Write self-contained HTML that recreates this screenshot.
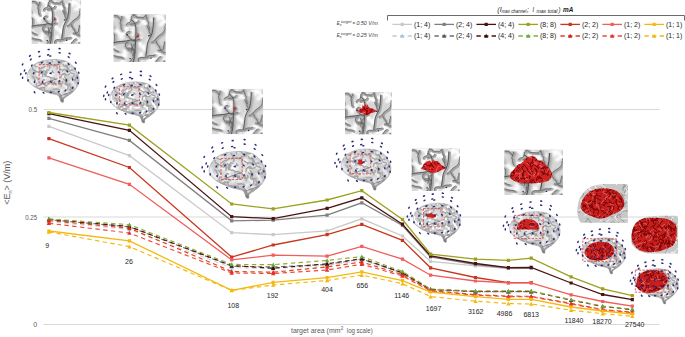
<!DOCTYPE html>
<html><head><meta charset="utf-8"><style>
html,body{margin:0;padding:0;background:#fff;}
svg{display:block;font-family:"Liberation Sans",sans-serif;}
</style></head><body>
<svg width="685" height="337" viewBox="0 0 685 337">
<defs><filter id="b1" x="-10%" y="-10%" width="120%" height="120%"><feGaussianBlur stdDeviation="1.6"/></filter><filter id="b03" x="-10%" y="-10%" width="120%" height="120%"><feGaussianBlur stdDeviation="0.3"/></filter><filter id="b05" x="-10%" y="-10%" width="120%" height="120%"><feGaussianBlur stdDeviation="0.5"/></filter><radialGradient id="bg" cx="0.45" cy="0.35" r="0.65"><stop offset="0" stop-color="#e2e2e2"/><stop offset="0.7" stop-color="#cacaca"/><stop offset="1" stop-color="#9c9c9c"/></radialGradient><clipPath id="bclip"><path d="M0.00,36.00 C-0.45,32.53 0.40,28.78 1.80,25.00 C3.20,21.22 4.65,18.35 7.80,15.00 C10.95,11.65 14.22,8.90 19.30,6.40 C24.38,3.90 29.39,2.25 36.00,1.10 C42.61,-0.05 49.34,-0.31 56.00,0.00 C62.66,0.31 67.60,0.87 73.00,2.80 C78.40,4.73 81.97,6.96 86.00,10.70 C90.03,14.44 92.88,18.83 95.40,23.60 C97.92,28.37 99.60,32.56 100.00,37.20 C100.40,41.84 99.22,45.39 97.60,49.40 C95.98,53.41 93.84,56.26 91.00,59.50 C88.16,62.74 84.77,65.06 81.80,67.40 C78.83,69.74 76.53,70.95 74.50,72.50 C72.47,74.05 71.40,74.22 70.50,76.00 C69.60,77.78 70.49,81.50 69.50,82.40 C68.51,83.30 66.17,82.33 65.00,81.00 C63.83,79.67 64.26,77.25 63.00,75.00 C61.74,72.75 61.60,70.34 58.00,68.50 C54.40,66.66 48.53,66.47 43.00,64.80 C37.47,63.13 32.59,61.45 27.30,59.20 C22.01,56.95 17.74,54.98 13.60,52.30 C9.46,49.62 6.75,47.23 4.30,44.30 C1.85,41.37 0.45,39.47 0.00,36.00Z"/></clipPath><linearGradient id="edge" x1="0" y1="0" x2="0" y2="1"><stop offset="0.3" stop-color="#ffffff" stop-opacity="0"/><stop offset="1" stop-color="#707070" stop-opacity="1"/></linearGradient><g id="brain"><path d="M0.00,36.00 C-0.45,32.53 0.40,28.78 1.80,25.00 C3.20,21.22 4.65,18.35 7.80,15.00 C10.95,11.65 14.22,8.90 19.30,6.40 C24.38,3.90 29.39,2.25 36.00,1.10 C42.61,-0.05 49.34,-0.31 56.00,0.00 C62.66,0.31 67.60,0.87 73.00,2.80 C78.40,4.73 81.97,6.96 86.00,10.70 C90.03,14.44 92.88,18.83 95.40,23.60 C97.92,28.37 99.60,32.56 100.00,37.20 C100.40,41.84 99.22,45.39 97.60,49.40 C95.98,53.41 93.84,56.26 91.00,59.50 C88.16,62.74 84.77,65.06 81.80,67.40 C78.83,69.74 76.53,70.95 74.50,72.50 C72.47,74.05 71.40,74.22 70.50,76.00 C69.60,77.78 70.49,81.50 69.50,82.40 C68.51,83.30 66.17,82.33 65.00,81.00 C63.83,79.67 64.26,77.25 63.00,75.00 C61.74,72.75 61.60,70.34 58.00,68.50 C54.40,66.66 48.53,66.47 43.00,64.80 C37.47,63.13 32.59,61.45 27.30,59.20 C22.01,56.95 17.74,54.98 13.60,52.30 C9.46,49.62 6.75,47.23 4.30,44.30 C1.85,41.37 0.45,39.47 0.00,36.00Z" fill="url(#bg)"/><g clip-path="url(#bclip)"><path d="M90.6,50.7L91.6,52.1L92.7,53.6L94.4,54.2L96.2,54.6L97.5,55.8 M70.7,36.7L69.7,35.2L69.0,33.5L68.9,31.7L68.3,30.0L68.2,28.2 M12.2,50.7L11.2,49.2L11.1,47.4L11.4,45.6L11.1,43.8L10.8,42.0 M90.3,8.1L90.0,6.4L89.8,4.6L88.9,3.0 M58.3,51.7L56.5,51.7L54.7,52.0L52.9,52.0L51.2,51.4L49.7,50.4L49.0,48.8L48.9,47.0 M3.7,37.0L5.1,38.1L5.8,39.8L6.4,41.5L6.5,43.3 M19.3,25.3L20.0,23.7L20.0,21.9L20.2,20.1 M2.4,28.8L2.1,30.6L2.0,32.4L1.5,34.1L1.7,35.9 M81.8,24.2L82.4,22.5L82.5,20.7L83.2,19.1L84.1,17.5 M13.1,84.8L11.6,85.7L10.6,87.3L10.7,89.1L9.8,90.6 M51.8,80.9L50.2,81.7L49.2,83.2L48.2,84.7L46.5,85.4L45.3,86.7L44.9,88.4L44.8,90.2 M33.9,69.3L32.3,68.5L30.5,68.5L28.7,68.6L26.9,68.5 M99.0,82.4L97.3,83.1L96.2,84.5L95.8,86.3L94.6,87.6 M40.9,29.7L42.5,29.0L43.6,27.5L45.2,26.8L46.3,25.3L46.9,23.6L48.1,22.3L48.5,20.5 M34.9,17.2L34.4,19.0L34.6,20.8L35.1,22.5L36.3,23.8L37.5,25.1L39.3,25.7L40.9,26.5 M19.3,39.7L18.7,41.4L18.0,43.1L17.8,44.9L17.9,46.7L17.1,48.3 M58.0,-3.8L56.3,-3.2L54.8,-2.3L53.1,-1.6L51.8,-0.3 M91.8,73.6L90.4,72.4L88.6,72.0L86.8,71.8L85.0,71.9L83.3,72.1L81.8,73.1L80.8,74.6 M-0.4,71.9L-2.2,72.1L-3.8,71.3L-4.7,69.8L-4.8,68.0 M72.5,9.4L73.3,7.8L73.3,6.0L73.5,4.2L74.6,2.8L75.6,1.3L77.1,0.3L78.8,-0.4 M78.0,-3.7L79.5,-4.7L80.4,-6.2L80.3,-8.0L79.4,-9.6L77.9,-10.6 M66.8,72.4L67.0,70.6L68.0,69.1L69.3,67.9 M32.3,2.2L32.2,0.4L32.3,-1.4L32.8,-3.2L33.7,-4.7L34.4,-6.3L35.7,-7.7 M22.7,54.4L24.2,55.4L25.6,56.5L26.3,58.2L26.2,60.0 M99.8,49.6L98.1,49.9L96.3,50.1L94.9,51.3L93.8,52.7L93.4,54.5L93.0,56.2L92.9,58.0 M-2.4,46.5L-1.3,48.0L-0.7,49.6L0.7,50.8L2.4,51.5 M69.3,48.9L71.0,49.4L72.7,49.9L74.5,50.1L76.2,50.5L78.0,51.0L79.4,52.0 M26.2,31.7L26.9,30.0L27.4,28.3L27.1,26.5L26.2,25.0L25.0,23.6 M75.0,28.2L76.8,28.3L78.3,27.5L80.1,27.1L81.8,26.4 M61.8,18.0L63.5,17.6L65.3,17.3L67.0,18.1L68.2,19.4 M50.4,1.0L48.8,0.1L47.8,-1.4L47.4,-3.2 M87.9,65.2L86.1,65.0L84.7,63.9L83.0,63.3L81.2,63.5L79.7,64.5L78.3,65.6 M67.8,21.3L67.2,19.6L66.5,18.0L65.8,16.3L64.5,15.1L62.9,14.2 M-3.4,86.9L-3.9,85.2L-3.9,83.4L-4.3,81.6L-5.1,80.0L-6.3,78.7L-6.9,77.0 M28.6,47.4L28.8,49.1L28.4,50.9L28.8,52.6L30.0,53.9L31.7,54.5L33.2,55.6 M93.8,77.3L92.5,76.1L91.4,74.7L89.7,74.1 M102.7,14.0L104.0,15.3L104.5,17.0L105.8,18.3L106.7,19.8L107.6,21.4 M64.4,63.1L64.5,61.3L65.5,59.8L66.8,58.6L68.3,57.6 M45.7,46.5L44.2,47.6L43.0,48.9L42.0,50.4L41.7,52.2L42.1,54.0 M45.9,32.8L44.1,32.7L42.3,32.7L40.7,33.4 M36.9,79.8L37.4,81.5L38.0,83.2L38.8,84.8L38.8,86.6L39.1,88.4L40.1,89.9L41.5,90.9 M10.0,76.9L10.0,75.1L9.1,73.5L8.9,71.7 M26.1,71.0L27.8,71.6L29.3,72.7L31.1,72.8L32.6,73.8L34.4,73.9L36.1,73.6 M85.1,39.9L85.9,41.5L86.6,43.2L87.3,44.8L88.6,46.1L89.4,47.7L90.4,49.2L91.6,50.5 M70.7,85.1L71.9,86.4L73.6,86.9L75.3,86.4L77.0,86.0L78.8,85.9L80.6,85.6L82.3,86.2 M86.1,6.1L84.3,6.6L82.6,6.9L81.1,8.0L79.7,9.0L78.0,9.7 M92.2,27.5L90.4,27.2L88.7,27.8L86.9,28.0L85.1,28.1 M94.4,1.6L93.2,2.9L91.6,3.7L89.9,4.4 M-2.2,55.9L-2.1,54.1L-2.8,52.5L-4.2,51.3L-5.6,50.1L-7.3,49.5L-8.3,48.1L-10.0,47.5 M88.6,78.2L89.1,76.4L89.5,74.7L90.2,73.0 M22.3,18.3L21.5,16.7L21.7,14.9L21.9,13.1L22.6,11.4L23.0,9.7 M1.4,3.0L2.3,1.4L3.3,-0.1L4.9,-0.8L6.7,-1.2L8.5,-0.9L10.1,-0.2L11.8,0.5 M49.2,75.2L47.4,75.7L45.9,76.7L44.1,77.1L42.9,78.4L41.3,79.3 M61.5,39.2L61.1,37.4L61.3,35.6L62.4,34.2L63.6,32.8 M75.3,64.7L75.1,62.9L75.8,61.3L75.8,59.5L75.4,57.7L76.0,56.0L75.6,54.3L75.0,52.6 M9.2,-3.6L7.8,-2.5L7.1,-0.8L5.7,0.3 M33.0,39.8L33.8,38.1L34.5,36.5L35.3,34.9L36.3,33.4L36.3,31.6L36.3,29.8L35.3,28.3 M3.4,14.1L5.1,13.4L6.7,12.7L8.5,12.7 M93.0,33.3L92.7,35.1L92.7,36.9L93.1,38.6 M62.0,86.0L61.1,84.5L59.6,83.5L58.1,82.4L56.4,81.8L54.6,82.0L52.9,82.3L51.3,83.2 M8.1,54.7L6.3,54.9L4.5,54.7L2.7,54.4L1.1,53.7L-0.7,53.3 M71.6,71.2L69.9,70.6L68.2,70.3L66.6,69.5L65.4,68.2L63.6,67.7 M49.1,27.2L47.9,28.6L47.1,30.2L45.5,31.1L44.2,32.3L43.2,33.8 M16.7,13.2L18.4,12.8L19.9,11.8L21.2,10.5L22.8,9.7 M27.1,0.6L25.5,1.4L23.7,1.4L22.0,0.8L20.2,0.7 M103.1,60.5L102.7,58.8L102.1,57.1L102.1,55.3 M35.8,45.5L34.6,44.1L33.4,42.8L32.1,41.5L30.5,40.7 M20.8,20.6L20.2,22.3L19.8,24.1L20.1,25.9L20.1,27.7L20.5,29.4L21.7,30.7 M35.9,58.9L34.5,57.8L33.2,56.6L31.9,55.3L30.3,54.5L29.1,53.2 M24.5,83.7L22.8,84.3L21.0,84.5L19.2,84.3L17.6,85.1L16.2,86.2L14.9,87.5L13.2,88.0" fill="none" stroke="#ffffff" stroke-width="4" stroke-linecap="round" filter="url(#b1)"/><path d="M87.6,53.4L86.2,54.3L85.0,55.3L83.8,56.3L83.1,57.7L81.7,58.6 M21.9,77.7L21.1,79.1L20.2,80.4L19.3,81.8L18.7,83.3 M65.2,50.5L65.3,48.9L64.5,47.5L63.4,46.4L62.9,44.8L62.8,43.3L62.6,41.7 M93.1,36.0L91.8,36.9L91.2,38.4L90.6,39.8 M61.4,64.8L62.7,65.8L63.9,66.8L64.7,68.2L64.5,69.8L64.9,71.4L66.2,72.4 M89.9,5.2L88.5,6.0L86.9,5.8L85.4,5.2L83.8,5.0 M15.4,1.8L17.0,2.3L18.5,1.9L20.0,1.3 M-2.2,46.1L-2.5,44.5L-3.2,43.1L-3.3,41.5L-3.1,40.0L-2.8,38.4L-2.3,36.9L-2.4,35.3 M73.4,27.1L71.9,26.6L70.3,27.1L68.9,27.9L67.4,28.3 M11.5,7.1L11.9,8.6L12.4,10.1L13.6,11.3L15.0,11.8L16.4,12.7L17.8,13.5L19.4,13.3 M28.3,42.1L29.1,40.7L30.5,40.0L31.8,39.0L33.3,38.8 M101.2,74.6L99.9,73.6L98.5,72.9L97.0,72.3L95.5,71.8 M27.5,52.7L26.5,53.9L25.1,54.7L23.8,55.6L22.3,56.2L20.7,56.1L19.1,56.0L17.5,56.0 M95.5,81.4L94.4,80.3L92.8,80.1L91.4,79.3L90.6,77.9L90.1,76.4 M42.5,16.9L43.0,15.4L43.4,13.9L43.4,12.3L43.2,10.7 M28.6,32.2L29.5,30.8L29.6,29.2L29.1,27.7L27.8,26.8L26.8,25.6L26.3,24.0L25.6,22.6 M80.8,26.9L80.0,28.3L78.5,28.9L76.9,28.9L75.4,29.5L73.8,29.5L72.4,28.8L70.8,28.9 M52.4,12.0L53.8,11.2L55.4,10.9L56.8,11.7L57.6,13.1L57.8,14.6L57.2,16.1L57.0,17.7 M102.9,19.2L102.9,17.6L103.7,16.2L103.8,14.6L103.2,13.1L103.3,11.5L104.3,10.3 M85.8,61.7L84.8,60.5L83.5,59.5L82.3,58.5 M24.8,5.3L26.4,5.1L28.0,4.9L29.4,4.2L30.7,3.3 M93.6,79.3L95.1,79.0L96.2,77.8L96.5,76.2 M20.8,66.7L21.6,68.1L22.3,69.6L21.9,71.1L21.9,72.7L22.8,74.1L22.7,75.7L23.0,77.3L23.9,78.6 M35.8,70.4L35.6,68.9L35.9,67.3L36.3,65.7L37.4,64.6L38.9,64.0L40.5,63.7L42.0,64.1L42.9,65.4 M64.3,34.8L64.8,33.2L64.9,31.6L65.3,30.1L66.3,28.9L67.8,28.2L69.1,27.4L70.6,26.8 M89.0,81.0L90.4,80.1L91.1,78.7L91.0,77.1L90.9,75.5L90.0,74.2L88.8,73.2L87.2,72.8 M24.1,75.8L23.6,77.3L22.9,78.7L21.8,79.8L20.2,80.2L18.6,79.9 M44.1,62.7L42.5,62.3L40.9,62.3L39.4,62.8L37.8,63.1L36.3,62.7L34.9,62.0L33.4,61.3 M-1.5,66.5L0.1,66.6L1.7,66.7L3.3,66.5L4.6,65.6 M37.6,49.1L36.2,49.8L34.6,49.6L33.4,48.5L32.4,47.3L30.8,46.8 M28.6,71.2L30.2,70.8L31.7,71.3L33.3,70.9L34.7,70.3L36.3,70.6L37.7,71.3L39.3,71.0 M62.0,76.6L63.3,75.8L64.2,74.5L65.1,73.1L65.0,71.5L64.6,70.0L64.8,68.4 M-1.9,30.4L-3.0,29.2L-4.5,28.6L-6.1,28.8L-7.5,29.5 M83.7,83.2L84.9,84.3L86.2,85.2L87.7,85.6L88.8,86.8L90.3,87.4L91.6,88.3 M102.1,8.6L101.9,7.0L101.4,5.4L100.8,4.0L99.4,3.1L97.8,3.0L96.3,2.6L94.7,2.7 M65.0,6.9L63.5,7.1L61.9,7.0L60.4,7.7L59.0,8.5L57.4,8.6L56.1,9.5L54.8,10.5 M9.8,15.0L10.1,16.6L10.3,18.1L11.0,19.6L12.3,20.5L13.9,20.7L15.2,21.6L16.6,22.3 M54.8,74.3L56.3,74.5L57.8,73.8L58.9,72.7L60.4,72.2L61.5,71.0L62.0,69.5L61.5,67.9L61.1,66.4 M45.0,34.0L43.4,33.6L42.2,32.6L40.6,32.4L39.0,32.7L37.6,32.0L36.1,31.5L35.0,30.3L33.5,29.9 M54.9,37.5L53.4,36.9L52.2,35.9L50.9,35.0L49.3,35.1L47.7,35.2L46.2,35.6L45.0,36.6 M71.0,81.2L70.0,80.0L68.6,79.1L67.1,78.7L65.5,78.2L64.0,78.0 M41.7,69.4L42.7,70.7L43.3,72.2L44.2,73.5L44.7,75.0L44.6,76.6 M69.0,36.6L70.1,37.8L71.2,39.0L72.8,39.5L74.2,40.1 M76.1,58.2L77.2,57.1L77.7,55.5L78.1,54.0L78.4,52.4L78.3,50.8L77.5,49.4L76.3,48.4L74.7,48.4 M17.9,44.7L17.4,46.2L17.2,47.8L17.4,49.4L17.4,51.0L17.7,52.6L18.4,54.1L19.7,54.9L21.3,55.3 M66.8,1.3L65.5,0.5L64.1,-0.4L62.5,-0.6 M102.5,46.0L102.0,47.6L100.8,48.6L99.2,48.8L98.0,49.9L96.4,50.0L94.8,49.9 M74.7,21.3L76.2,20.7L77.0,19.3L77.2,17.7L77.1,16.1L76.7,14.6 M82.7,46.6L81.4,47.5L79.8,47.7L78.2,47.6L76.8,46.7L75.6,45.6L74.5,44.5L73.9,43.0 M33.5,31.5L34.6,30.4L35.5,29.1L35.8,27.5L36.9,26.3L37.2,24.8L38.0,23.4 M99.8,61.2L101.4,61.4L102.9,61.0L104.2,60.1L104.7,58.6 M18.2,88.4L16.6,88.5L15.2,87.8L13.6,87.7L12.2,87.0 M55.1,48.2L54.0,47.1L53.2,45.7L52.7,44.2L52.6,42.6 M14.4,8.4L14.6,6.9L15.7,5.6L17.2,5.1L18.6,4.5L20.2,4.9L21.7,5.5L23.3,5.5 M94.4,63.4L95.5,62.3L96.7,61.2L98.1,60.3L99.4,59.5L100.9,58.9L102.1,57.8L103.1,56.6L104.2,55.5 M13.2,34.4L11.9,33.5L10.6,32.7L9.2,31.8 M13.7,43.6L14.2,42.1L15.1,40.8L15.0,39.2L14.1,37.9L13.3,36.5L12.2,35.3 M73.0,47.5L72.8,45.9L73.3,44.4L73.7,42.8L74.8,41.6L75.0,40.1L74.4,38.6L73.7,37.1 M12.6,71.9L13.9,71.0L15.4,70.6L16.9,69.9L18.1,68.9 M80.2,3.8L79.3,2.4L77.8,1.9L76.5,0.9L75.8,-0.6L75.8,-2.2L75.4,-3.7 M52.5,-0.9L54.0,-0.5L55.6,-0.4L56.9,0.6L57.7,2.0L58.5,3.4 M35.1,-3.0L33.9,-1.9L32.6,-0.9L31.4,0.1L29.8,0.4 M48.3,3.5L47.5,2.1L47.5,0.5L48.6,-0.7L49.7,-1.8L50.3,-3.3 M40.9,20.1L39.4,19.5L37.8,19.6L36.6,20.7L36.0,22.2L35.4,23.6L34.6,25.0 M38.8,12.7L40.1,11.8L40.7,10.3L40.9,8.7L40.8,7.1L40.4,5.6L39.5,4.3L38.0,3.7 M26.0,-3.8L25.9,-2.2L25.9,-0.6L26.5,0.8L26.5,2.4 M22.8,18.1L24.4,17.8L25.4,16.6L26.9,15.9L28.4,15.5L30.0,15.6L31.3,14.7L32.5,13.5L34.0,13.0 M53.3,65.1L51.7,65.0L50.5,64.0L49.3,62.9L48.7,61.4 M-2.3,26.7L-3.4,25.5L-4.1,24.0L-5.1,22.8L-5.6,21.3L-5.2,19.7 M32.3,38.8L30.7,39.0L29.6,40.2L28.9,41.7L28.1,43.1L27.1,44.3 M102.8,24.1L103.3,25.7L104.5,26.7L105.0,28.2L105.5,29.7L105.8,31.3L106.2,32.8 M48.4,40.9L46.8,40.8L45.2,41.2L43.7,41.7L42.6,42.9L42.1,44.4L42.7,45.9 M36.2,80.3L36.3,81.9L36.9,83.4L37.2,85.0L37.0,86.5L37.4,88.1L37.1,89.7L36.1,90.9L36.1,92.5 M99.4,53.6L99.5,52.0L99.9,50.5L100.7,49.1L100.8,47.5L101.8,46.2L103.3,45.6L104.8,45.9L106.4,46.2 M-1.1,82.0L-2.7,81.6L-4.2,81.2L-5.3,80.0L-6.8,79.3 M46.5,80.2L45.3,81.3L43.8,81.6L42.2,82.0L41.2,83.3L40.0,84.3 M6.1,86.1L4.5,85.9L3.1,86.7L1.5,86.9L-0.1,87.1 M67.3,21.6L68.0,20.2L69.5,19.5L71.0,19.0L72.6,19.3L73.7,20.5L75.3,20.7 M-0.9,48.4L-2.5,48.5L-4.1,48.4L-5.6,48.6L-7.0,49.5L-8.2,50.6 M79.9,73.0L80.6,74.5L80.4,76.1L79.3,77.2L78.8,78.7L79.1,80.3L80.1,81.5L81.7,81.9 M93.0,39.5L93.1,37.9L93.2,36.3L93.6,34.8L94.1,33.2L94.8,31.8L95.3,30.3L96.2,29.0 M87.3,19.8L85.7,19.6L84.1,19.9L82.8,20.8L81.3,21.4L79.9,22.1L78.4,22.6L77.3,23.7 M23.3,58.6L24.9,58.4L26.3,57.6L26.9,56.1L27.8,54.8L29.2,54.0L30.8,53.6L32.3,53.8L33.9,54.3 M50.4,24.3L49.0,23.5L48.1,22.2L48.0,20.6 M13.8,50.9L13.8,52.5L13.7,54.1L14.5,55.4L14.4,57.0L13.6,58.4L13.0,59.9 M101.9,71.4L102.0,73.0L101.4,74.4L100.3,75.6L99.6,77.1L99.5,78.7L99.4,80.3L98.5,81.6L97.1,82.4 M75.4,43.6L75.8,42.0L76.6,40.7L76.5,39.1L75.8,37.6L74.5,36.8L73.7,35.3L72.9,34.0L71.7,32.9 M13.4,27.2L14.1,25.8L14.8,24.4L14.8,22.8L14.3,21.3 M94.7,65.3L96.3,65.3L97.7,64.5L99.1,63.8L100.7,63.7L102.2,63.0L103.4,61.9 M40.1,84.4L38.7,83.7L37.8,82.3L37.0,81.0L36.2,79.6L35.0,78.5 M73.5,66.4L75.0,66.7L76.3,67.7L77.2,69.0L78.3,70.2L78.2,71.8L78.9,73.3L79.7,74.7L80.2,76.2 M19.9,55.1L21.4,55.4L23.0,55.8L24.3,56.7L25.8,57.3L27.3,58.0L28.8,58.3 M80.3,18.9L79.1,17.8L78.7,16.3L77.4,15.4L76.8,13.9L76.4,12.3L75.6,10.9L74.1,10.4 M90.8,27.5L89.2,27.4L87.8,26.5L86.2,26.5L84.7,26.0L83.4,25.1L82.6,23.7 M81.6,50.4L82.4,51.7L83.3,53.1L84.8,53.6L85.7,54.9L86.0,56.5 M3.8,20.0L3.6,18.4L2.9,17.0L2.5,15.5L2.1,13.9L2.5,12.4L2.7,10.8 M11.3,0.4L9.8,-0.1L8.2,0.3L6.7,0.8L5.7,2.1L4.7,3.3L4.7,4.9L4.7,6.5L4.7,8.1 M39.8,60.0L38.2,60.2L36.7,59.9L35.1,59.7L33.6,59.0L32.9,57.6L32.3,56.1L32.1,54.5L32.5,52.9 M79.4,10.2L78.7,8.7L78.6,7.1L79.0,5.5L79.1,3.9L79.5,2.4L80.6,1.3 M83.4,64.3L82.4,65.6L82.0,67.2L81.6,68.7L80.6,69.9 M59.4,84.6L58.2,83.5L56.8,82.7L55.6,81.7L54.4,80.6 M43.5,87.2L43.5,85.6L42.5,84.4L41.8,82.9L42.1,81.3L41.3,79.9 M3.2,80.2L3.5,78.6L4.0,77.1L5.3,76.2L6.6,75.2L8.2,75.0 M16.3,22.6L17.8,23.0L19.4,23.2L20.7,24.1L22.0,25.0L23.5,25.7L24.6,26.8 M51.2,62.2L49.8,61.4L48.4,60.6L46.8,60.6L45.2,60.3L43.6,60.4L42.2,61.0L41.0,62.1 M-1.3,56.1L-0.6,57.5L0.0,59.0L1.4,59.9 M16.3,33.0L17.5,34.1L18.5,35.3L19.9,36.1L20.6,37.5L20.5,39.1 M25.0,86.6L23.4,86.3L21.9,87.0L20.4,87.3L18.9,88.0L17.4,88.5L15.9,88.1L14.3,88.0 M5.5,78.7L6.0,77.1L5.5,75.6L5.3,74.0L5.3,72.4L4.8,70.9L3.6,69.9L2.2,69.1L0.6,69.2 M102.4,32.4L103.3,33.8L103.3,35.4L103.9,36.9L104.1,38.5L104.1,40.1L104.4,41.6L104.8,43.2 M46.8,9.9L48.1,10.9L49.7,11.1L51.1,11.8L52.7,11.3 M9.2,60.8L10.5,61.7L12.1,61.6L13.7,61.6L15.3,61.8L16.9,61.5L18.4,61.2 M66.8,19.3L65.4,18.5L63.8,18.0L62.6,16.9L61.3,16.1 M62.0,58.9L60.8,57.8L59.3,57.2L57.7,56.9L56.3,56.3L54.7,56.5L53.1,56.8L51.6,57.2L50.1,56.7 M-3.0,-0.2L-3.8,1.2L-4.0,2.8L-3.8,4.4L-4.0,5.9L-3.5,7.5L-3.2,9.0L-2.4,10.4L-2.1,12.0 M52.8,46.1L51.4,45.4L50.0,44.5L48.5,44.0L46.9,43.6L45.4,43.2L43.9,43.6L42.3,43.7 M22.8,56.5L24.4,56.4L25.8,57.3L27.1,58.2L28.0,59.5L28.2,61.1L28.3,62.7 M57.5,82.6L58.2,81.1L59.5,80.3L60.4,78.9L61.4,77.7 M89.1,-0.4L88.8,1.1L88.7,2.7L89.3,4.2L89.0,5.8L88.1,7.1L87.9,8.7 M73.1,2.5L71.5,2.5L70.1,3.1L68.5,2.8L66.9,2.9L65.6,3.9L64.0,3.8L62.4,3.6 M49.7,23.8L48.1,23.7L46.6,24.3L45.9,25.8L45.9,27.4 M85.3,35.8L86.3,34.6L87.4,33.4L88.7,32.5L89.5,31.1L91.0,30.6 M67.5,42.0L68.0,43.5L67.9,45.1L66.9,46.3L65.3,46.7L63.7,47.0L62.3,46.4L60.8,45.8 M27.1,20.1L26.0,21.3L24.4,21.6L23.3,22.7 M49.6,48.4L50.4,47.1L50.6,45.5L50.3,43.9L49.2,42.8L48.2,41.5 M34.6,22.3L34.6,23.9L34.3,25.5L33.5,26.8L32.3,27.8 M0.5,7.7L1.5,9.0L2.8,9.9L4.4,10.1L5.9,9.6L7.3,8.8L8.8,8.3L10.4,8.1L11.8,7.3 M75.0,79.2L75.8,80.6L77.2,81.3L78.7,82.0L79.7,83.3 M30.2,26.5L29.8,25.0L30.4,23.5L31.5,22.3L32.0,20.8 M69.1,9.0L69.5,10.5L70.8,11.5L72.3,12.0L73.8,12.5L75.4,12.8L76.9,12.2" fill="none" stroke="#b4b4b4" stroke-width="2.6" stroke-linecap="round" filter="url(#b05)" transform="translate(0.6,0.8)"/><path d="M87.6,53.4L86.2,54.3L85.0,55.3L83.8,56.3L83.1,57.7L81.7,58.6 M21.9,77.7L21.1,79.1L20.2,80.4L19.3,81.8L18.7,83.3 M65.2,50.5L65.3,48.9L64.5,47.5L63.4,46.4L62.9,44.8L62.8,43.3L62.6,41.7 M93.1,36.0L91.8,36.9L91.2,38.4L90.6,39.8 M61.4,64.8L62.7,65.8L63.9,66.8L64.7,68.2L64.5,69.8L64.9,71.4L66.2,72.4 M89.9,5.2L88.5,6.0L86.9,5.8L85.4,5.2L83.8,5.0 M15.4,1.8L17.0,2.3L18.5,1.9L20.0,1.3 M-2.2,46.1L-2.5,44.5L-3.2,43.1L-3.3,41.5L-3.1,40.0L-2.8,38.4L-2.3,36.9L-2.4,35.3 M73.4,27.1L71.9,26.6L70.3,27.1L68.9,27.9L67.4,28.3 M11.5,7.1L11.9,8.6L12.4,10.1L13.6,11.3L15.0,11.8L16.4,12.7L17.8,13.5L19.4,13.3 M28.3,42.1L29.1,40.7L30.5,40.0L31.8,39.0L33.3,38.8 M101.2,74.6L99.9,73.6L98.5,72.9L97.0,72.3L95.5,71.8 M27.5,52.7L26.5,53.9L25.1,54.7L23.8,55.6L22.3,56.2L20.7,56.1L19.1,56.0L17.5,56.0 M95.5,81.4L94.4,80.3L92.8,80.1L91.4,79.3L90.6,77.9L90.1,76.4 M42.5,16.9L43.0,15.4L43.4,13.9L43.4,12.3L43.2,10.7 M28.6,32.2L29.5,30.8L29.6,29.2L29.1,27.7L27.8,26.8L26.8,25.6L26.3,24.0L25.6,22.6 M80.8,26.9L80.0,28.3L78.5,28.9L76.9,28.9L75.4,29.5L73.8,29.5L72.4,28.8L70.8,28.9 M52.4,12.0L53.8,11.2L55.4,10.9L56.8,11.7L57.6,13.1L57.8,14.6L57.2,16.1L57.0,17.7 M102.9,19.2L102.9,17.6L103.7,16.2L103.8,14.6L103.2,13.1L103.3,11.5L104.3,10.3 M85.8,61.7L84.8,60.5L83.5,59.5L82.3,58.5 M24.8,5.3L26.4,5.1L28.0,4.9L29.4,4.2L30.7,3.3 M93.6,79.3L95.1,79.0L96.2,77.8L96.5,76.2 M20.8,66.7L21.6,68.1L22.3,69.6L21.9,71.1L21.9,72.7L22.8,74.1L22.7,75.7L23.0,77.3L23.9,78.6 M35.8,70.4L35.6,68.9L35.9,67.3L36.3,65.7L37.4,64.6L38.9,64.0L40.5,63.7L42.0,64.1L42.9,65.4 M64.3,34.8L64.8,33.2L64.9,31.6L65.3,30.1L66.3,28.9L67.8,28.2L69.1,27.4L70.6,26.8 M89.0,81.0L90.4,80.1L91.1,78.7L91.0,77.1L90.9,75.5L90.0,74.2L88.8,73.2L87.2,72.8 M24.1,75.8L23.6,77.3L22.9,78.7L21.8,79.8L20.2,80.2L18.6,79.9 M44.1,62.7L42.5,62.3L40.9,62.3L39.4,62.8L37.8,63.1L36.3,62.7L34.9,62.0L33.4,61.3 M-1.5,66.5L0.1,66.6L1.7,66.7L3.3,66.5L4.6,65.6 M37.6,49.1L36.2,49.8L34.6,49.6L33.4,48.5L32.4,47.3L30.8,46.8 M28.6,71.2L30.2,70.8L31.7,71.3L33.3,70.9L34.7,70.3L36.3,70.6L37.7,71.3L39.3,71.0 M62.0,76.6L63.3,75.8L64.2,74.5L65.1,73.1L65.0,71.5L64.6,70.0L64.8,68.4 M-1.9,30.4L-3.0,29.2L-4.5,28.6L-6.1,28.8L-7.5,29.5 M83.7,83.2L84.9,84.3L86.2,85.2L87.7,85.6L88.8,86.8L90.3,87.4L91.6,88.3 M102.1,8.6L101.9,7.0L101.4,5.4L100.8,4.0L99.4,3.1L97.8,3.0L96.3,2.6L94.7,2.7 M65.0,6.9L63.5,7.1L61.9,7.0L60.4,7.7L59.0,8.5L57.4,8.6L56.1,9.5L54.8,10.5 M9.8,15.0L10.1,16.6L10.3,18.1L11.0,19.6L12.3,20.5L13.9,20.7L15.2,21.6L16.6,22.3 M54.8,74.3L56.3,74.5L57.8,73.8L58.9,72.7L60.4,72.2L61.5,71.0L62.0,69.5L61.5,67.9L61.1,66.4 M45.0,34.0L43.4,33.6L42.2,32.6L40.6,32.4L39.0,32.7L37.6,32.0L36.1,31.5L35.0,30.3L33.5,29.9 M54.9,37.5L53.4,36.9L52.2,35.9L50.9,35.0L49.3,35.1L47.7,35.2L46.2,35.6L45.0,36.6 M71.0,81.2L70.0,80.0L68.6,79.1L67.1,78.7L65.5,78.2L64.0,78.0 M41.7,69.4L42.7,70.7L43.3,72.2L44.2,73.5L44.7,75.0L44.6,76.6 M69.0,36.6L70.1,37.8L71.2,39.0L72.8,39.5L74.2,40.1 M76.1,58.2L77.2,57.1L77.7,55.5L78.1,54.0L78.4,52.4L78.3,50.8L77.5,49.4L76.3,48.4L74.7,48.4 M17.9,44.7L17.4,46.2L17.2,47.8L17.4,49.4L17.4,51.0L17.7,52.6L18.4,54.1L19.7,54.9L21.3,55.3 M66.8,1.3L65.5,0.5L64.1,-0.4L62.5,-0.6 M102.5,46.0L102.0,47.6L100.8,48.6L99.2,48.8L98.0,49.9L96.4,50.0L94.8,49.9 M74.7,21.3L76.2,20.7L77.0,19.3L77.2,17.7L77.1,16.1L76.7,14.6 M82.7,46.6L81.4,47.5L79.8,47.7L78.2,47.6L76.8,46.7L75.6,45.6L74.5,44.5L73.9,43.0 M33.5,31.5L34.6,30.4L35.5,29.1L35.8,27.5L36.9,26.3L37.2,24.8L38.0,23.4 M99.8,61.2L101.4,61.4L102.9,61.0L104.2,60.1L104.7,58.6 M18.2,88.4L16.6,88.5L15.2,87.8L13.6,87.7L12.2,87.0 M55.1,48.2L54.0,47.1L53.2,45.7L52.7,44.2L52.6,42.6 M14.4,8.4L14.6,6.9L15.7,5.6L17.2,5.1L18.6,4.5L20.2,4.9L21.7,5.5L23.3,5.5 M94.4,63.4L95.5,62.3L96.7,61.2L98.1,60.3L99.4,59.5L100.9,58.9L102.1,57.8L103.1,56.6L104.2,55.5 M13.2,34.4L11.9,33.5L10.6,32.7L9.2,31.8 M13.7,43.6L14.2,42.1L15.1,40.8L15.0,39.2L14.1,37.9L13.3,36.5L12.2,35.3 M73.0,47.5L72.8,45.9L73.3,44.4L73.7,42.8L74.8,41.6L75.0,40.1L74.4,38.6L73.7,37.1 M12.6,71.9L13.9,71.0L15.4,70.6L16.9,69.9L18.1,68.9 M80.2,3.8L79.3,2.4L77.8,1.9L76.5,0.9L75.8,-0.6L75.8,-2.2L75.4,-3.7 M52.5,-0.9L54.0,-0.5L55.6,-0.4L56.9,0.6L57.7,2.0L58.5,3.4 M35.1,-3.0L33.9,-1.9L32.6,-0.9L31.4,0.1L29.8,0.4 M48.3,3.5L47.5,2.1L47.5,0.5L48.6,-0.7L49.7,-1.8L50.3,-3.3 M40.9,20.1L39.4,19.5L37.8,19.6L36.6,20.7L36.0,22.2L35.4,23.6L34.6,25.0 M38.8,12.7L40.1,11.8L40.7,10.3L40.9,8.7L40.8,7.1L40.4,5.6L39.5,4.3L38.0,3.7 M26.0,-3.8L25.9,-2.2L25.9,-0.6L26.5,0.8L26.5,2.4 M22.8,18.1L24.4,17.8L25.4,16.6L26.9,15.9L28.4,15.5L30.0,15.6L31.3,14.7L32.5,13.5L34.0,13.0 M53.3,65.1L51.7,65.0L50.5,64.0L49.3,62.9L48.7,61.4 M-2.3,26.7L-3.4,25.5L-4.1,24.0L-5.1,22.8L-5.6,21.3L-5.2,19.7 M32.3,38.8L30.7,39.0L29.6,40.2L28.9,41.7L28.1,43.1L27.1,44.3 M102.8,24.1L103.3,25.7L104.5,26.7L105.0,28.2L105.5,29.7L105.8,31.3L106.2,32.8 M48.4,40.9L46.8,40.8L45.2,41.2L43.7,41.7L42.6,42.9L42.1,44.4L42.7,45.9 M36.2,80.3L36.3,81.9L36.9,83.4L37.2,85.0L37.0,86.5L37.4,88.1L37.1,89.7L36.1,90.9L36.1,92.5 M99.4,53.6L99.5,52.0L99.9,50.5L100.7,49.1L100.8,47.5L101.8,46.2L103.3,45.6L104.8,45.9L106.4,46.2 M-1.1,82.0L-2.7,81.6L-4.2,81.2L-5.3,80.0L-6.8,79.3 M46.5,80.2L45.3,81.3L43.8,81.6L42.2,82.0L41.2,83.3L40.0,84.3 M6.1,86.1L4.5,85.9L3.1,86.7L1.5,86.9L-0.1,87.1 M67.3,21.6L68.0,20.2L69.5,19.5L71.0,19.0L72.6,19.3L73.7,20.5L75.3,20.7 M-0.9,48.4L-2.5,48.5L-4.1,48.4L-5.6,48.6L-7.0,49.5L-8.2,50.6 M79.9,73.0L80.6,74.5L80.4,76.1L79.3,77.2L78.8,78.7L79.1,80.3L80.1,81.5L81.7,81.9 M93.0,39.5L93.1,37.9L93.2,36.3L93.6,34.8L94.1,33.2L94.8,31.8L95.3,30.3L96.2,29.0 M87.3,19.8L85.7,19.6L84.1,19.9L82.8,20.8L81.3,21.4L79.9,22.1L78.4,22.6L77.3,23.7 M23.3,58.6L24.9,58.4L26.3,57.6L26.9,56.1L27.8,54.8L29.2,54.0L30.8,53.6L32.3,53.8L33.9,54.3 M50.4,24.3L49.0,23.5L48.1,22.2L48.0,20.6 M13.8,50.9L13.8,52.5L13.7,54.1L14.5,55.4L14.4,57.0L13.6,58.4L13.0,59.9 M101.9,71.4L102.0,73.0L101.4,74.4L100.3,75.6L99.6,77.1L99.5,78.7L99.4,80.3L98.5,81.6L97.1,82.4 M75.4,43.6L75.8,42.0L76.6,40.7L76.5,39.1L75.8,37.6L74.5,36.8L73.7,35.3L72.9,34.0L71.7,32.9 M13.4,27.2L14.1,25.8L14.8,24.4L14.8,22.8L14.3,21.3 M94.7,65.3L96.3,65.3L97.7,64.5L99.1,63.8L100.7,63.7L102.2,63.0L103.4,61.9 M40.1,84.4L38.7,83.7L37.8,82.3L37.0,81.0L36.2,79.6L35.0,78.5 M73.5,66.4L75.0,66.7L76.3,67.7L77.2,69.0L78.3,70.2L78.2,71.8L78.9,73.3L79.7,74.7L80.2,76.2 M19.9,55.1L21.4,55.4L23.0,55.8L24.3,56.7L25.8,57.3L27.3,58.0L28.8,58.3 M80.3,18.9L79.1,17.8L78.7,16.3L77.4,15.4L76.8,13.9L76.4,12.3L75.6,10.9L74.1,10.4 M90.8,27.5L89.2,27.4L87.8,26.5L86.2,26.5L84.7,26.0L83.4,25.1L82.6,23.7 M81.6,50.4L82.4,51.7L83.3,53.1L84.8,53.6L85.7,54.9L86.0,56.5 M3.8,20.0L3.6,18.4L2.9,17.0L2.5,15.5L2.1,13.9L2.5,12.4L2.7,10.8 M11.3,0.4L9.8,-0.1L8.2,0.3L6.7,0.8L5.7,2.1L4.7,3.3L4.7,4.9L4.7,6.5L4.7,8.1 M39.8,60.0L38.2,60.2L36.7,59.9L35.1,59.7L33.6,59.0L32.9,57.6L32.3,56.1L32.1,54.5L32.5,52.9 M79.4,10.2L78.7,8.7L78.6,7.1L79.0,5.5L79.1,3.9L79.5,2.4L80.6,1.3 M83.4,64.3L82.4,65.6L82.0,67.2L81.6,68.7L80.6,69.9 M59.4,84.6L58.2,83.5L56.8,82.7L55.6,81.7L54.4,80.6 M43.5,87.2L43.5,85.6L42.5,84.4L41.8,82.9L42.1,81.3L41.3,79.9 M3.2,80.2L3.5,78.6L4.0,77.1L5.3,76.2L6.6,75.2L8.2,75.0 M16.3,22.6L17.8,23.0L19.4,23.2L20.7,24.1L22.0,25.0L23.5,25.7L24.6,26.8 M51.2,62.2L49.8,61.4L48.4,60.6L46.8,60.6L45.2,60.3L43.6,60.4L42.2,61.0L41.0,62.1 M-1.3,56.1L-0.6,57.5L0.0,59.0L1.4,59.9 M16.3,33.0L17.5,34.1L18.5,35.3L19.9,36.1L20.6,37.5L20.5,39.1 M25.0,86.6L23.4,86.3L21.9,87.0L20.4,87.3L18.9,88.0L17.4,88.5L15.9,88.1L14.3,88.0 M5.5,78.7L6.0,77.1L5.5,75.6L5.3,74.0L5.3,72.4L4.8,70.9L3.6,69.9L2.2,69.1L0.6,69.2 M102.4,32.4L103.3,33.8L103.3,35.4L103.9,36.9L104.1,38.5L104.1,40.1L104.4,41.6L104.8,43.2 M46.8,9.9L48.1,10.9L49.7,11.1L51.1,11.8L52.7,11.3 M9.2,60.8L10.5,61.7L12.1,61.6L13.7,61.6L15.3,61.8L16.9,61.5L18.4,61.2 M66.8,19.3L65.4,18.5L63.8,18.0L62.6,16.9L61.3,16.1 M62.0,58.9L60.8,57.8L59.3,57.2L57.7,56.9L56.3,56.3L54.7,56.5L53.1,56.8L51.6,57.2L50.1,56.7 M-3.0,-0.2L-3.8,1.2L-4.0,2.8L-3.8,4.4L-4.0,5.9L-3.5,7.5L-3.2,9.0L-2.4,10.4L-2.1,12.0 M52.8,46.1L51.4,45.4L50.0,44.5L48.5,44.0L46.9,43.6L45.4,43.2L43.9,43.6L42.3,43.7 M22.8,56.5L24.4,56.4L25.8,57.3L27.1,58.2L28.0,59.5L28.2,61.1L28.3,62.7 M57.5,82.6L58.2,81.1L59.5,80.3L60.4,78.9L61.4,77.7 M89.1,-0.4L88.8,1.1L88.7,2.7L89.3,4.2L89.0,5.8L88.1,7.1L87.9,8.7 M73.1,2.5L71.5,2.5L70.1,3.1L68.5,2.8L66.9,2.9L65.6,3.9L64.0,3.8L62.4,3.6 M49.7,23.8L48.1,23.7L46.6,24.3L45.9,25.8L45.9,27.4 M85.3,35.8L86.3,34.6L87.4,33.4L88.7,32.5L89.5,31.1L91.0,30.6 M67.5,42.0L68.0,43.5L67.9,45.1L66.9,46.3L65.3,46.7L63.7,47.0L62.3,46.4L60.8,45.8 M27.1,20.1L26.0,21.3L24.4,21.6L23.3,22.7 M49.6,48.4L50.4,47.1L50.6,45.5L50.3,43.9L49.2,42.8L48.2,41.5 M34.6,22.3L34.6,23.9L34.3,25.5L33.5,26.8L32.3,27.8 M0.5,7.7L1.5,9.0L2.8,9.9L4.4,10.1L5.9,9.6L7.3,8.8L8.8,8.3L10.4,8.1L11.8,7.3 M75.0,79.2L75.8,80.6L77.2,81.3L78.7,82.0L79.7,83.3 M30.2,26.5L29.8,25.0L30.4,23.5L31.5,22.3L32.0,20.8 M69.1,9.0L69.5,10.5L70.8,11.5L72.3,12.0L73.8,12.5L75.4,12.8L76.9,12.2" fill="none" stroke="#8a8a8a" stroke-width="0.8" stroke-linecap="round" stroke-linejoin="round"/><path d="M0.00,36.00 C-0.45,32.53 0.40,28.78 1.80,25.00 C3.20,21.22 4.65,18.35 7.80,15.00 C10.95,11.65 14.22,8.90 19.30,6.40 C24.38,3.90 29.39,2.25 36.00,1.10 C42.61,-0.05 49.34,-0.31 56.00,0.00 C62.66,0.31 67.60,0.87 73.00,2.80 C78.40,4.73 81.97,6.96 86.00,10.70 C90.03,14.44 92.88,18.83 95.40,23.60 C97.92,28.37 99.60,32.56 100.00,37.20 C100.40,41.84 99.22,45.39 97.60,49.40 C95.98,53.41 93.84,56.26 91.00,59.50 C88.16,62.74 84.77,65.06 81.80,67.40 C78.83,69.74 76.53,70.95 74.50,72.50 C72.47,74.05 71.40,74.22 70.50,76.00 C69.60,77.78 70.49,81.50 69.50,82.40 C68.51,83.30 66.17,82.33 65.00,81.00 C63.83,79.67 64.26,77.25 63.00,75.00 C61.74,72.75 61.60,70.34 58.00,68.50 C54.40,66.66 48.53,66.47 43.00,64.80 C37.47,63.13 32.59,61.45 27.30,59.20 C22.01,56.95 17.74,54.98 13.60,52.30 C9.46,49.62 6.75,47.23 4.30,44.30 C1.85,41.37 0.45,39.47 0.00,36.00Z" fill="none" stroke="url(#edge)" stroke-width="6" filter="url(#b1)"/><path d="M20,51 C30,47 44,41 58,37 M64,71 C70,67 78,65 88,62" fill="none" stroke="#7a7a7a" stroke-width="1.6"/></g><path d="M0.00,36.00 C-0.45,32.53 0.40,28.78 1.80,25.00 C3.20,21.22 4.65,18.35 7.80,15.00 C10.95,11.65 14.22,8.90 19.30,6.40 C24.38,3.90 29.39,2.25 36.00,1.10 C42.61,-0.05 49.34,-0.31 56.00,0.00 C62.66,0.31 67.60,0.87 73.00,2.80 C78.40,4.73 81.97,6.96 86.00,10.70 C90.03,14.44 92.88,18.83 95.40,23.60 C97.92,28.37 99.60,32.56 100.00,37.20 C100.40,41.84 99.22,45.39 97.60,49.40 C95.98,53.41 93.84,56.26 91.00,59.50 C88.16,62.74 84.77,65.06 81.80,67.40 C78.83,69.74 76.53,70.95 74.50,72.50 C72.47,74.05 71.40,74.22 70.50,76.00 C69.60,77.78 70.49,81.50 69.50,82.40 C68.51,83.30 66.17,82.33 65.00,81.00 C63.83,79.67 64.26,77.25 63.00,75.00 C61.74,72.75 61.60,70.34 58.00,68.50 C54.40,66.66 48.53,66.47 43.00,64.80 C37.47,63.13 32.59,61.45 27.30,59.20 C22.01,56.95 17.74,54.98 13.60,52.30 C9.46,49.62 6.75,47.23 4.30,44.30 C1.85,41.37 0.45,39.47 0.00,36.00Z" fill="none" stroke="#a8a8a8" stroke-width="1.0"/></g><clipPath id="cclip"><rect x="0" y="0" width="100" height="100"/></clipPath><filter id="b25" x="-10%" y="-10%" width="120%" height="120%"><feGaussianBlur stdDeviation="2.5"/></filter><g id="cortex"><rect x="0" y="0" width="100" height="100" fill="#d6d6d6"/><g clip-path="url(#cclip)"><path d="M97.1,93.2L100.0,92.4L103.0,91.9L106.0,91.9L108.6,93.3L111.6,93.5L114.6,94.1L117.4,95.1L120.4,94.8L123.1,93.6 M68.1,55.2L66.7,57.9L66.3,60.9L65.0,63.5L63.6,66.2L62.9,69.1L61.9,72.0 M66.7,21.9L64.3,20.1L61.6,18.8L58.6,18.3L55.7,17.5L53.2,16.0L50.6,14.5L47.7,13.7L44.8,12.8L41.8,12.8L38.9,11.9 M-2.2,63.8L-2.6,66.7L-2.1,69.7L-1.0,72.5L1.1,74.6L3.5,76.4L6.2,77.7L8.4,79.8L10.1,82.3 M35.4,68.2L36.6,65.4L38.6,63.2L41.1,61.5L43.4,59.6L46.2,58.5L48.3,56.4L49.4,53.6L49.9,50.6L50.2,47.6L50.1,44.6L50.1,41.6 M50.5,100.8L51.8,98.0L52.0,95.0L52.9,92.2L52.6,89.2L52.4,86.2L53.2,83.3 M58.9,16.0L61.9,16.0L64.9,15.6L67.7,14.7L70.5,13.6L73.4,13.0L76.3,12.1L79.3,12.3L82.0,11.0L85.0,10.9 M6.4,34.7L8.7,36.6L10.7,38.9L12.5,41.3L13.1,44.2L14.7,46.7L15.4,49.6 M20.0,84.2L19.0,87.0L17.9,89.8L17.8,92.8L18.1,95.8L19.1,98.6 M36.3,41.6L37.1,38.7L38.0,35.9L38.9,33.0L39.3,30.0L40.3,27.2L42.3,25.0L44.2,22.7L45.8,20.1L48.3,18.5L51.1,17.3 M12.0,-0.7L14.9,-0.1L17.9,0.3L20.9,0.2L23.6,1.5L25.7,3.6L27.6,6.0L30.1,7.5L33.1,8.0 M60.5,74.6L59.0,71.9L57.5,69.3L55.3,67.3L52.8,65.6L50.6,63.6L49.0,61.1L47.7,58.4L47.9,55.4L47.8,52.4L48.9,49.6L50.9,47.3 M80.9,-0.4L83.2,1.6L85.9,3.0L88.6,4.3L91.1,5.9L93.5,7.8L94.9,10.4L97.0,12.6L99.5,14.3L102.0,15.9L104.8,17.0 M39.8,25.0L37.0,24.1L34.6,22.2L32.9,19.8L32.3,16.8L32.6,13.9L32.6,10.9L31.3,8.1 M90.1,79.0L87.3,80.0L84.5,81.2L82.6,83.5L81.6,86.3L82.0,89.3L81.5,92.2L80.2,95.0L78.6,97.5L76.9,100.0L76.4,102.9L75.4,105.7 M17.2,102.1L17.0,99.1L18.1,96.3L19.6,93.7L21.1,91.1L21.9,88.2L22.0,85.2L22.4,82.3L22.4,79.3L21.8,76.3 M14.4,45.4L16.7,43.5L18.8,41.4L19.7,38.5L21.4,36.1L22.5,33.3L24.7,31.2 M66.1,99.1L68.5,97.2L71.0,95.5L72.9,93.2L75.0,91.1L77.8,90.1L80.7,89.4L83.7,89.2L86.7,88.5L89.7,88.4L92.6,88.9 M103.6,0.9L101.2,-0.7L98.3,-1.7L95.8,-3.3L94.3,-5.9L94.1,-8.9L94.1,-11.9L94.0,-14.9 M90.3,21.9L92.4,19.8L95.3,19.0L97.8,17.3L100.7,16.5L103.7,16.6L106.3,18.1L108.2,20.5L110.8,22.0L113.7,22.3L116.7,22.7 M33.8,22.9L36.6,21.8L39.1,20.2L41.1,17.9L41.7,15.0L42.6,12.1L44.7,10.0L46.8,7.8L47.6,4.9 M32.0,3.4L31.0,6.2L31.2,9.2L31.5,12.2L30.8,15.1L30.7,18.1L29.3,20.8L27.4,23.1L25.5,25.4L24.4,28.2L23.9,31.2L24.4,34.1" fill="none" stroke="#ffffff" stroke-width="8" stroke-linecap="round" filter="url(#b25)"/><path d="M34,12 C40,15 43,22 43,35 C43,50 42,62 41,78 C41,85 40,92 38,100 M0,60 C10,56 22,58 30,55 C35,53 38,54 42,56 M77,8 C77,20 76,30 74,40 C70,50 66,56 65,63 C64,72 63,80 62,88  M18.3,91.9L16.4,90.8L14.4,90.0L12.2,90.1L10.1,89.4L7.9,89.6L5.9,88.8L3.8,88.1L1.8,87.2L-0.3,86.7 M28.1,71.4L30.3,71.2L32.4,71.7L34.6,71.5L36.5,72.5L37.9,74.3L38.6,76.4L38.6,78.6L38.4,80.7L37.6,82.8L37.8,85.0L38.1,87.2L37.5,89.3L37.7,91.5L36.8,93.5L35.1,94.9L33.6,96.5L32.3,98.3L31.1,100.1 M47.5,13.9L46.7,16.0L45.4,17.7L43.4,18.5L41.3,19.2L39.2,20.0L37.1,20.7L34.9,20.7L32.9,21.4 M9.2,78.0L7.1,77.2L4.9,76.8L3.3,75.4L1.4,74.3L-0.4,73.0L-2.4,72.1L-4.6,72.2L-6.4,73.5L-8.6,73.9L-10.8,73.7 M47.3,98.3L47.5,96.1L47.4,93.9L48.6,92.0L50.6,91.1L52.6,90.3L54.8,90.6L57.0,90.8L59.2,90.7L61.3,89.9L63.5,90.1L65.6,89.5L67.1,87.9L69.0,86.9L71.2,86.6L73.4,86.3L75.5,86.8L77.6,86.2L79.5,85.0 M45.5,39.6L46.9,41.2L47.3,43.4L46.5,45.4L45.2,47.2L43.9,49.0L43.2,51.0L41.4,52.4L39.7,53.7 M98.1,32.5L97.9,34.7L96.7,36.5L95.3,38.2L94.0,40.0L92.6,41.7L90.6,42.7L88.9,44.0L87.1,45.4L85.8,47.1L83.9,48.3L83.1,50.3L81.8,52.1L79.8,53.0L78.5,54.8L77.1,56.5L75.4,57.9L73.3,58.5 M30.2,36.6L28.0,36.9L26.2,38.0L25.0,39.9L24.9,42.1L26.0,44.0L27.2,45.8L29.1,47.0L30.3,48.9L31.1,50.9L32.7,52.4L34.3,53.9L36.1,55.1L38.0,56.3L40.1,56.8L42.3,56.4L44.2,55.3L45.9,53.8L47.9,52.9L49.9,52.1 M-3.0,62.8L-1.0,61.9L0.1,60.0L1.2,58.0L1.1,55.8L1.7,53.7L1.5,51.5L1.8,49.3L1.5,47.2L1.7,45.0L1.4,42.8L-0.0,41.1L-1.6,39.6L-3.5,38.5L-4.7,36.6L-6.3,35.1L-7.9,33.6L-9.4,32.0 M16.5,33.8L15.1,32.0L14.9,29.8L14.2,27.7L14.1,25.6L14.0,23.4L14.0,21.2L12.9,19.2L12.7,17.0L13.6,15.1L14.2,12.9L14.4,10.8L15.7,9.0L16.1,6.8L15.4,4.8 M-2.4,28.7L-2.0,26.5L-2.8,24.5L-3.2,22.3L-3.8,20.2L-4.3,18.0L-5.1,16.0L-6.1,14.1L-7.7,12.6L-9.9,12.1L-12.1,11.8L-14.2,12.2L-16.4,12.1L-18.4,11.1 M98.0,58.2L98.3,60.4L98.1,62.6L96.9,64.4L96.6,66.6L96.4,68.8L96.2,71.0L95.5,73.0L93.9,74.6L91.9,75.5L89.8,76.1L87.6,76.0L85.4,75.4 M101.0,8.6L101.1,6.4L101.0,4.2L101.2,2.0L102.2,0.0L104.1,-1.1L106.2,-1.0L108.1,-2.2L109.7,-3.7L110.9,-5.6L111.8,-7.5 M63.9,24.0L65.1,25.8L65.6,28.0L66.2,30.1L67.8,31.7L68.2,33.8L68.2,36.0L68.9,38.1L70.0,40.0L70.7,42.1L71.0,44.3L71.9,46.3 M81.3,55.8L82.2,57.8L82.6,60.0L83.7,61.9L84.6,63.9L85.9,65.6L87.6,67.1L88.2,69.2L88.9,71.3L89.8,73.3L90.4,75.4L91.5,77.3L93.3,78.6L95.2,79.7L97.4,80.2L99.5,79.9L101.6,80.8L103.7,80.5 M13.5,12.8L12.9,10.7L11.3,9.2L9.8,7.6L8.8,5.6L7.3,4.0L5.1,3.6L3.0,3.0L0.9,3.5 M24.3,22.2L25.3,20.2L26.9,18.7L28.9,17.9L31.0,17.2L32.4,15.5L33.1,13.4L33.6,11.3L34.2,9.2L34.1,7.0L34.7,4.9L36.2,3.2L38.2,2.5 M79.9,-3.7L78.7,-5.5L78.1,-7.6L78.2,-9.8L77.4,-11.9L75.7,-13.3L74.7,-15.3L73.9,-17.3L73.4,-19.5L72.9,-21.6 M99.7,20.1L99.9,22.3L99.9,24.5L98.8,26.4L98.8,28.6L100.0,30.5L101.0,32.4L101.7,34.5L103.1,36.2L104.9,37.5L107.1,37.7L109.0,36.7L111.0,35.7 M97.1,97.8L97.2,100.0L97.3,102.2L97.5,104.3L97.3,106.5L96.5,108.6L95.6,110.6L95.8,112.8L95.2,114.9L95.3,117.1 M40.1,74.3L37.9,74.7L35.7,74.6L33.5,74.5L31.5,75.2L29.3,75.1L27.3,74.1L26.0,72.4L25.0,70.4L23.5,68.8L22.6,66.8L22.7,64.6L22.9,62.4L24.1,60.6L26.1,59.6L28.0,58.5 M81.1,102.9L81.4,100.7L81.9,98.5L82.7,96.5L84.0,94.8L85.7,93.3L86.6,91.3L88.4,90.0L90.2,88.8 M36.6,-0.3L38.7,0.4L40.5,1.7L41.6,3.6L43.0,5.3L45.0,6.2L47.1,6.8L49.3,6.6L51.5,6.5L53.6,7.2L55.8,7.5L57.9,6.9L59.3,5.3L60.6,3.5L62.1,1.8 M39.8,62.0L39.2,64.1L38.5,66.2L37.0,67.8L35.5,69.3L34.7,71.4L34.7,73.6L34.8,75.8L34.6,78.0L33.7,80.0 M33.8,61.7L34.1,63.9L34.4,66.1L35.3,68.1L36.1,70.1L37.0,72.1L38.9,73.4L40.1,75.2L41.1,77.1L41.4,79.3L41.1,81.5L40.2,83.5L38.3,84.6L36.6,86.0 M69.3,32.1L68.4,30.1L68.7,27.9L68.2,25.8L67.1,23.9L66.5,21.7L66.8,19.6L67.0,17.4L66.0,15.4L64.8,13.6L64.4,11.4L63.9,9.2L63.4,7.1L62.6,5.1L62.1,2.9" fill="none" stroke="#a6a6a6" stroke-width="6" stroke-linecap="round" filter="url(#b1)" transform="translate(1.5,1.8)"/><path d="M34,12 C40,15 43,22 43,35 C43,50 42,62 41,78 C41,85 40,92 38,100 M0,60 C10,56 22,58 30,55 C35,53 38,54 42,56 M77,8 C77,20 76,30 74,40 C70,50 66,56 65,63 C64,72 63,80 62,88 " fill="none" stroke="#4a4a4a" stroke-width="1.8" stroke-linecap="round" stroke-linejoin="round" filter="url(#b03)"/><path d="M18.3,91.9L16.4,90.8L14.4,90.0L12.2,90.1L10.1,89.4L7.9,89.6L5.9,88.8L3.8,88.1L1.8,87.2L-0.3,86.7 M28.1,71.4L30.3,71.2L32.4,71.7L34.6,71.5L36.5,72.5L37.9,74.3L38.6,76.4L38.6,78.6L38.4,80.7L37.6,82.8L37.8,85.0L38.1,87.2L37.5,89.3L37.7,91.5L36.8,93.5L35.1,94.9L33.6,96.5L32.3,98.3L31.1,100.1 M47.5,13.9L46.7,16.0L45.4,17.7L43.4,18.5L41.3,19.2L39.2,20.0L37.1,20.7L34.9,20.7L32.9,21.4 M9.2,78.0L7.1,77.2L4.9,76.8L3.3,75.4L1.4,74.3L-0.4,73.0L-2.4,72.1L-4.6,72.2L-6.4,73.5L-8.6,73.9L-10.8,73.7 M47.3,98.3L47.5,96.1L47.4,93.9L48.6,92.0L50.6,91.1L52.6,90.3L54.8,90.6L57.0,90.8L59.2,90.7L61.3,89.9L63.5,90.1L65.6,89.5L67.1,87.9L69.0,86.9L71.2,86.6L73.4,86.3L75.5,86.8L77.6,86.2L79.5,85.0 M45.5,39.6L46.9,41.2L47.3,43.4L46.5,45.4L45.2,47.2L43.9,49.0L43.2,51.0L41.4,52.4L39.7,53.7 M98.1,32.5L97.9,34.7L96.7,36.5L95.3,38.2L94.0,40.0L92.6,41.7L90.6,42.7L88.9,44.0L87.1,45.4L85.8,47.1L83.9,48.3L83.1,50.3L81.8,52.1L79.8,53.0L78.5,54.8L77.1,56.5L75.4,57.9L73.3,58.5 M30.2,36.6L28.0,36.9L26.2,38.0L25.0,39.9L24.9,42.1L26.0,44.0L27.2,45.8L29.1,47.0L30.3,48.9L31.1,50.9L32.7,52.4L34.3,53.9L36.1,55.1L38.0,56.3L40.1,56.8L42.3,56.4L44.2,55.3L45.9,53.8L47.9,52.9L49.9,52.1 M-3.0,62.8L-1.0,61.9L0.1,60.0L1.2,58.0L1.1,55.8L1.7,53.7L1.5,51.5L1.8,49.3L1.5,47.2L1.7,45.0L1.4,42.8L-0.0,41.1L-1.6,39.6L-3.5,38.5L-4.7,36.6L-6.3,35.1L-7.9,33.6L-9.4,32.0 M16.5,33.8L15.1,32.0L14.9,29.8L14.2,27.7L14.1,25.6L14.0,23.4L14.0,21.2L12.9,19.2L12.7,17.0L13.6,15.1L14.2,12.9L14.4,10.8L15.7,9.0L16.1,6.8L15.4,4.8 M-2.4,28.7L-2.0,26.5L-2.8,24.5L-3.2,22.3L-3.8,20.2L-4.3,18.0L-5.1,16.0L-6.1,14.1L-7.7,12.6L-9.9,12.1L-12.1,11.8L-14.2,12.2L-16.4,12.1L-18.4,11.1 M98.0,58.2L98.3,60.4L98.1,62.6L96.9,64.4L96.6,66.6L96.4,68.8L96.2,71.0L95.5,73.0L93.9,74.6L91.9,75.5L89.8,76.1L87.6,76.0L85.4,75.4 M101.0,8.6L101.1,6.4L101.0,4.2L101.2,2.0L102.2,0.0L104.1,-1.1L106.2,-1.0L108.1,-2.2L109.7,-3.7L110.9,-5.6L111.8,-7.5 M63.9,24.0L65.1,25.8L65.6,28.0L66.2,30.1L67.8,31.7L68.2,33.8L68.2,36.0L68.9,38.1L70.0,40.0L70.7,42.1L71.0,44.3L71.9,46.3 M81.3,55.8L82.2,57.8L82.6,60.0L83.7,61.9L84.6,63.9L85.9,65.6L87.6,67.1L88.2,69.2L88.9,71.3L89.8,73.3L90.4,75.4L91.5,77.3L93.3,78.6L95.2,79.7L97.4,80.2L99.5,79.9L101.6,80.8L103.7,80.5 M13.5,12.8L12.9,10.7L11.3,9.2L9.8,7.6L8.8,5.6L7.3,4.0L5.1,3.6L3.0,3.0L0.9,3.5 M24.3,22.2L25.3,20.2L26.9,18.7L28.9,17.9L31.0,17.2L32.4,15.5L33.1,13.4L33.6,11.3L34.2,9.2L34.1,7.0L34.7,4.9L36.2,3.2L38.2,2.5 M79.9,-3.7L78.7,-5.5L78.1,-7.6L78.2,-9.8L77.4,-11.9L75.7,-13.3L74.7,-15.3L73.9,-17.3L73.4,-19.5L72.9,-21.6 M99.7,20.1L99.9,22.3L99.9,24.5L98.8,26.4L98.8,28.6L100.0,30.5L101.0,32.4L101.7,34.5L103.1,36.2L104.9,37.5L107.1,37.7L109.0,36.7L111.0,35.7 M97.1,97.8L97.2,100.0L97.3,102.2L97.5,104.3L97.3,106.5L96.5,108.6L95.6,110.6L95.8,112.8L95.2,114.9L95.3,117.1 M40.1,74.3L37.9,74.7L35.7,74.6L33.5,74.5L31.5,75.2L29.3,75.1L27.3,74.1L26.0,72.4L25.0,70.4L23.5,68.8L22.6,66.8L22.7,64.6L22.9,62.4L24.1,60.6L26.1,59.6L28.0,58.5 M81.1,102.9L81.4,100.7L81.9,98.5L82.7,96.5L84.0,94.8L85.7,93.3L86.6,91.3L88.4,90.0L90.2,88.8 M36.6,-0.3L38.7,0.4L40.5,1.7L41.6,3.6L43.0,5.3L45.0,6.2L47.1,6.8L49.3,6.6L51.5,6.5L53.6,7.2L55.8,7.5L57.9,6.9L59.3,5.3L60.6,3.5L62.1,1.8 M39.8,62.0L39.2,64.1L38.5,66.2L37.0,67.8L35.5,69.3L34.7,71.4L34.7,73.6L34.8,75.8L34.6,78.0L33.7,80.0 M33.8,61.7L34.1,63.9L34.4,66.1L35.3,68.1L36.1,70.1L37.0,72.1L38.9,73.4L40.1,75.2L41.1,77.1L41.4,79.3L41.1,81.5L40.2,83.5L38.3,84.6L36.6,86.0 M69.3,32.1L68.4,30.1L68.7,27.9L68.2,25.8L67.1,23.9L66.5,21.7L66.8,19.6L67.0,17.4L66.0,15.4L64.8,13.6L64.4,11.4L63.9,9.2L63.4,7.1L62.6,5.1L62.1,2.9" fill="none" stroke="#555" stroke-width="1.4" stroke-linecap="round" stroke-linejoin="round" filter="url(#b03)"/></g></g></defs>
<rect width="685" height="337" fill="#fff"/>
<line x1="43.5" y1="109.5" x2="659.5" y2="109.5" stroke="#d9d9d9" stroke-width="1"/><line x1="43.5" y1="217.0" x2="659.5" y2="217.0" stroke="#d9d9d9" stroke-width="1"/><line x1="43.5" y1="324.5" x2="659.5" y2="324.5" stroke="#d9d9d9" stroke-width="1"/>
<g transform="translate(31.7,0.0) scale(0.4860,0.4380)"><use href="#cortex"/></g><circle cx="54.7" cy="19.3" r="1.1" fill="#d02020"/><ellipse cx="44.3" cy="18.8" rx="0.9" ry="0.7" fill="#2a2a74"/><ellipse cx="64.7" cy="19.9" rx="0.9" ry="0.7" fill="#2a2a74"/><ellipse cx="47.3" cy="40.7" rx="0.9" ry="0.7" fill="#2a2a74"/><ellipse cx="66.7" cy="40.3" rx="0.9" ry="0.7" fill="#2a2a74"/><g transform="translate(113.6,14.1) scale(0.5200,0.4780)"><use href="#cortex"/></g><circle cx="137.7" cy="36.3" r="1.2" fill="#d02020"/><ellipse cx="127.1" cy="34.7" rx="0.9" ry="0.7" fill="#2a2a74"/><ellipse cx="149.0" cy="35.8" rx="0.9" ry="0.7" fill="#2a2a74"/><ellipse cx="130.2" cy="58.6" rx="0.9" ry="0.7" fill="#2a2a74"/><ellipse cx="151.0" cy="58.1" rx="0.9" ry="0.7" fill="#2a2a74"/><g transform="translate(212.0,88.9) scale(0.5100,0.4520)"><use href="#cortex"/></g><circle cx="234.5" cy="108.5" r="1.2" fill="#d02020"/><ellipse cx="225.3" cy="108.3" rx="0.9" ry="0.7" fill="#2a2a74"/><ellipse cx="246.7" cy="109.5" rx="0.9" ry="0.7" fill="#2a2a74"/><ellipse cx="228.3" cy="130.9" rx="0.9" ry="0.7" fill="#2a2a74"/><ellipse cx="248.7" cy="130.5" rx="0.9" ry="0.7" fill="#2a2a74"/><g transform="translate(345.0,92.0) scale(0.4640,0.4230)"><use href="#cortex"/></g><clipPath id="c1"><path d="M357.90,111.10 C357.85,110.92 359.25,109.69 359.50,109.50 C359.75,109.31 361.80,108.19 362.00,107.90 C362.20,107.61 362.67,104.65 362.80,104.60 C362.93,104.55 363.96,107.15 364.10,107.10 C364.24,107.05 365.06,103.85 365.20,103.80 C365.34,103.75 366.25,106.17 366.40,106.20 C366.55,106.23 367.57,104.25 367.70,104.30 C367.83,104.35 368.36,106.88 368.50,107.10 C368.64,107.32 369.81,107.80 370.10,107.90 C370.39,108.00 373.00,108.51 373.40,108.70 C373.80,108.89 376.70,110.87 376.70,111.10 C376.70,111.33 373.80,112.35 373.40,112.50 C373.00,112.65 370.44,113.44 370.10,113.60 C369.76,113.76 367.99,115.15 367.70,115.20 C367.41,115.25 365.49,114.50 365.20,114.40 C364.91,114.30 363.09,113.71 362.80,113.60 C362.51,113.49 360.59,112.65 360.30,112.50 C360.01,112.35 357.95,111.28 357.90,111.10Z"/></clipPath><path d="M357.90,111.10 C357.85,110.92 359.25,109.69 359.50,109.50 C359.75,109.31 361.80,108.19 362.00,107.90 C362.20,107.61 362.67,104.65 362.80,104.60 C362.93,104.55 363.96,107.15 364.10,107.10 C364.24,107.05 365.06,103.85 365.20,103.80 C365.34,103.75 366.25,106.17 366.40,106.20 C366.55,106.23 367.57,104.25 367.70,104.30 C367.83,104.35 368.36,106.88 368.50,107.10 C368.64,107.32 369.81,107.80 370.10,107.90 C370.39,108.00 373.00,108.51 373.40,108.70 C373.80,108.89 376.70,110.87 376.70,111.10 C376.70,111.33 373.80,112.35 373.40,112.50 C373.00,112.65 370.44,113.44 370.10,113.60 C369.76,113.76 367.99,115.15 367.70,115.20 C367.41,115.25 365.49,114.50 365.20,114.40 C364.91,114.30 363.09,113.71 362.80,113.60 C362.51,113.49 360.59,112.65 360.30,112.50 C360.01,112.35 357.95,111.28 357.90,111.10Z" fill="#d82424"/><g clip-path="url(#c1)"><g transform="translate(357.0,103.0)"><path d="M18.2,17.1L18.9,16.0L19.9,15.4L20.8,14.7L22.0,14.6L23.2,14.5 M3.9,17.9L4.9,17.3L6.1,16.9L6.8,15.9L8.0,15.8L9.1,15.7 M12.6,11.1L11.5,10.8L10.4,11.2L9.2,10.9 M-1.7,5.6L-1.7,6.8L-2.3,7.9L-3.1,8.7L-4.3,8.7 M7.7,12.7L8.9,12.9L10.0,13.3L11.2,13.7L11.9,14.7L11.8,15.9 M3.6,-0.3L4.6,-1.0L5.7,-1.4L6.8,-1.8 M-1.7,13.0L-1.7,14.2L-1.1,15.2L-1.5,16.3L-0.9,17.4L-0.3,18.5 M10.6,16.2L11.6,16.9L12.8,17.1L14.0,17.3L15.1,16.8 M-1.3,15.5L-1.2,14.3L-0.2,13.6 M20.9,3.3L20.5,2.2L20.1,1.1L20.6,-0.0L20.7,-1.2L21.3,-2.3 M15.3,-0.8L14.2,-1.2L13.0,-1.2 M-0.8,4.7L0.1,3.9L0.8,2.9L1.1,1.8 M-1.6,-1.1L-2.3,-2.1L-2.4,-3.3L-3.0,-4.4L-3.3,-5.6 M12.6,1.0L13.3,-0.0L13.0,-1.2L13.3,-2.4 M1.5,0.6L0.8,1.6L1.2,2.8L0.5,3.8L0.8,5.0L1.1,6.1 M18.9,12.6L20.0,13.2L20.7,14.2L20.6,15.3L20.3,16.5L21.0,17.5 M19.5,-2.1L18.6,-2.9L17.8,-3.8L17.3,-4.9L17.7,-6.0L18.3,-7.1 M6.8,3.8L7.3,4.9L7.5,6.1L8.4,6.9L9.2,7.8L10.2,8.5 M9.3,13.3L9.1,12.2L9.9,11.2L9.9,10.0L9.9,8.8 M23.2,13.0L22.6,12.0L22.9,10.8L23.8,10.0L24.5,9.0 M11.7,4.6L10.9,5.5L9.7,5.5 M13.4,17.1L14.4,17.8L14.9,18.9L16.0,19.4 M14.5,8.4L13.6,9.1L12.4,9.3 M5.5,14.0L4.4,14.2L3.6,15.1L3.4,16.3L3.3,17.5L2.6,18.5 M17.1,8.1L16.3,7.2L15.1,7.1L14.0,7.0L12.8,7.0 M7.1,5.1L7.7,6.1L8.9,6.4 M2.4,11.1L1.2,11.5L0.1,11.9L-0.5,12.9 M10.8,8.2L9.8,7.5L9.0,6.6L7.8,6.6L6.6,6.8L5.4,7.0 M21.6,-1.8L21.5,-3.0L22.0,-4.1L22.0,-5.3L22.3,-6.5L22.6,-7.6 M3.3,5.3L3.4,6.5L4.0,7.6L4.1,8.8L3.6,9.8L2.8,10.8 M18.6,0.7L17.9,1.6L17.8,2.8L18.7,3.7L19.7,4.2L20.0,5.4 M21.8,17.7L22.8,17.2L24.0,17.0L24.9,16.2L25.7,15.3L26.4,14.3 M7.0,-2.4L6.3,-3.4L5.3,-4.0" fill="none" stroke="#6e0606" stroke-width="1.0" stroke-linecap="round" filter="url(#b03)"/><path d="M-0.8,-3.3L-1.8,-2.6L-2.3,-1.5 M4.2,3.4L3.0,3.3L2.0,3.9 M6.0,1.5L4.8,1.1L4.0,0.2 M10.5,-1.2L9.3,-0.9L8.2,-0.7L7.3,0.1L6.1,0.5 M1.6,12.4L0.8,13.3L-0.3,13.6 M-0.4,15.6L-0.7,16.7L-1.5,17.7L-1.6,18.9 M23.9,9.9L24.5,8.8L25.4,8.1 M8.0,9.4L6.8,9.6L5.6,9.8 M16.9,15.8L16.9,14.6L16.9,13.4 M23.0,14.4L22.1,15.1L21.0,15.6 M16.7,7.5L16.8,6.3L16.9,5.1L16.1,4.2 M18.7,1.3L19.4,0.3L19.6,-0.9L20.0,-2.0L20.4,-3.1 M3.2,16.1L2.3,15.3L2.4,14.1 M0.5,1.9L1.4,2.7L2.0,3.8L3.0,4.4 M21.3,-2.8L20.4,-2.0L19.3,-1.6L18.1,-1.8L16.9,-2.0 M22.9,2.9L21.7,3.0L20.6,3.5L19.9,4.5L19.9,5.7" fill="none" stroke="#f07a7a" stroke-width="0.7" stroke-linecap="round" filter="url(#b03)"/></g></g><ellipse cx="357.1" cy="110.2" rx="0.9" ry="0.7" fill="#2a2a74"/><ellipse cx="376.6" cy="111.2" rx="0.9" ry="0.7" fill="#2a2a74"/><ellipse cx="359.8" cy="131.3" rx="0.9" ry="0.7" fill="#2a2a74"/><ellipse cx="378.4" cy="130.9" rx="0.9" ry="0.7" fill="#2a2a74"/><g transform="translate(411.7,148.5) scale(0.4820,0.4240)"><use href="#cortex"/></g><clipPath id="c2"><path d="M420.50,168.30 C420.45,168.10 422.33,167.24 422.60,166.90 C422.87,166.56 423.63,164.49 423.90,164.10 C424.17,163.71 425.66,162.24 426.00,162.00 C426.34,161.76 427.76,161.21 428.10,161.10 C428.44,160.99 429.92,160.47 430.20,160.60 C430.48,160.73 431.38,162.70 431.60,162.70 C431.82,162.70 432.66,160.73 433.00,160.60 C433.34,160.47 435.41,161.02 435.80,161.10 C436.19,161.18 437.56,161.42 437.90,161.60 C438.24,161.78 439.66,163.09 440.00,163.40 C440.34,163.71 441.71,165.22 442.10,165.50 C442.49,165.78 444.51,166.68 444.90,166.90 C445.29,167.12 447.06,168.13 447.00,168.30 C446.94,168.47 444.65,168.86 444.20,169.00 C443.75,169.14 441.90,169.78 441.40,170.00 C440.90,170.22 438.46,171.60 437.90,171.80 C437.34,172.00 434.85,172.39 434.40,172.50 C433.95,172.61 432.69,173.26 432.30,173.20 C431.91,173.14 429.95,172.02 429.50,171.80 C429.05,171.58 427.20,170.59 426.70,170.40 C426.20,170.21 423.70,169.57 423.20,169.40 C422.70,169.23 420.55,168.50 420.50,168.30Z"/></clipPath><path d="M420.50,168.30 C420.45,168.10 422.33,167.24 422.60,166.90 C422.87,166.56 423.63,164.49 423.90,164.10 C424.17,163.71 425.66,162.24 426.00,162.00 C426.34,161.76 427.76,161.21 428.10,161.10 C428.44,160.99 429.92,160.47 430.20,160.60 C430.48,160.73 431.38,162.70 431.60,162.70 C431.82,162.70 432.66,160.73 433.00,160.60 C433.34,160.47 435.41,161.02 435.80,161.10 C436.19,161.18 437.56,161.42 437.90,161.60 C438.24,161.78 439.66,163.09 440.00,163.40 C440.34,163.71 441.71,165.22 442.10,165.50 C442.49,165.78 444.51,166.68 444.90,166.90 C445.29,167.12 447.06,168.13 447.00,168.30 C446.94,168.47 444.65,168.86 444.20,169.00 C443.75,169.14 441.90,169.78 441.40,170.00 C440.90,170.22 438.46,171.60 437.90,171.80 C437.34,172.00 434.85,172.39 434.40,172.50 C433.95,172.61 432.69,173.26 432.30,173.20 C431.91,173.14 429.95,172.02 429.50,171.80 C429.05,171.58 427.20,170.59 426.70,170.40 C426.20,170.21 423.70,169.57 423.20,169.40 C422.70,169.23 420.55,168.50 420.50,168.30Z" fill="#d82424"/><g clip-path="url(#c2)"><g transform="translate(420.0,159.0)"><path d="M8.8,15.9L9.2,14.8L10.0,13.9L10.9,13.1 M16.2,6.1L15.3,5.3L14.8,4.3L14.9,3.1L14.1,2.1 M14.0,15.4L15.1,16.0L16.3,15.8L17.4,16.2L18.6,15.9 M17.4,18.2L17.3,19.4L18.0,20.4L17.8,21.6L17.5,22.8 M14.8,-0.9L15.9,-0.6L17.1,-0.9L18.3,-0.9 M26.4,0.8L25.3,0.4L24.1,0.2 M-3.5,18.6L-2.4,19.2L-1.8,20.2L-0.7,20.4L0.5,20.2L1.4,21.0 M20.1,10.5L20.3,11.7L21.0,12.6 M21.9,16.1L21.7,17.3L20.8,18.0 M27.4,5.6L26.4,4.9L25.3,4.5L24.1,4.3L22.9,4.5L22.3,5.5 M29.8,1.8L29.0,2.7L28.0,3.3L26.8,3.4L25.7,3.9L24.7,4.7 M1.6,3.7L0.6,2.9L-0.1,2.0 M1.8,18.9L2.3,20.0L3.0,21.0 M24.0,0.1L24.6,-1.0L25.8,-1.4L26.7,-2.1 M11.0,4.5L11.5,5.5L12.5,6.2 M29.6,11.9L30.5,12.8L31.7,12.8L32.6,12.1 M5.7,10.7L5.3,9.5L4.5,8.7L3.6,7.9L2.4,8.0 M9.4,12.4L9.4,13.6L9.6,14.8L9.0,15.7L7.9,16.3L7.3,17.3 M12.2,3.7L11.3,4.5L10.6,5.5L10.5,6.6L9.6,7.5 M25.3,7.4L24.1,7.4L23.1,6.8L22.8,5.6L23.5,4.6 M18.1,-2.2L18.5,-1.1L19.6,-0.5L20.6,0.1 M10.4,-0.1L11.5,0.4L12.6,0.7L13.5,1.6L14.4,2.4L15.6,2.4 M29.2,0.1L28.2,-0.6L27.2,-1.2L26.7,-2.3L27.2,-3.4L28.2,-3.9 M0.6,-3.1L1.4,-3.9L2.3,-4.7L2.9,-5.8L2.6,-6.9 M26.3,11.3L25.4,12.0L25.0,13.2L24.9,14.4L24.4,15.5 M2.6,5.7L3.6,5.1L4.0,3.9L3.8,2.8 M20.1,0.8L21.1,0.0L22.2,-0.4L23.0,-1.3 M4.2,17.8L4.2,16.6L3.5,15.6L2.6,14.8L1.7,14.0 M6.7,6.0L7.7,6.6L8.9,6.8L10.1,6.6L11.3,6.8 M29.4,18.8L29.0,17.6L28.3,16.7L27.6,15.7L27.8,14.5L28.4,13.5 M-0.9,0.9L-1.7,1.9L-2.0,3.0L-2.0,4.2L-2.2,5.4 M-2.5,-1.1L-3.7,-1.1L-4.7,-0.4L-5.9,-0.1 M16.9,12.2L18.1,12.2L19.2,12.7L20.4,13.0 M12.0,6.0L12.8,6.9L13.1,8.1L14.0,8.9 M6.2,5.1L5.1,5.7L3.9,5.6L3.0,6.4L2.2,7.3L1.0,7.5 M26.7,18.0L27.4,19.0L27.7,20.2 M5.0,-0.0L4.3,1.0L3.2,1.4L2.1,1.9L1.8,3.1L2.1,4.3 M2.6,12.9L1.5,13.4L0.5,14.0L-0.5,14.6L-1.7,14.2 M-2.7,6.7L-3.7,7.5L-3.8,8.7L-3.3,9.7L-2.7,10.8 M16.9,1.8L17.0,3.0L17.3,4.1L18.1,5.0L19.3,4.9 M12.7,10.8L11.6,10.3L10.4,10.3L9.2,10.6 M22.1,0.5L22.4,1.6L22.1,2.8L21.5,3.8L20.6,4.6 M22.6,8.5L22.9,7.3L23.3,6.2L23.2,5.0L22.6,3.9L21.9,3.0 M-2.1,14.0L-2.5,15.1L-3.3,16.1L-4.3,16.8L-5.1,17.6L-5.9,18.5" fill="none" stroke="#6e0606" stroke-width="1.0" stroke-linecap="round" filter="url(#b03)"/><path d="M22.9,16.7L22.5,15.5L21.6,14.7L20.7,13.9 M30.3,1.9L31.5,1.9L32.6,2.3L33.2,3.3L34.0,4.2 M7.7,-1.7L7.0,-2.7L7.3,-3.8 M9.6,11.2L10.3,10.2L10.7,9.1 M16.9,10.9L17.0,9.7L17.5,8.6L18.0,7.5L19.1,7.1 M18.3,3.1L18.8,2.0L20.0,1.5L21.0,0.9 M-2.3,7.4L-2.5,6.3L-1.8,5.3L-0.8,4.6 M16.2,14.5L16.7,13.4L16.4,12.2L16.7,11.0 M9.0,15.8L9.2,17.0L10.2,17.6L11.1,18.4L12.2,19.0 M21.6,13.1L21.3,12.0L20.2,11.4 M13.1,1.9L14.3,2.2L15.5,2.1L16.4,2.9 M6.6,13.4L5.5,13.6L4.9,14.7 M30.9,10.1L30.8,8.9L30.4,7.7 M5.1,6.2L4.8,7.4L4.3,8.5 M21.0,2.6L20.0,1.8L19.2,0.9L18.1,0.6 M23.3,0.5L24.3,1.0L25.5,1.2 M1.6,15.2L2.7,15.6L3.9,15.8L4.5,16.8 M0.8,1.1L0.4,2.2L0.2,3.4L0.7,4.5L0.2,5.6 M-3.0,8.7L-4.1,8.2L-4.9,7.3L-5.0,6.1L-4.2,5.2 M4.7,12.6L5.6,11.9L6.8,11.8 M28.0,14.3L26.8,14.4L25.9,13.7L25.4,12.6L26.0,11.5" fill="none" stroke="#f07a7a" stroke-width="0.7" stroke-linecap="round" filter="url(#b03)"/></g></g><ellipse cx="424.2" cy="166.7" rx="0.9" ry="0.7" fill="#2a2a74"/><ellipse cx="444.5" cy="167.8" rx="0.9" ry="0.7" fill="#2a2a74"/><ellipse cx="427.1" cy="187.9" rx="0.9" ry="0.7" fill="#2a2a74"/><ellipse cx="446.4" cy="187.5" rx="0.9" ry="0.7" fill="#2a2a74"/><g transform="translate(504.4,149.7) scale(0.5850,0.4530)"><use href="#cortex"/></g><clipPath id="c3"><path d="M510.20,176.40 C510.16,175.64 510.62,173.24 511.00,172.50 C511.38,171.76 512.84,170.86 513.40,170.20 C513.96,169.54 515.14,167.66 515.70,167.00 C516.26,166.34 517.44,165.11 518.10,164.70 C518.76,164.29 520.54,164.08 521.20,163.60 C521.86,163.12 523.04,161.32 523.60,160.70 C524.16,160.08 525.24,158.87 525.90,158.40 C526.56,157.93 528.34,157.05 529.10,156.80 C529.86,156.55 531.44,156.20 532.20,156.30 C532.96,156.40 534.74,157.17 535.40,157.60 C536.06,158.03 537.04,159.53 537.70,159.90 C538.36,160.27 540.14,160.32 540.90,160.70 C541.66,161.08 543.24,162.44 544.00,163.10 C544.76,163.76 546.54,165.54 547.20,166.20 C547.86,166.86 548.94,167.75 549.50,168.60 C550.06,169.45 551.71,172.27 551.90,173.30 C552.09,174.33 551.48,176.35 551.10,177.20 C550.72,178.05 549.55,179.84 548.70,180.40 C547.85,180.96 545.32,181.58 544.00,181.90 C542.68,182.22 539.21,182.91 537.70,183.10 C536.19,183.29 532.90,183.50 531.40,183.50 C529.90,183.50 526.70,183.23 525.20,183.10 C523.70,182.97 520.22,182.68 518.90,182.40 C517.58,182.12 515.11,181.23 514.20,180.80 C513.29,180.37 511.78,179.33 511.30,178.80 C510.82,178.27 510.24,177.16 510.20,176.40Z"/></clipPath><path d="M510.20,176.40 C510.16,175.64 510.62,173.24 511.00,172.50 C511.38,171.76 512.84,170.86 513.40,170.20 C513.96,169.54 515.14,167.66 515.70,167.00 C516.26,166.34 517.44,165.11 518.10,164.70 C518.76,164.29 520.54,164.08 521.20,163.60 C521.86,163.12 523.04,161.32 523.60,160.70 C524.16,160.08 525.24,158.87 525.90,158.40 C526.56,157.93 528.34,157.05 529.10,156.80 C529.86,156.55 531.44,156.20 532.20,156.30 C532.96,156.40 534.74,157.17 535.40,157.60 C536.06,158.03 537.04,159.53 537.70,159.90 C538.36,160.27 540.14,160.32 540.90,160.70 C541.66,161.08 543.24,162.44 544.00,163.10 C544.76,163.76 546.54,165.54 547.20,166.20 C547.86,166.86 548.94,167.75 549.50,168.60 C550.06,169.45 551.71,172.27 551.90,173.30 C552.09,174.33 551.48,176.35 551.10,177.20 C550.72,178.05 549.55,179.84 548.70,180.40 C547.85,180.96 545.32,181.58 544.00,181.90 C542.68,182.22 539.21,182.91 537.70,183.10 C536.19,183.29 532.90,183.50 531.40,183.50 C529.90,183.50 526.70,183.23 525.20,183.10 C523.70,182.97 520.22,182.68 518.90,182.40 C517.58,182.12 515.11,181.23 514.20,180.80 C513.29,180.37 511.78,179.33 511.30,178.80 C510.82,178.27 510.24,177.16 510.20,176.40Z" fill="#d02222"/><g clip-path="url(#c3)"><g transform="translate(509.0,155.0)"><path d="M-3.3,1.9L-3.1,0.7L-3.1,-0.5 M6.3,26.5L5.6,25.5L4.5,25.1L3.5,24.4L2.5,23.8L1.9,22.7 M9.4,20.2L8.9,21.3L8.3,22.4L7.2,22.6 M33.2,8.4L34.1,7.6L35.2,7.1L35.6,6.0L34.9,4.9 M8.6,14.1L9.4,13.3L10.5,12.8 M44.8,20.8L43.6,20.8L42.6,20.1L41.8,19.2 M44.5,17.1L43.4,17.6L43.0,18.8L43.2,19.9L43.9,20.9 M47.1,1.2L47.4,2.4L47.4,3.6 M32.4,32.1L32.7,31.0L32.7,29.8L32.4,28.6 M34.5,29.0L35.2,29.9L36.3,30.4L37.3,31.2L38.5,31.3L39.5,30.6 M20.2,29.9L20.8,30.9L22.0,31.2L23.1,30.7 M22.3,12.3L22.8,11.2L23.8,10.5 M17.5,29.2L18.7,29.0L19.9,28.6L20.9,28.1L21.4,26.9L21.2,25.8 M3.9,-1.5L4.8,-2.2L5.2,-3.4L6.1,-4.1L7.3,-4.1L8.3,-3.4 M32.9,-0.4L33.2,-1.5L33.0,-2.7 M-2.1,6.0L-2.6,4.9L-2.8,3.7 M23.5,28.1L24.6,28.5L25.5,29.2L26.6,29.8L26.7,31.0 M-0.3,-0.2L-0.5,-1.4L-1.2,-2.4 M-0.4,10.1L-0.9,9.0L-1.8,8.2L-2.2,7.1L-1.9,5.9L-2.4,4.8 M3.0,9.1L3.9,8.3L4.3,7.2 M41.4,23.2L42.6,23.0L43.7,22.5L44.4,21.5L44.5,20.3L44.8,19.2 M39.9,-0.3L41.0,0.2L41.9,1.0L43.1,1.1 M45.5,-2.8L46.6,-3.2L47.0,-4.3 M8.5,32.5L7.3,32.7L6.2,32.3L5.0,32.2 M14.5,16.0L14.5,17.2L14.6,18.4L14.1,19.5L13.6,20.6 M28.0,31.5L28.5,30.4L29.1,29.4L30.2,28.9L31.3,29.5L32.5,29.4 M38.0,15.6L39.0,16.2L39.4,17.3L39.1,18.4L39.3,19.6L38.7,20.7 M44.2,19.3L45.2,20.0L45.2,21.2L44.5,22.1L43.3,22.2L42.1,21.7 M4.7,20.3L3.8,21.0L2.6,21.0L1.6,20.2L0.8,19.4L-0.4,19.1 M-2.7,18.1L-1.8,17.3L-1.1,16.3L-0.5,15.3L-0.8,14.1 M23.2,6.0L23.9,5.0L23.6,3.8L24.0,2.7L24.2,1.5L24.7,0.4 M25.6,2.6L24.4,2.5L23.5,3.3 M43.7,16.2L43.0,17.1L42.9,18.3L43.5,19.4L43.7,20.5 M21.7,10.9L21.2,9.8L21.6,8.7L22.4,7.7L23.4,7.1L24.6,7.2 M47.4,33.5L48.5,32.9L48.9,31.8 M10.6,24.9L10.0,23.9L8.8,23.5L7.7,24.0L6.5,23.9 M23.0,19.5L22.5,18.4L21.5,17.7L21.1,16.6 M0.7,15.7L1.7,16.2L2.5,17.2L3.7,17.2 M17.9,13.1L18.4,14.1L18.7,15.3 M31.4,9.8L30.2,10.1L29.1,10.5L28.7,11.6 M18.5,7.2L19.4,8.1L19.6,9.2L20.3,10.3L21.4,10.5 M20.5,23.5L20.6,22.3L20.4,21.1L21.2,20.2L22.1,19.4L22.6,18.3 M24.9,24.5L23.9,25.2L23.2,26.2L22.6,27.2L23.0,28.4 M-0.6,28.7L0.6,28.6L1.8,28.5L2.8,28.0L4.0,27.8L5.2,28.0 M20.5,30.5L19.8,29.5L20.2,28.4L21.1,27.6 M12.1,29.0L11.1,29.6L10.6,30.7L11.0,31.8L12.1,32.4 M33.3,20.1L34.2,19.2L35.1,18.5L35.2,17.3L35.4,16.1 M40.4,8.1L40.6,9.2L41.3,10.2L41.4,11.4L41.8,12.5L41.4,13.6 M25.9,2.0L27.1,2.1L27.9,1.2L28.7,0.3L29.3,-0.7 M4.1,24.0L4.7,25.1L4.2,26.2L3.7,27.3L3.2,28.4 M27.2,17.4L27.8,16.4L27.6,15.2L27.0,14.2L25.8,13.8 M13.9,23.5L12.8,24.0L11.7,23.4L10.6,22.9L9.9,22.0L9.5,20.8 M22.0,31.0L22.9,31.9L22.9,33.1L23.7,33.9 M47.3,13.5L48.1,14.4L48.9,15.3L49.9,16.0L51.1,16.2 M9.4,27.2L9.2,26.0L9.2,24.8 M27.8,-2.9L27.2,-1.9L27.3,-0.7L26.4,0.2 M29.9,13.0L31.0,13.4L32.1,13.8L33.3,13.5L34.5,13.7 M36.8,0.0L36.6,1.2L35.8,2.0L35.6,3.2 M7.0,7.3L6.7,6.1L6.5,4.9L6.4,3.7 M16.5,32.7L16.3,31.5L15.6,30.6L15.7,29.4L16.1,28.2L15.7,27.1 M24.5,10.0L24.3,8.9L23.5,7.9L22.4,7.6L21.4,8.3 M47.2,23.0L46.1,22.5L45.0,22.1L44.0,21.4 M0.1,11.3L-0.9,12.1L-1.9,12.7L-3.1,12.9L-4.2,12.5 M18.6,-3.4L19.7,-3.9L20.3,-4.9L20.1,-6.1 M4.7,14.8L4.8,16.0L4.3,17.1L4.6,18.2L5.5,19.0 M41.6,0.5L42.7,-0.2L43.6,-0.9L44.8,-1.0L45.9,-0.4L46.5,0.6 M36.7,14.0L35.9,13.0L35.1,12.2L33.9,12.3L33.0,13.0 M36.9,29.9L37.4,31.0L37.8,32.1L38.5,33.1 M5.3,10.3L6.4,9.7L7.5,9.4L8.7,9.4L9.9,9.1L11.1,9.1 M26.5,10.6L27.2,11.6L28.4,11.9L29.1,12.8L29.9,13.7 M15.0,11.1L14.1,11.9L12.9,11.9L12.0,12.6L11.7,13.7L10.8,14.5 M29.6,20.4L29.8,21.5L30.9,22.1L31.9,22.8L33.0,23.4 M33.7,16.8L33.9,18.0L34.9,18.6L36.0,19.0L37.2,19.0L38.4,19.1 M9.2,-3.4L8.7,-4.4L7.6,-4.9L7.0,-6.0L6.7,-7.1L6.3,-8.3 M8.8,4.4L8.7,3.2L9.5,2.3L9.7,1.1L8.9,0.2L9.0,-1.0 M12.1,1.4L10.9,1.7L9.7,2.0L8.5,1.7L7.5,1.2L6.4,0.6 M33.0,28.2L34.1,28.5L35.3,28.2L36.4,27.9 M15.1,-3.3L16.3,-3.0L17.5,-3.1 M41.0,30.5L41.7,29.5L41.5,28.3 M31.1,0.8L30.2,-0.0L29.0,-0.1L28.2,0.8L27.0,1.1 M2.7,3.7L2.9,2.5L3.6,1.6L4.8,1.5L5.8,0.7 M-1.1,12.0L-1.0,10.8L-1.2,9.6L-1.8,8.6 M2.9,-3.8L1.9,-4.5L1.6,-5.6L1.9,-6.8L1.6,-7.9L0.5,-8.5 M0.4,28.2L-0.1,27.1L-0.4,25.9L-0.4,24.7 M28.7,24.3L29.8,23.7L30.4,22.7L31.6,22.3 M23.8,16.8L22.7,16.3L21.8,15.5L21.8,14.3L22.6,13.4 M40.1,12.7L38.9,12.6L37.7,12.7L36.8,12.0L35.6,11.6 M39.3,25.6L38.3,26.2L37.1,26.1 M20.8,0.0L21.1,-1.1L20.4,-2.2 M38.7,3.5L38.8,2.3L38.3,1.2L37.6,0.3L36.4,0.1 M15.3,23.7L16.4,23.3L17.5,22.8L18.7,23.0L19.8,23.5 M42.4,4.7L41.2,4.6L40.1,5.1L39.0,4.6L37.9,4.1L36.9,4.7 M34.4,7.2L34.6,6.0L33.9,5.0L34.0,3.8L34.1,2.6 M33.8,24.7L32.8,25.4L32.0,26.3 M10.6,3.1L9.4,3.1L8.2,3.2L7.0,2.9L5.8,2.6 M40.1,30.5L39.2,29.8L39.0,28.6L38.5,27.5 M14.3,33.4L13.4,32.6L12.8,31.5 M17.7,4.5L17.9,3.3L17.2,2.3L17.5,1.1 M23.3,-4.0L23.5,-5.2L24.1,-6.2L24.9,-7.1 M29.2,21.3L28.6,22.3L27.7,23.2L27.5,24.3L27.5,25.5 M34.1,-1.1L33.0,-0.7L31.8,-1.0L31.2,-2.0 M2.8,0.2L3.8,0.9L4.6,1.8L5.3,2.7 M2.6,33.7L2.4,32.5L2.9,31.4L2.8,30.2L1.8,29.5L0.7,29.2 M9.7,15.9L8.5,15.9L7.3,15.7 M13.5,3.7L13.1,2.6L12.4,1.6L11.5,0.8L11.1,-0.3L10.6,-1.4 M42.8,14.4L43.9,14.8L45.0,15.2L46.1,15.7L46.6,16.8 M14.8,2.1L13.8,1.4L13.2,0.4L13.4,-0.8L12.6,-1.8 M26.5,14.0L27.0,15.1L27.3,16.3L27.0,17.5L27.2,18.7L26.7,19.8 M19.5,16.6L20.3,17.5L21.1,18.4L22.2,18.7L23.4,18.4 M11.3,-3.0L10.2,-2.6L9.0,-2.6 M34.8,33.4L34.2,32.4L33.6,31.4 M26.9,5.4L27.4,4.3L27.6,3.1L28.6,2.4L29.7,1.9 M31.5,23.6L30.7,22.7L29.6,22.2L28.4,22.0 M21.2,11.8L20.7,10.7L20.8,9.5 M13.3,13.4L13.7,14.5L14.1,15.6L15.1,16.3L16.3,16.7 M2.2,25.0L1.9,23.9L0.9,23.2L-0.3,22.9L-1.4,23.4L-1.8,24.5 M1.3,21.8L2.0,20.8L2.1,19.6L1.7,18.4L1.8,17.2 M40.7,-1.0L39.6,-0.6L38.4,-0.7 M5.0,15.5L4.6,16.6L5.1,17.7L4.8,18.9 M16.0,20.6L14.9,20.3L13.8,19.9L13.0,19.0L13.2,17.8L13.6,16.7 M3.6,30.5L4.8,30.7L5.7,31.5L6.4,32.5L7.3,33.3 M14.0,21.7L14.2,22.9L15.0,23.8L16.1,24.5L16.9,25.3 M-2.5,21.5L-3.7,21.5L-4.9,21.4L-5.8,22.3L-6.9,22.5L-8.1,22.8 M4.3,2.1L3.8,1.0L3.6,-0.2L3.7,-1.4 M44.4,6.0L45.0,7.0L46.1,7.5L46.7,8.5L47.1,9.7 M32.0,16.6L33.1,17.2L33.5,18.3L34.5,19.0 M37.4,6.3L38.3,5.5L39.4,5.1L40.6,5.4L41.5,4.6 M21.5,21.8L20.6,22.6L19.9,23.6 M8.5,9.4L8.6,10.6L8.5,11.8L9.3,12.7 M26.9,27.7L25.8,27.3L25.3,26.2L24.2,25.6L23.2,25.1L22.0,24.9 M14.2,9.4L15.2,10.0L16.2,10.7L16.6,11.8L17.6,12.6 M-1.9,32.8L-3.0,32.3L-3.9,31.5L-4.0,30.3 M-2.9,24.8L-2.8,26.0L-2.4,27.1L-1.7,28.0L-1.1,29.1L-1.1,30.3 M46.7,27.9L45.5,27.8L44.4,27.3L43.3,26.7 M30.0,6.4L31.2,6.7L32.2,6.0L33.2,5.4L34.4,5.1L35.6,5.4 M45.3,8.5L46.4,9.0L47.6,9.3L48.7,9.7L49.9,9.7" fill="none" stroke="#6e0606" stroke-width="1.0" stroke-linecap="round" filter="url(#b03)"/><path d="M20.3,30.0L19.2,30.6L18.4,31.4L17.4,32.1L16.2,32.3 M1.8,1.7L0.6,1.7L-0.6,1.8L-1.6,1.2 M-2.7,-2.1L-1.9,-1.2L-0.8,-0.8L0.3,-0.4 M14.8,7.2L14.3,6.1L13.3,5.6 M29.1,27.2L30.0,28.0L30.3,29.1 M16.1,-2.8L15.8,-4.0L14.9,-4.7 M33.5,15.2L34.6,15.6L35.8,15.6 M30.8,29.2L29.9,28.4L28.7,28.4L27.5,28.1 M13.6,32.9L14.8,33.2L15.9,33.6L17.1,33.8 M20.4,10.6L19.7,9.6L18.9,8.7L17.8,8.3 M15.9,20.2L16.3,21.3L16.5,22.5L17.3,23.4L18.0,24.4 M20.1,2.3L21.3,2.6L22.5,2.9L23.3,3.8 M3.7,-1.5L3.4,-0.4L4.1,0.6L4.4,1.8 M30.4,5.2L31.3,4.4L32.2,3.6 M9.9,24.7L10.4,23.7L10.4,22.5L10.0,21.4L8.9,20.9 M17.8,-1.3L18.8,-1.9L20.0,-1.8L21.1,-1.3L21.7,-0.2 M25.1,21.6L24.7,20.4L25.1,19.3 M32.2,12.5L31.4,13.3L30.4,14.0 M10.0,14.8L10.7,13.8L11.5,12.9 M6.4,19.1L7.3,18.4L8.5,18.6 M45.6,23.9L45.9,25.0L46.8,25.9L47.9,26.2L48.8,27.1 M46.9,6.1L46.5,7.2L46.6,8.4L46.2,9.5L45.9,10.7 M41.2,7.2L42.0,8.1L42.1,9.3 M29.6,18.1L29.1,19.2L29.2,20.4 M5.3,24.5L4.3,25.1L3.1,25.0L2.4,24.0 M-1.6,33.1L-0.4,33.3L0.7,33.8L1.2,34.9L1.7,36.0 M-3.7,24.8L-4.5,25.6L-5.5,26.3L-6.4,27.1 M0.0,3.9L1.2,3.6L1.7,2.5L1.4,1.3 M41.2,1.7L40.3,0.9L40.2,-0.3 M13.6,15.9L13.3,17.0L12.4,17.8L11.4,18.4L10.2,18.5 M33.6,4.2L34.5,3.4L34.7,2.2 M24.6,8.7L25.7,8.2L26.8,8.8L27.8,9.4 M46.6,15.5L47.6,14.8L48.1,13.7L48.0,12.6 M25.8,-0.2L26.0,-1.4L26.5,-2.5L27.1,-3.5 M-2.1,11.1L-1.4,10.2L-0.4,9.5L0.8,9.5 M1.3,13.5L2.4,13.9L3.6,13.7L4.5,13.0 M20.9,15.1L21.7,15.9L21.7,17.1L22.5,18.0L22.9,19.1 M43.8,11.6L44.3,10.5L44.2,9.3L43.8,8.2L43.1,7.2 M31.7,8.5L32.0,9.7L31.8,10.9 M-2.3,16.4L-2.7,15.3L-3.8,14.8L-5.0,14.4L-5.7,13.5 M11.0,22.1L11.0,20.9L10.9,19.7L10.4,18.6 M12.2,3.6L13.4,3.8L14.5,3.3L15.3,2.4 M45.3,-2.9L44.3,-3.6L43.1,-3.6L42.1,-4.3 M8.7,9.4L7.6,9.6L6.5,10.1L5.6,11.0L5.6,12.2 M25.4,30.8L24.2,31.0L23.5,31.9L22.6,32.7L21.4,32.5 M44.2,20.6L44.5,21.8L45.6,22.3 M24.9,6.7L25.9,7.5L26.9,8.1L28.1,7.9 M37.3,30.8L37.0,32.0L36.4,33.0L35.3,33.4 M46.5,33.0L47.7,32.8L48.8,33.1 M16.3,24.6L17.4,24.1L18.6,24.3L19.6,23.7 M9.8,-2.0L11.0,-2.0L12.2,-1.8L13.1,-1.0 M40.2,18.1L41.4,18.5L42.3,17.8L42.6,16.6 M37.8,26.1L36.6,26.2L35.5,25.8L34.6,25.0 M32.9,-3.2L34.1,-3.4L35.0,-4.2L36.1,-4.7L36.8,-5.7 M5.9,29.4L4.8,29.2L3.6,29.2 M26.2,17.1L26.5,18.3L25.9,19.3L25.0,20.1 M32.2,1.0L32.8,-0.1L33.8,-0.7L34.9,-1.1L36.1,-1.5 M8.2,29.5L9.2,28.9L10.2,28.2L11.4,27.8 M37.7,17.3L38.4,16.3L38.9,15.1L39.3,14.0L40.2,13.3 M18.9,17.9L19.8,18.7L20.6,19.7L21.6,20.2L22.6,20.9 M33.5,11.8L32.3,11.6L31.4,10.8L30.2,10.6 M10.5,5.6L10.3,4.4L11.1,3.5L12.2,3.0L12.7,1.9 M38.2,-2.1L37.0,-2.1L36.3,-1.1L35.3,-0.4" fill="none" stroke="#f07a7a" stroke-width="0.7" stroke-linecap="round" filter="url(#b03)"/></g></g><ellipse cx="519.6" cy="169.2" rx="0.9" ry="0.7" fill="#2a2a74"/><ellipse cx="544.2" cy="170.3" rx="0.9" ry="0.7" fill="#2a2a74"/><ellipse cx="523.1" cy="191.8" rx="0.9" ry="0.7" fill="#2a2a74"/><ellipse cx="546.5" cy="191.4" rx="0.9" ry="0.7" fill="#2a2a74"/><path d="M577.5,212 C577,200 582,191 591.5,186.4 C596,184.8 600,184.2 605,184 L626.5,184 Q627.8,184 627.8,185.5 L627.8,222.7 L581,222.7 C578.5,220 577.5,216 577.5,212 Z" fill="#c8c8c8"/><clipPath id="c4"><path d="M577.5,212 C577,200 582,191 591.5,186.4 C596,184.8 600,184.2 605,184 L626.5,184 Q627.8,184 627.8,185.5 L627.8,222.7 L581,222.7 C578.5,220 577.5,216 577.5,212 Z"/></clipPath><g clip-path="url(#c4)"><g filter="url(#b03)" transform="translate(577.0,184.0)"><path d="M37.8,39.0L36.9,38.0L35.7,37.9L34.5,38.5L33.4,39.2L32.1,39.5 M6.5,41.3L5.4,40.7L4.1,40.4L2.9,40.9L2.3,42.0L2.5,43.3L2.1,44.5 M9.8,34.6L11.1,34.7L12.1,35.6L12.8,36.7L13.1,37.9L13.2,39.2 M43.3,21.8L44.6,21.4L45.9,21.4L47.1,21.9L48.4,22.1 M6.7,9.2L6.1,10.4L6.0,11.7L5.1,12.6 M50.0,2.2L48.8,2.7L47.5,2.6L46.3,3.2L45.6,4.3L45.8,5.5L46.6,6.6 M30.4,30.0L31.2,31.1L32.2,31.9L33.5,32.2L34.6,32.8L35.9,32.7 M40.2,33.6L39.9,32.3L40.6,31.2L41.8,30.7L43.1,30.8L44.1,30.0 M22.5,29.2L21.9,28.0L20.8,27.3L20.1,26.2L19.9,24.9L18.9,24.1 M51.4,26.9L50.1,27.2L48.9,26.7L47.6,26.6L46.5,27.2L45.2,27.0L43.9,26.7 M31.6,8.5L31.8,9.8L31.3,11.1L30.6,12.1L30.3,13.4L29.9,14.6 M37.3,11.0L38.4,11.6L39.6,12.1L40.1,13.3L40.0,14.6L40.7,15.7 M24.2,7.5L24.4,6.2L24.0,5.0L24.2,3.7 M42.6,32.0L43.7,32.8L44.1,34.0L44.5,35.3L45.5,36.1L46.3,37.2L47.0,38.2 M10.9,35.1L10.3,36.2L9.2,37.0L8.4,38.0 M-2.6,33.1L-3.8,32.5L-4.8,31.7L-5.5,30.6L-6.7,30.0L-8.0,30.0L-9.3,30.1 M53.2,35.0L54.3,34.2L54.7,33.0L55.0,31.8L54.3,30.6 M46.4,43.0L45.6,42.0L45.3,40.7L44.2,39.9L43.1,39.4L41.8,39.1L40.9,38.1 M26.8,37.4L28.0,37.7L28.8,38.7L29.9,39.5L30.4,40.7L31.4,41.5L31.8,42.7 M47.4,8.6L47.8,7.4L48.9,6.7L49.8,5.7L51.0,5.3L52.3,5.4L53.6,5.3 M41.5,28.9L40.3,28.3L39.1,27.8L37.8,27.8L36.6,27.4L35.4,26.9 M-2.0,27.5L-0.7,27.4L0.5,27.8L1.8,28.2L3.1,28.0 M45.2,-2.1L45.6,-0.9L46.7,-0.2L47.3,1.0L46.9,2.2L46.9,3.5L47.0,4.8 M7.4,27.9L8.6,27.5L9.8,27.9L11.1,28.2L11.9,29.2L12.8,30.1 M30.3,9.7L31.0,10.8L32.1,11.5L33.3,12.0L34.5,11.7 M29.7,29.3L31.0,29.2L32.2,29.5L33.4,30.0L34.6,30.5L35.9,30.2 M2.6,42.3L3.6,41.4L4.9,41.5L5.8,42.3L6.3,43.6L7.5,44.1L8.0,45.3 M22.3,12.5L21.8,13.7L21.1,14.8L20.2,15.7L20.1,17.0 M24.9,35.6L25.6,34.5L26.2,33.4L26.6,32.1L27.7,31.4L29.0,31.6 M39.5,19.6L38.2,20.0L37.3,20.9L36.0,20.9L34.8,21.3L33.8,22.2L32.9,23.1 M26.2,19.7L27.4,20.1L28.3,21.0L29.4,21.6L30.2,22.6L30.5,23.9L29.8,25.0 M19.4,42.9L20.7,43.1L22.0,43.3L23.1,42.6L24.3,42.0 M2.9,14.7L3.1,13.4L3.0,12.1L3.7,11.0 M4.5,-2.0L5.3,-3.0L6.1,-4.0L7.0,-4.9L7.5,-6.2L7.3,-7.4L6.4,-8.4 M-0.2,18.9L-0.7,20.1L-1.0,21.4L-1.7,22.5L-1.8,23.8L-1.1,24.9 M14.0,11.4L12.9,10.7L12.3,9.5L12.5,8.3L12.2,7.0L11.6,5.9L10.4,5.3 M49.8,17.9L49.0,18.9L48.2,20.0L46.9,20.3L45.7,20.6 M16.3,40.8L15.3,39.9L14.3,39.0L13.1,38.7L11.9,39.1L10.7,39.6L9.6,40.4L9.2,41.6 M39.9,23.0L38.8,23.6L37.5,23.6L36.5,22.7L35.5,21.9 M8.6,15.4L8.4,16.7L7.6,17.7L7.1,18.9L6.0,19.6 M26.9,0.6L25.8,-0.1L25.1,-1.3L24.4,-2.3 M-3.6,5.9L-4.9,5.7L-5.7,4.7L-6.3,3.6L-7.0,2.5L-7.8,1.4 M16.4,4.3L15.5,5.2L15.2,6.5L15.8,7.6L16.1,8.9L15.7,10.2L15.0,11.3 M0.6,-3.8L0.0,-2.6L-0.1,-1.3L0.1,-0.0L0.8,1.0L2.1,1.4 M51.8,2.9L50.5,2.8L49.3,2.3L48.1,1.8L47.0,2.4 M52.9,14.3L52.0,13.3L51.0,12.5L50.1,11.6L48.8,11.5L47.5,11.1L46.3,11.4L45.0,11.4 M15.3,20.7L14.9,22.0L13.7,22.6L12.4,22.7L11.4,23.5L10.1,23.7L9.1,24.5 M40.1,-3.8L41.2,-4.5L42.5,-4.3L43.3,-3.3L44.5,-2.7 M17.2,25.2L18.3,24.7L19.5,24.0L20.2,22.9 M43.5,9.4L44.7,9.9L45.2,11.1L45.7,12.4L46.4,13.4L47.5,14.1" fill="none" stroke="#8a8a8a" stroke-width="0.8" stroke-linecap="round" stroke-linejoin="round"/><path d="M39.4,0.7L40.3,-0.3L41.0,-1.4L41.5,-2.6L41.7,-3.9L42.5,-4.9 M28.3,24.1L29.5,24.4L30.8,24.4L32.0,24.9L32.8,26.0L33.8,26.8L35.1,27.0 M0.5,40.4L0.0,39.1L-1.0,38.3L-2.1,37.6L-2.8,36.6L-3.9,35.7L-4.8,34.8 M1.7,26.5L2.8,25.7L4.0,25.9L5.3,26.2L6.4,26.9 M23.0,37.0L24.1,36.4L24.8,35.3L25.9,34.6 M25.9,10.5L25.9,11.8L25.0,12.7L23.7,13.2L22.4,13.3L21.2,13.6 M32.9,28.2L32.7,29.5L32.9,30.7L32.8,32.0 M11.5,0.0L11.4,1.3L11.4,2.6L11.7,3.8L12.8,4.5 M21.3,0.8L22.6,0.9L23.9,0.7L25.2,1.0L26.3,1.5L27.2,2.5L28.1,3.5L28.1,4.8 M27.3,29.9L27.3,28.6L26.4,27.7L26.0,26.5L25.1,25.6L24.6,24.4 M9.5,13.3L8.3,13.9L8.0,15.2L7.5,16.4L6.8,17.5 M16.2,8.6L16.0,7.3L16.1,6.0L16.0,4.7 M31.0,19.9L30.9,18.7L30.6,17.4L29.7,16.5L29.5,15.2L28.8,14.1L27.7,13.4 M53.0,-1.4L52.1,-0.5L50.9,0.0L50.3,1.2L49.6,2.3L48.7,3.3L47.7,4.1 M9.7,7.1L10.8,6.4L11.8,5.6L13.1,5.5L14.4,5.5 M30.5,-2.1L31.7,-1.8L33.0,-1.6L34.3,-1.7L35.6,-1.7L36.8,-1.3L38.1,-1.6 M7.2,41.9L8.4,41.6L9.6,41.1L10.6,40.2L11.4,39.2L12.7,39.0L13.8,39.6 M14.7,21.9L14.9,23.1L14.1,24.2L13.1,25.0L11.8,24.9 M18.6,3.8L18.4,2.5L19.1,1.4L19.0,0.1L18.5,-1.1L18.1,-2.3 M40.1,36.4L39.6,35.2L38.5,34.4L38.1,33.2L38.7,32.0 M32.8,35.2L31.8,36.0L30.7,36.7L29.6,37.4L28.8,38.4 M17.8,30.2L18.3,29.0L18.6,27.7L18.3,26.5 M41.7,28.2L42.6,27.2L43.8,26.7L45.1,26.6L46.3,26.0L47.3,25.2L48.6,25.4 M19.5,42.2L20.8,42.4L22.1,42.3L23.0,41.4L24.1,40.8L25.4,40.7L26.6,40.1 M42.5,11.2L41.2,11.4L39.9,11.6L38.6,11.9L37.4,12.3L36.2,11.7L34.9,11.6 M-3.7,-1.9L-2.5,-1.5L-1.9,-0.3L-1.9,1.0L-2.6,2.1L-2.7,3.4L-2.4,4.6L-2.3,5.9 M41.3,13.2L40.6,12.0L40.0,10.9L40.2,9.6L40.7,8.4 M35.2,14.8L34.9,16.1L34.6,17.4L33.4,18.0L32.1,18.0L30.9,18.5 M27.6,16.6L26.6,17.4L25.9,18.5L24.9,19.4L24.0,20.3 M9.6,28.7L9.4,30.0L8.5,31.0L7.7,31.9 M50.5,35.0L49.2,34.9L48.0,34.4L46.8,34.6L45.5,34.7L44.2,34.3 M50.7,42.9L49.4,43.0L48.4,43.9L47.7,45.0L47.1,46.1 M1.0,6.6L1.1,5.3L1.2,4.0L0.5,2.9 M54.1,21.3L53.6,20.1L53.0,18.9L53.1,17.6L52.5,16.5 M8.8,25.4L9.0,24.1L9.4,22.9L9.2,21.6L10.0,20.5L11.2,20.2L12.5,20.4 M39.5,27.0L38.5,26.2L37.4,25.5L36.1,25.5L34.8,25.7L33.7,26.4 M18.7,18.8L18.9,20.0L19.6,21.1L19.3,22.4L18.5,23.4L17.3,24.0L16.0,24.1 M53.2,19.4L52.0,18.9L51.3,17.8L50.6,16.7L49.7,15.9L48.9,14.8L48.0,13.9 M49.4,5.4L50.1,6.5L50.0,7.8L49.4,9.0L48.8,10.1L49.2,11.4L48.9,12.6 M4.2,15.3L3.8,16.6L4.0,17.9L5.1,18.6L6.2,19.2L7.5,19.7" fill="none" stroke="#f4f4f4" stroke-width="1.0" stroke-linecap="round" stroke-linejoin="round"/></g></g><clipPath id="c5"><path d="M580.80,205.60 C581.05,203.04 582.47,199.78 584.40,197.10 C586.33,194.42 588.42,192.25 591.50,190.70 C594.58,189.15 597.40,188.63 601.50,188.50 C605.60,188.37 610.72,188.70 614.30,190.00 C617.88,191.30 619.60,193.40 621.40,195.70 C623.20,198.00 624.30,200.24 624.30,202.80 C624.30,205.36 623.45,207.85 621.40,209.90 C619.35,211.95 616.48,212.65 612.90,214.20 C609.32,215.75 605.60,218.25 601.50,218.50 C597.40,218.75 593.43,216.90 590.10,215.60 C586.77,214.30 584.67,213.10 583.00,211.30 C581.33,209.50 580.55,208.16 580.80,205.60Z"/></clipPath><path d="M580.80,205.60 C581.05,203.04 582.47,199.78 584.40,197.10 C586.33,194.42 588.42,192.25 591.50,190.70 C594.58,189.15 597.40,188.63 601.50,188.50 C605.60,188.37 610.72,188.70 614.30,190.00 C617.88,191.30 619.60,193.40 621.40,195.70 C623.20,198.00 624.30,200.24 624.30,202.80 C624.30,205.36 623.45,207.85 621.40,209.90 C619.35,211.95 616.48,212.65 612.90,214.20 C609.32,215.75 605.60,218.25 601.50,218.50 C597.40,218.75 593.43,216.90 590.10,215.60 C586.77,214.30 584.67,213.10 583.00,211.30 C581.33,209.50 580.55,208.16 580.80,205.60Z" fill="#c81e1e"/><g clip-path="url(#c5)"><g transform="translate(577.0,184.0)"><path d="M21.2,5.7L20.5,6.7L19.3,6.8L18.4,5.9L18.3,4.8L17.6,3.8 M17.9,15.0L17.9,16.2L18.3,17.4L17.7,18.4L18.0,19.6 M6.4,2.2L7.4,1.5L8.0,0.5L8.6,-0.6L9.7,-1.1 M17.6,17.9L16.5,17.5L15.4,17.8L14.2,18.0L13.1,17.4L11.9,17.5 M46.8,32.7L47.7,31.9L48.9,31.7 M19.6,10.7L18.8,11.6L18.3,12.7L18.8,13.8L18.8,15.0L19.6,15.9 M24.5,26.8L25.6,26.9L26.6,26.1 M16.7,26.2L16.2,25.1L15.7,24.0L15.6,22.8 M27.3,13.3L28.5,13.2L29.5,12.8 M9.3,11.1L8.2,11.5L7.1,11.0L6.2,10.3L5.2,9.6L4.1,9.1 M34.2,5.7L33.0,6.0L32.0,6.6 M13.0,16.7L14.2,16.6L15.2,17.3 M36.7,34.1L36.1,35.1L35.3,36.1L35.0,37.2L34.9,38.4 M22.6,35.2L21.4,35.1L20.2,34.9L19.1,34.6 M32.8,12.7L33.2,11.6L33.2,10.4L33.7,9.3 M-3.0,7.9L-2.3,8.9L-2.2,10.1L-2.3,11.3L-1.7,12.3L-1.5,13.5 M13.9,12.1L15.0,11.7L16.2,12.0L17.2,12.7L17.4,13.9 M48.4,6.6L48.8,5.5L49.3,4.4L49.0,3.3 M23.5,6.7L22.8,5.8L22.8,4.6L22.2,3.5L22.6,2.4 M-2.3,11.2L-3.0,10.2L-3.4,9.1 M53.3,20.3L53.7,19.1L54.6,18.3 M32.3,1.5L33.5,1.9L34.3,2.7L35.2,3.5 M32.7,42.3L32.9,41.1L33.9,40.5L35.1,40.4L36.2,40.8 M12.3,25.2L13.2,24.4L14.1,23.5L15.0,22.8L15.2,21.6L14.5,20.6 M31.9,18.7L33.0,18.3L34.1,18.7L34.5,19.8L35.5,20.5 M1.9,38.6L3.0,38.0L4.1,37.6L4.6,36.6 M49.1,39.5L49.7,38.4L49.3,37.3L48.6,36.4 M22.3,41.5L21.8,42.6L22.1,43.8L21.9,45.0 M36.6,22.7L36.8,23.9L36.5,25.1 M-2.6,35.7L-1.5,36.2L-0.4,35.8L0.5,35.0L1.4,34.2L1.8,33.1 M-3.7,27.5L-4.9,27.5L-5.7,28.3L-5.8,29.5L-5.5,30.7L-5.7,31.9 M12.0,38.9L13.1,38.5L14.0,37.7L15.2,37.9L15.9,38.9 M10.7,34.6L9.8,35.4L8.8,36.0 M43.4,35.7L43.1,36.8L43.4,38.0L43.9,39.1L44.7,40.0 M39.0,41.8L39.1,43.0L39.6,44.1L39.3,45.3L39.7,46.4L40.8,46.9 M51.4,23.5L51.9,22.4L51.9,21.2L52.5,20.2 M52.1,41.9L51.1,42.6L50.0,42.9L48.8,42.8L47.6,42.4 M23.2,3.0L23.4,1.8L23.7,0.7L24.3,-0.4 M15.7,7.7L14.7,8.3L13.7,9.0L13.4,10.2 M49.9,0.7L50.6,1.6L50.4,2.8L49.9,3.9L49.2,4.9 M21.4,24.4L20.8,25.4L19.7,25.8L18.6,25.3L17.5,24.9L16.4,24.4 M5.6,19.7L6.3,20.6L7.4,21.0L8.3,21.8L8.5,23.0 M8.7,21.6L7.5,21.6L6.4,22.1L5.7,23.1L5.8,24.3 M-1.9,-3.2L-2.8,-2.4L-3.0,-1.3L-3.2,-0.1L-3.1,1.1 M46.3,1.9L45.7,0.9L44.6,0.5L43.8,-0.5L43.0,-1.3L41.8,-1.5 M42.6,1.1L42.7,-0.1L41.8,-0.9L41.0,-1.8L40.9,-3.0L41.7,-4.0 M16.8,32.3L15.7,32.0L14.7,31.3 M45.6,8.9L44.4,8.9L43.2,8.7 M5.9,3.6L6.7,4.5L7.4,5.4 M36.0,15.1L35.9,13.9L36.7,13.0L37.7,12.3L38.4,11.3L39.4,10.7 M52.6,11.6L53.5,10.8L54.6,10.4L55.8,10.0L56.4,9.0 M31.8,15.6L32.6,16.4L32.9,17.6L33.5,18.6 M48.8,39.1L49.8,39.9L50.7,40.6 M0.0,2.6L-1.2,2.6L-2.1,1.9L-3.3,1.9L-4.5,1.9 M-2.8,17.3L-2.1,16.3L-0.9,16.0L-0.3,15.0L0.9,14.6L2.1,14.6 M46.7,21.3L47.2,22.4L47.2,23.6L47.3,24.8L47.9,25.9 M1.2,17.5L0.3,18.2L-0.9,18.6 M0.5,9.2L-0.6,8.7L-1.7,9.1L-2.5,10.0L-3.3,10.9L-4.2,11.6 M-1.5,24.7L-2.6,24.2L-3.1,23.1L-4.2,22.7L-5.4,22.6L-6.2,21.7 M6.3,32.0L5.1,32.4L4.0,32.2L2.8,31.8 M6.6,13.6L7.4,12.7L8.4,12.1L9.6,12.2L10.7,11.7L11.5,10.8 M17.5,1.5L16.5,0.8L15.3,1.1L14.2,0.8L13.0,1.1 M54.4,-0.3L55.2,0.5L56.0,1.4 M45.4,4.9L46.2,4.1L46.9,3.1L46.6,1.9L47.1,0.8 M52.8,6.1L51.8,6.7L51.4,7.9L51.3,9.1L50.4,9.8L50.0,11.0 M35.1,20.7L35.7,19.7L36.7,19.0 M30.7,22.4L31.9,22.5L33.1,22.8 M-2.1,29.1L-3.3,28.9L-4.2,29.7L-4.2,30.9L-4.6,32.0L-4.4,33.2 M26.7,2.7L26.6,3.9L26.3,5.1L25.4,5.9 M54.1,27.4L53.1,26.8L52.0,26.4L50.8,26.0L50.0,25.1L49.0,24.5 M50.6,11.9L51.5,11.2L52.6,10.6 M5.0,23.7L5.7,22.7L6.9,22.5L8.1,22.4L9.0,23.3L8.9,24.5 M36.0,-0.6L34.9,-0.1L33.7,0.0L32.6,-0.6L32.0,-1.5 M43.2,42.1L42.1,41.5L40.9,41.6L40.0,42.3L39.4,43.4 M43.6,13.9L44.4,14.8L44.6,15.9L44.7,17.1L45.1,18.2 M51.3,28.9L50.3,28.2L49.1,28.5 M12.7,31.6L12.1,30.5L11.2,29.7 M9.2,8.7L8.0,8.9L6.8,8.8 M11.9,22.5L13.0,22.1L13.6,21.0L14.6,20.4L15.7,19.8 M9.0,2.7L8.5,1.6L9.0,0.5L9.3,-0.7L9.6,-1.8 M19.6,20.1L20.6,19.4L21.8,19.6L22.9,19.0 M11.5,19.0L12.0,20.2L12.2,21.3L12.2,22.5 M-0.9,42.8L-1.6,43.7L-2.0,44.9L-2.9,45.6L-4.1,45.5L-5.3,45.7 M25.4,-3.9L24.3,-3.5L23.1,-3.7 M42.7,9.4L42.2,8.3L41.4,7.4L40.3,6.9L39.9,5.8 M53.9,30.1L54.2,28.9L55.0,28.1L56.1,27.5 M31.8,9.8L32.9,10.1L34.0,10.8 M21.7,1.5L21.2,2.6L21.4,3.8L22.1,4.7 M47.0,42.1L46.4,43.1L45.7,44.1L44.6,44.7L43.5,45.1L42.7,45.9 M1.9,17.9L0.7,17.5L-0.4,17.2L-1.0,16.2L-2.1,15.7 M-3.0,19.3L-2.2,18.5L-2.1,17.3L-1.6,16.2L-1.7,15.0 M50.8,9.7L51.1,8.6L52.1,7.9L52.9,7.0 M5.8,25.3L4.9,24.5L4.3,23.4L3.2,23.0 M39.4,15.2L39.1,16.4L38.7,17.5L38.1,18.5 M47.0,39.2L47.7,38.2L48.8,38.0L49.8,37.3L50.9,36.8 M3.8,32.8L2.6,32.5L1.6,31.9L0.9,30.9L-0.3,30.8L-1.1,29.9 M36.9,6.1L36.1,7.1L35.7,8.2L36.2,9.3L37.3,9.9 M43.7,-0.6L42.5,-0.6L41.4,-0.2 M34.4,37.2L33.5,36.4L32.3,36.4L31.2,36.7 M17.1,31.1L17.7,32.2L17.6,33.4L18.1,34.4L18.8,35.4 M41.0,29.8L39.9,29.3L38.7,29.3L37.5,29.4 M54.7,-0.4L53.6,-0.1L53.0,1.0L52.0,1.6L50.8,1.9L49.6,1.7 M54.9,37.8L54.1,36.9L53.0,36.3L52.2,35.5L51.1,34.8 M5.3,16.0L6.5,16.1L7.7,16.0 M4.1,8.3L5.1,7.7L6.3,7.7L7.5,7.4 M25.3,19.3L26.2,18.5L27.3,18.3L28.5,18.3L29.7,18.7 M27.6,8.7L28.8,8.6L29.9,8.1L31.0,7.7L31.6,6.6 M30.7,33.1L31.9,33.1L32.6,34.0L33.8,34.1L35.0,34.0L36.2,33.9 M50.9,34.4L50.3,35.5L50.2,36.7L49.5,37.7L49.7,38.8L50.2,39.9 M11.2,-3.8L10.4,-3.0L9.2,-2.8L8.1,-3.3L7.0,-3.5 M-0.1,-2.3L-1.0,-3.0L-1.7,-4.0L-2.1,-5.2L-3.1,-5.8 M51.4,7.0L50.3,7.5L49.5,8.4L49.4,9.6L48.8,10.6L49.1,11.8 M40.5,5.2L41.0,6.3L41.2,7.5L42.1,8.2L43.2,8.7 M3.4,-2.9L2.2,-2.7L1.0,-2.5L-0.1,-2.2 M4.4,39.9L5.6,40.3L6.6,39.8L7.8,39.9L8.9,40.5L9.8,41.2 M11.7,40.0L11.1,39.0L9.9,38.8L9.1,38.0L9.2,36.8L9.2,35.6 M19.3,7.4L20.4,7.1L21.6,7.0 M30.5,30.7L30.1,29.6L29.2,28.9L28.0,28.5 M-2.0,2.3L-0.8,2.3L0.3,1.7L1.3,1.1 M10.8,2.3L10.2,1.3L9.7,0.2L9.5,-1.0 M17.9,36.7L16.7,36.4L15.5,36.1L14.4,35.8 M45.6,27.9L44.4,27.9L43.2,28.2L42.2,28.9L42.1,30.1 M26.9,41.0L26.5,42.1L26.3,43.3L26.2,44.5 M30.0,38.2L31.2,38.4L32.2,37.9L33.4,37.9L34.2,38.8 M2.5,22.5L2.7,23.7L2.2,24.8L1.1,25.3L-0.0,25.1L-1.1,24.6 M15.3,11.3L14.2,10.8L13.0,11.0L11.9,10.4L11.1,9.6 M38.3,13.9L37.1,13.6L36.1,13.0L35.0,12.5L34.6,11.3L35.1,10.3 M19.9,15.6L20.1,16.8L19.3,17.7L18.1,17.8L17.0,17.2L15.9,17.5 M-3.5,4.9L-2.9,6.0L-2.4,7.1L-2.2,8.2 M42.8,21.8L41.9,22.6L41.4,23.7L41.8,24.8L42.6,25.7 M25.8,-2.8L25.2,-3.8L24.1,-4.2L22.9,-4.2L21.8,-3.8 M2.5,40.4L1.3,40.8L0.7,41.8 M4.0,35.8L4.8,36.7L4.7,37.9L5.4,38.8L6.2,39.7L6.4,40.9 M43.0,19.4L44.2,19.7L45.4,19.9L46.6,20.1L47.6,19.6L48.8,19.3 M50.1,20.8L50.0,22.0L49.3,23.0L49.4,24.2L50.4,24.9L51.5,25.2 M21.8,-3.1L23.0,-3.2L23.9,-3.9L25.0,-4.5L25.7,-5.5 M33.0,-0.4L32.6,0.8L32.4,2.0L31.8,2.9L31.1,3.9L29.9,4.3 M46.5,-2.7L46.0,-1.6L45.0,-0.9L44.7,0.3L44.4,1.4L44.9,2.5 M39.6,31.5L39.5,32.7L39.1,33.8L38.0,34.4L37.7,35.5L38.2,36.6 M42.0,17.5L42.7,18.5L43.7,19.2L44.9,19.1 M40.2,20.8L39.5,19.8L39.6,18.6L39.3,17.4L39.8,16.4L40.6,15.5 M38.9,8.9L39.0,10.1L38.6,11.2L38.5,12.4L38.1,13.5 M21.0,32.6L19.9,33.1L19.4,34.2L18.5,35.0 M10.0,41.7L9.0,41.0L7.8,41.0L6.6,41.0L5.5,41.4 M26.1,36.5L26.5,35.4L27.6,34.9L28.8,34.7L29.9,34.4 M20.7,29.7L21.3,28.7L21.4,27.5L21.4,26.3 M26.5,31.7L27.2,32.7L27.7,33.8L28.3,34.8L28.8,35.9 M37.5,2.7L38.0,1.6L39.2,1.4L40.2,0.7 M7.9,-1.1L7.6,0.1L8.0,1.2L8.2,2.4L9.1,3.1L9.4,4.3 M19.4,41.7L19.1,42.9L18.7,44.0L18.2,45.1L17.6,46.2 M34.7,11.0L35.7,10.4L36.9,10.3L37.9,11.0 M15.3,21.3L14.5,22.2L14.0,23.3L13.3,24.3L13.2,25.5L13.6,26.6 M26.0,4.0L25.0,3.4L23.8,3.2 M27.9,22.1L27.1,21.2L25.9,21.3L24.9,20.5L23.8,20.7L22.6,20.8 M35.4,28.0L35.0,29.1L34.1,29.9L33.2,30.7L33.2,31.9L32.8,33.0 M1.8,12.9L1.2,11.9L0.5,10.9L-0.4,10.1 M8.8,36.7L9.8,37.3L10.8,38.0L11.7,38.8L11.7,40.0L11.8,41.2 M35.3,21.9L34.2,22.3L33.6,23.4L33.1,24.4L32.8,25.6L33.3,26.7 M10.7,25.1L10.8,26.3L11.3,27.4L12.3,28.1L12.5,29.3 M27.6,17.1L28.6,16.5L29.0,15.3L29.6,14.3L29.3,13.1 M22.0,31.9L23.0,32.6L24.1,33.0L25.0,33.8 M0.6,6.2L0.0,5.1L-0.6,4.1L-1.0,3.0L-1.1,1.8 M33.4,8.9L32.3,8.4L31.2,7.9L30.3,7.1L30.1,5.9 M-2.3,36.9L-3.3,36.1L-4.4,35.7L-5.5,35.3 M18.0,3.5L19.1,3.8L20.1,3.2L21.0,2.3L21.8,1.5 M11.5,4.5L10.7,3.6L9.6,3.0L8.6,2.5L7.4,2.1L6.2,1.8 M38.8,-0.7L39.1,-1.9L39.6,-3.0L40.3,-4.0L40.4,-5.2L40.7,-6.3 M23.8,12.2L22.7,11.8L21.5,12.1L20.4,11.8L19.7,10.8L20.0,9.6 M50.8,-1.8L51.9,-1.5L53.1,-1.2L54.1,-2.0L54.5,-3.1 M10.0,21.0L11.2,21.2L12.1,22.0L13.3,21.9 M20.0,25.0L18.8,25.2L18.2,26.2L17.5,27.1L16.6,27.9L16.6,29.1 M54.4,33.1L53.3,33.5L52.1,33.4L51.2,34.2L50.7,35.3 M27.2,20.3L28.3,19.9L29.2,19.1L30.4,19.1 M35.7,34.0L35.1,32.9L35.5,31.8 M42.1,36.3L43.3,36.3L44.4,36.8 M23.7,16.1L22.5,15.8L21.5,15.1L20.3,15.0L19.5,14.2 M18.8,39.3L17.6,39.5L16.4,39.5L15.2,39.2L14.1,38.9L13.0,39.4 M32.9,39.4L33.2,40.6L34.3,41.2L34.9,42.2 M50.2,17.6L51.4,17.9L52.1,18.9 M15.6,42.9L16.8,42.6L17.7,41.9L18.9,41.8 M40.8,25.2L41.1,24.1L41.5,22.9L40.8,21.9 M34.1,29.0L33.1,28.3L32.4,27.4L31.3,26.8L30.7,25.7 M46.9,30.9L45.9,31.6L45.0,32.4L44.4,33.4L43.3,34.0 M26.1,32.7L26.4,33.8L27.4,34.6L28.6,34.7 M44.5,16.7L43.6,15.9L43.1,14.8L42.9,13.6L42.1,12.7 M2.7,29.3L3.8,28.7L4.5,27.7L5.6,27.2L6.4,26.4L7.5,25.8 M0.6,33.2L1.8,33.0L2.5,32.0L3.5,31.3L3.6,30.1L2.8,29.2 M23.9,22.9L23.6,24.0L24.2,25.1L24.4,26.3 M49.3,21.5L48.2,22.0L47.3,22.7L46.1,22.7L44.9,22.5 M13.9,7.7L13.2,6.7L12.6,5.7L11.5,5.2 M32.2,27.5L31.6,26.4L31.3,25.3L31.9,24.2 M24.9,9.9L25.6,8.9L26.8,8.5 M39.3,36.8L40.1,35.9L40.9,35.0L41.4,33.9L41.3,32.7 M8.5,29.9L8.8,31.1L9.8,31.6L11.0,31.5L12.1,32.0L13.3,32.0 M11.0,34.2L12.2,34.2L13.3,33.8L14.3,33.1 M15.4,-1.8L16.1,-0.8L17.2,-0.3L18.1,0.5L18.1,1.7L18.3,2.9 M53.4,17.3L52.5,18.1L51.3,18.3L50.3,18.9L49.2,19.3L48.5,20.3 M29.3,4.4L28.9,3.3L28.6,2.2L28.4,1.0 M26.4,27.9L27.1,28.9L26.9,30.1L26.8,31.3L26.0,32.2 M48.9,27.9L49.2,26.8L50.2,26.1L50.9,25.1L51.5,24.1L52.6,23.6 M32.1,-3.1L31.7,-2.0L31.7,-0.8L31.6,0.4L31.6,1.6 M22.6,35.8L22.1,34.8L22.2,33.6L23.1,32.7L24.3,32.7" fill="none" stroke="#6e0606" stroke-width="1.0" stroke-linecap="round" filter="url(#b03)"/><path d="M54.8,3.1L53.6,2.9L52.5,3.5L51.6,4.2L50.4,4.6 M29.7,38.8L29.5,37.6L28.8,36.6L28.4,35.5 M47.6,34.4L48.0,35.5L49.1,36.0 M-1.0,41.2L0.0,40.6L0.9,39.7L2.1,39.7L3.0,40.4 M38.9,10.8L37.7,10.8L36.5,10.8L35.4,10.5L34.3,11.1 M18.0,10.5L16.9,10.1L15.7,10.4 M27.6,14.1L28.4,13.3L29.6,13.4L30.6,12.7 M29.9,29.2L30.2,28.1L31.1,27.2 M-0.5,7.3L0.3,6.4L0.9,5.4L2.0,5.0 M51.5,27.8L50.4,28.2L49.4,28.8 M33.4,3.3L32.4,2.6L31.5,1.9 M2.1,18.9L2.3,20.1L2.5,21.2L3.1,22.3L4.3,22.5 M3.7,33.1L4.8,32.6L5.3,31.6L6.2,30.7 M24.4,36.8L23.3,37.2L22.2,36.7 M27.7,0.9L26.8,1.7L26.0,2.6 M44.1,33.9L44.0,35.1L43.4,36.1 M19.2,22.2L19.6,21.0L20.0,19.9L19.4,18.8 M28.4,15.4L28.2,14.2L28.8,13.2L29.7,12.5 M48.1,9.8L48.8,10.7L50.0,11.0L51.1,10.7L51.7,9.7 M19.8,38.6L18.6,38.8L17.6,38.1L16.5,37.6 M26.0,38.9L25.2,38.0L24.9,36.8 M15.7,-1.0L14.8,-0.2L13.9,0.6L12.9,1.2 M46.2,12.6L47.1,11.9L47.7,10.8L47.9,9.6 M24.0,20.4L24.9,19.6L25.3,18.4L25.7,17.3L26.8,16.8 M51.1,21.7L50.3,22.7L49.1,23.0L48.0,22.6L46.8,22.8 M18.3,-3.7L19.2,-2.8L20.4,-2.8 M13.5,38.3L14.1,39.3L14.1,40.5 M9.5,12.4L8.4,12.8L7.3,12.2 M36.1,30.0L36.3,28.9L37.2,28.0 M32.9,19.8L33.9,20.5L35.1,20.6L36.3,20.8 M22.7,31.0L22.2,32.1L21.1,32.6L20.0,33.0 M26.5,25.5L25.3,25.3L24.2,25.0 M21.9,36.3L22.9,35.7L24.1,35.9 M-1.6,26.2L-2.6,26.9L-3.8,26.7L-4.9,26.5 M2.9,41.4L2.1,42.3L0.9,42.3L0.1,43.2L-1.0,43.7 M40.5,5.9L40.7,7.0L41.7,7.7 M43.0,38.4L41.8,38.3L40.7,37.8L40.2,36.7L40.5,35.5 M10.7,1.8L11.7,1.2L12.9,1.0L14.0,1.3L14.8,2.2 M44.9,31.5L44.1,32.5L43.8,33.6L42.7,34.2L41.6,34.4 M-2.4,-3.5L-2.0,-2.3L-1.0,-1.7 M5.9,11.2L5.3,10.1L4.9,9.0 M11.4,22.9L11.1,21.7L10.6,20.6L10.1,19.5L9.2,18.7 M54.3,16.3L55.4,16.9L56.3,17.6 M10.7,29.8L11.9,29.7L12.7,28.9L12.9,27.7 M1.5,14.2L2.5,15.0L3.2,15.9 M13.4,19.0L14.0,18.0L14.6,16.9 M49.5,24.6L49.8,25.8L49.6,27.0L48.8,27.9 M0.3,18.7L1.5,19.0L2.0,20.1 M3.1,-2.5L2.0,-3.1L1.4,-4.1 M33.9,11.8L33.8,13.0L33.1,14.0L32.3,14.8 M8.1,18.3L9.3,18.3L10.3,19.0L11.1,19.9L12.3,19.9 M31.2,24.4L31.2,25.6L31.2,26.7 M12.9,28.8L13.9,29.5L14.7,30.4 M7.8,42.3L6.7,41.9L5.6,41.4 M29.9,10.7L28.9,10.0L27.9,9.4L26.7,9.1L25.7,8.5 M6.9,37.6L6.9,36.4L6.9,35.2L7.1,34.0 M53.0,39.8L51.8,39.5L50.6,39.5 M3.5,30.0L2.8,29.0L2.2,28.0L1.5,27.0 M19.4,15.1L20.0,16.1L19.6,17.3 M15.6,14.4L16.1,13.4L15.8,12.3L16.0,11.1L16.9,10.3 M34.9,-0.5L36.1,-0.3L37.0,0.4 M13.1,25.0L11.9,25.3L11.0,26.0L9.9,26.5L8.8,26.9 M21.0,20.5L20.9,21.7L20.9,22.8L21.7,23.7L22.0,24.9 M8.9,7.8L9.9,8.4L10.9,9.0L11.9,9.7L12.1,10.9 M42.6,24.2L43.4,25.1L44.1,26.1L44.9,26.9 M34.2,25.4L35.3,24.9L35.7,23.8L35.1,22.7 M39.1,13.4L40.0,14.1L40.6,15.2L41.4,16.0 M17.0,8.1L15.9,8.6L14.9,9.1L13.7,8.8L12.9,7.9 M41.5,-3.3L42.6,-3.7L43.5,-4.5L44.0,-5.6L45.2,-5.9 M13.4,34.9L13.2,36.1L12.6,37.2L12.5,38.4L11.6,39.2 M41.3,19.1L42.4,19.4L43.5,19.9L44.7,19.5 M-2.7,2.2L-3.5,1.4L-4.6,0.8L-4.9,-0.4 M49.6,4.1L50.7,4.4L51.9,4.7L53.0,4.1 M38.4,41.3L37.8,42.3L36.8,43.0L36.6,44.2 M51.2,23.6L52.1,24.5L51.9,25.7L52.8,26.5L53.5,27.5 M-1.4,13.9L-1.7,15.1L-1.1,16.1L-0.2,17.0L0.9,17.3 M21.9,1.7L21.9,0.5L22.4,-0.6L23.5,-0.9 M16.0,1.6L16.1,0.4L16.3,-0.8L15.7,-1.8 M3.0,4.8L1.8,4.8L1.0,3.9L-0.2,3.5L-0.8,2.5 M49.1,19.3L49.4,18.1L49.4,16.9 M26.3,9.2L26.9,8.1L27.0,7.0 M33.5,0.6L33.2,1.7L32.9,2.9 M27.5,4.1L28.7,4.0L29.9,3.9L30.8,3.1 M54.6,0.1L53.4,0.1L52.4,-0.5 M50.2,9.6L49.9,8.5L50.5,7.4L50.8,6.3 M-1.6,31.7L-2.2,32.7L-2.5,33.8L-1.9,34.9 M4.2,22.5L4.9,23.5L5.3,24.6 M39.1,32.4L39.6,31.3L40.3,30.3L40.1,29.1L39.1,28.4 M-1.2,33.1L-0.2,33.7L0.8,34.3L1.1,35.5L1.7,36.5 M30.3,36.2L29.1,36.1L28.0,36.5L27.5,37.6L26.8,38.6 M48.4,42.6L48.2,41.4L48.8,40.3 M46.7,0.9L47.8,0.4L48.2,-0.8L47.6,-1.8L46.8,-2.7 M27.2,30.4L26.5,31.4L25.9,32.5L24.9,33.2L23.8,33.0" fill="none" stroke="#f07a7a" stroke-width="0.7" stroke-linecap="round" filter="url(#b03)"/></g></g><path d="M631,240 C630.5,226 638,219 648,216.5 C652,215.8 656,215.7 660,215.7 L676,215.7 Q678,215.7 678,218 L678,253.4 L648,253.4 C640,252 631.5,248 631,240 Z" fill="#c8c8c8"/><clipPath id="c6"><path d="M631,240 C630.5,226 638,219 648,216.5 C652,215.8 656,215.7 660,215.7 L676,215.7 Q678,215.7 678,218 L678,253.4 L648,253.4 C640,252 631.5,248 631,240 Z"/></clipPath><g clip-path="url(#c6)"><g filter="url(#b03)" transform="translate(630.0,215.0)"><path d="M30.4,13.6L31.5,12.9L31.9,11.7L31.7,10.4L31.1,9.2L30.0,8.7 M19.0,10.1L19.1,11.4L19.4,12.7L20.3,13.6L21.4,14.3L21.9,15.5 M50.5,6.8L51.6,7.5L52.8,7.9L53.4,9.1L53.7,10.4L53.8,11.6L53.6,12.9 M9.1,28.1L9.7,29.3L10.6,30.2L11.8,30.6 M17.0,15.3L16.7,16.6L15.6,17.4L14.7,18.3L14.1,19.4L14.0,20.7 M14.2,38.0L13.0,37.6L11.7,37.7L10.8,36.8L9.8,36.0L8.5,35.9L7.5,36.6 M46.7,13.6L46.1,12.5L45.4,11.4L45.6,10.1L45.9,8.9 M52.8,35.4L54.0,35.8L55.2,36.3L56.5,36.4L57.7,36.8L59.0,36.3L60.1,35.8 M34.9,2.4L35.8,1.5L36.1,0.2L37.2,-0.5L38.5,-0.6 M12.4,33.9L11.8,32.7L11.3,31.5L11.3,30.2 M6.9,9.4L5.7,10.0L4.4,9.7L3.5,8.9 M26.7,30.0L26.9,28.7L27.0,27.4L26.3,26.3L26.1,25.0L26.5,23.8L26.1,22.5L25.6,21.3 M35.5,38.1L35.9,36.8L36.4,35.6L37.3,34.7L37.6,33.4 M41.0,16.1L40.2,15.0L39.0,14.6L37.7,14.7L36.5,15.1 M28.7,4.3L28.7,5.6L29.2,6.8L28.9,8.0 M52.0,36.8L52.7,37.9L53.8,38.4L54.4,39.6L54.8,40.9L55.2,42.1 M1.6,21.6L2.2,22.7L2.9,23.8L3.7,24.8 M22.6,0.5L23.8,0.2L25.0,-0.4L26.3,-0.4 M40.5,24.1L39.5,24.9L38.9,26.1L37.7,26.6L36.5,27.2 M2.1,26.6L3.0,27.5L2.9,28.8L2.1,29.8L0.8,30.2L-0.0,31.2L-0.9,32.1L-1.2,33.4 M27.4,-3.6L26.8,-2.4L25.8,-1.6L24.9,-0.7L24.0,0.3L22.7,0.5L21.7,-0.3L20.7,-1.2 M8.2,17.2L7.7,18.4L7.1,19.5L6.1,20.3L5.9,21.6L5.5,22.9L5.1,24.1L4.1,24.9 M39.9,2.5L40.9,3.2L41.7,4.3L42.8,4.9 M18.2,8.7L18.0,10.0L18.0,11.3L17.7,12.6L17.5,13.8L16.5,14.6 M33.1,21.0L32.8,22.2L33.0,23.5L33.5,24.7L33.5,26.0 M17.9,19.2L18.9,18.4L19.4,17.2L19.5,15.9L20.4,14.9L21.6,14.7L22.8,15.1L24.1,15.4 M-2.9,1.6L-2.3,0.4L-1.4,-0.5L-1.5,-1.8L-0.9,-3.0L-0.7,-4.3 M22.1,29.2L23.4,29.4L24.6,29.8L25.9,29.7 M43.1,41.1L43.9,42.1L44.7,43.1L44.7,44.4L44.1,45.6L44.3,46.8 M13.3,24.7L14.5,25.0L15.8,24.8L17.1,25.2L18.3,25.6L19.6,25.9L20.7,25.2 M25.0,22.1L26.3,22.0L27.6,22.1L28.8,21.4L29.4,20.3L29.6,19.0 M38.0,8.1L38.3,6.8L38.1,5.5L37.2,4.6L36.7,3.4L37.1,2.1L37.2,0.8 M21.8,30.6L23.0,31.0L23.9,32.0L24.1,33.3L25.1,34.1L25.8,35.2L26.7,36.1 M9.8,35.0L10.2,33.7L11.1,32.8L11.4,31.6L12.3,30.6L13.5,30.3L14.6,29.5 M37.4,25.9L37.6,27.2L38.5,28.1L39.8,28.4L41.1,28.3L42.2,29.0L42.6,30.2 M26.5,27.2L25.4,27.9L24.1,27.7L23.0,28.3L21.7,28.0L20.4,28.3L19.3,27.7L18.0,27.5 M46.6,-1.1L46.7,-2.4L46.8,-3.7L46.6,-5.0L46.6,-6.3 M4.9,41.0L6.2,41.1L7.4,41.7L8.3,42.6L8.9,43.8L9.8,44.8L11.0,45.0L12.2,45.5 M41.1,18.3L41.5,17.0L41.5,15.7L41.3,14.4L40.9,13.2L40.1,12.1L38.9,11.7 M48.9,29.2L48.5,27.9L47.8,26.8L47.2,25.7L45.9,25.4L44.6,25.5L43.3,25.7 M0.1,13.8L-0.9,14.6L-1.9,15.5L-3.2,15.6L-4.4,15.1 M18.6,36.9L17.3,37.1L16.1,36.6L15.1,35.8L14.4,34.6L13.4,33.9 M33.0,9.6L32.4,10.7L32.6,12.0L33.0,13.2L33.1,14.5L33.8,15.6 M1.0,32.9L1.9,33.8L2.5,35.0L2.5,36.3L3.2,37.3L4.1,38.3 M25.8,42.7L24.5,43.1L23.3,42.7L22.0,42.5 M44.5,7.2L45.5,8.0L45.9,9.2L46.0,10.5L45.7,11.8L45.4,13.0 M1.9,40.0L2.9,39.1L3.5,38.0L3.7,36.7L4.1,35.5L4.9,34.5L5.9,33.6 M50.3,18.0L51.6,18.1L52.9,17.9L54.2,17.8L55.2,17.0 M4.8,7.4L4.2,6.2L3.8,5.0L3.2,3.8 M11.7,-1.2L13.0,-1.5L14.2,-1.2L15.2,-0.3L16.3,0.3L17.6,-0.0" fill="none" stroke="#8a8a8a" stroke-width="0.8" stroke-linecap="round" stroke-linejoin="round"/><path d="M46.8,10.4L47.7,9.5L48.4,8.4L48.9,7.2 M8.5,21.5L8.6,20.2L9.3,19.1L9.5,17.8L10.2,16.7L11.3,16.0L12.5,15.4 M25.9,-1.8L26.2,-3.0L26.0,-4.3L25.9,-5.6L24.9,-6.5 M47.4,33.4L46.7,34.6L45.9,35.5L44.8,36.3L44.3,37.5L43.7,38.7L42.5,39.2 M4.0,16.0L2.8,16.4L1.5,16.1L0.3,16.7L-0.5,17.7L-1.8,18.1L-3.0,18.4L-4.3,18.2 M7.7,3.2L8.9,3.7L10.0,4.3L11.0,5.2L12.0,6.1 M9.9,41.4L9.9,42.7L10.2,44.0L9.6,45.1 M20.1,1.4L21.2,2.1L22.5,2.0L23.7,2.5L25.0,2.6L26.3,2.6L27.5,2.1L28.0,0.9 M21.4,12.2L22.6,11.7L23.8,11.3L25.1,10.8 M43.1,2.4L42.0,3.1L41.7,4.3L40.7,5.2L39.4,5.3L38.2,5.8 M43.8,26.4L44.6,27.4L45.9,27.6L47.0,27.0 M33.0,13.5L34.1,12.8L35.4,12.6L36.7,12.7L37.6,13.6L38.9,13.8 M0.0,39.5L1.1,38.9L2.0,37.9L3.2,37.5L4.5,37.1 M13.4,19.3L13.9,20.5L13.7,21.8L13.7,23.1L13.5,24.4L12.8,25.5 M45.4,41.3L44.9,40.2L43.9,39.3L43.5,38.0L42.5,37.2L41.2,37.3 M37.5,30.9L36.2,31.2L34.9,31.0L34.0,30.0L34.0,28.7 M5.7,9.2L7.0,9.5L8.1,8.9L9.4,8.9L10.5,9.6 M50.6,24.2L49.4,23.7L48.1,23.5L47.0,22.8L46.5,21.6L46.4,20.3L45.6,19.3 M11.8,31.3L11.3,32.5L11.0,33.8L11.6,35.0L11.3,36.3L10.3,37.1L9.1,37.6L8.0,38.3 M23.3,41.9L24.1,41.0L24.5,39.7L24.2,38.4L24.7,37.2L25.7,36.4 M20.1,38.7L20.6,37.5L20.5,36.2L20.3,34.9L19.3,34.1 M19.3,23.6L18.1,23.1L16.8,23.0L15.9,22.1L14.9,21.3L13.8,20.5L13.6,19.3 M8.2,15.7L7.5,16.8L6.3,17.3L5.1,17.1 M36.0,31.9L34.9,31.3L33.8,30.5L33.1,29.5L32.1,28.6L30.8,28.6 M1.0,20.9L2.3,21.0L3.4,20.4L4.7,20.0L5.3,18.8 M-2.9,-3.4L-4.1,-3.0L-5.4,-2.9L-6.7,-3.2L-7.9,-3.6 M45.7,17.9L45.2,19.1L44.5,20.1L43.3,20.6L42.1,21.1L40.9,21.6L39.6,21.5 M15.5,7.8L14.5,8.6L13.2,8.9L12.3,9.7L11.1,10.3L9.9,10.8L8.6,11.0L7.8,12.0 M40.7,11.5L39.7,12.3L39.4,13.6L39.7,14.8 M1.2,7.8L0.6,6.7L0.1,5.5L0.5,4.2L-0.0,3.0L-0.1,1.7L-0.2,0.5 M22.4,8.6L23.7,8.9L24.8,9.4L26.0,10.1L26.7,11.1L27.9,11.6L29.1,11.2 M33.4,5.7L34.3,4.8L35.4,4.2L36.0,3.0 M29.6,-0.9L29.2,0.3L28.6,1.5L27.7,2.4L27.0,3.5L27.1,4.8L27.6,6.0L28.8,6.5 M43.3,12.7L42.2,13.4L40.9,13.5L39.6,13.3L38.8,12.3L37.8,11.4L37.0,10.5L36.5,9.2 M17.8,30.1L16.5,30.0L15.3,29.6L14.3,28.8L13.0,28.9 M28.3,19.9L29.5,19.3L30.7,18.8L31.4,17.7L31.8,16.5L32.6,15.5L32.6,14.2 M52.8,1.9L53.9,1.2L55.2,1.3L56.5,1.4L57.7,1.9L58.9,1.7 M36.1,36.7L37.0,37.7L37.5,38.9L37.5,40.2L38.4,41.2L38.8,42.4 M44.1,37.5L42.8,37.4L41.5,37.6L40.5,38.3L39.9,39.5L38.7,40.1L38.0,41.2 M36.4,24.3L36.4,23.0L36.7,21.8L36.9,20.5L36.9,19.2L36.7,17.9L37.0,16.6" fill="none" stroke="#f4f4f4" stroke-width="1.0" stroke-linecap="round" stroke-linejoin="round"/></g></g><clipPath id="c7"><path d="M631.70,237.00 C631.52,233.40 632.51,229.06 634.00,226.00 C635.49,222.94 637.48,221.44 640.00,220.00 C642.52,218.56 644.40,218.36 648.00,218.00 C651.60,217.64 656.04,217.64 660.00,218.00 C663.96,218.36 667.12,218.56 670.00,220.00 C672.88,221.44 674.81,223.30 676.00,226.00 C677.19,228.70 676.96,231.76 676.60,235.00 C676.24,238.24 675.91,241.48 674.00,244.00 C672.09,246.52 669.60,247.56 666.00,249.00 C662.40,250.44 658.32,251.64 654.00,252.00 C649.68,252.36 645.42,252.08 642.00,251.00 C638.58,249.92 636.85,248.52 635.00,246.00 C633.15,243.48 631.88,240.60 631.70,237.00Z"/></clipPath><path d="M631.70,237.00 C631.52,233.40 632.51,229.06 634.00,226.00 C635.49,222.94 637.48,221.44 640.00,220.00 C642.52,218.56 644.40,218.36 648.00,218.00 C651.60,217.64 656.04,217.64 660.00,218.00 C663.96,218.36 667.12,218.56 670.00,220.00 C672.88,221.44 674.81,223.30 676.00,226.00 C677.19,228.70 676.96,231.76 676.60,235.00 C676.24,238.24 675.91,241.48 674.00,244.00 C672.09,246.52 669.60,247.56 666.00,249.00 C662.40,250.44 658.32,251.64 654.00,252.00 C649.68,252.36 645.42,252.08 642.00,251.00 C638.58,249.92 636.85,248.52 635.00,246.00 C633.15,243.48 631.88,240.60 631.70,237.00Z" fill="#c81e1e"/><g clip-path="url(#c7)"><g transform="translate(630.0,215.0)"><path d="M23.3,13.1L23.7,12.0L24.1,10.8L25.0,10.1L25.8,9.3L25.9,8.1 M50.5,27.9L51.5,27.2L52.6,26.6L53.3,25.7L53.1,24.5L53.6,23.4 M6.1,14.7L5.1,15.2L3.9,14.9L3.2,14.0 M43.0,29.5L41.8,29.4L40.8,28.8L39.6,28.5L38.4,28.7L37.2,28.8 M21.2,37.4L22.4,37.8L23.3,38.6L23.9,39.6 M34.7,37.7L35.8,37.2L37.0,36.9L38.1,37.1 M33.3,23.5L32.9,22.4L32.5,21.3L33.0,20.2L33.8,19.3 M24.1,9.2L23.6,8.1L23.5,7.0L22.8,5.9L21.7,5.5L20.8,4.7 M33.5,27.4L33.4,26.2L33.0,25.1L31.9,24.6L30.8,24.3L29.6,24.5 M41.8,36.4L41.0,37.3L40.8,38.5L41.2,39.6L41.9,40.6L42.6,41.5 M17.3,42.5L18.5,42.4L19.4,43.1L20.6,43.1 M4.7,24.4L3.5,24.4L2.4,24.9L1.3,25.3L0.2,24.9L-0.4,23.9 M26.5,41.1L26.6,39.9L26.3,38.8L25.5,37.9L24.6,37.1L23.7,36.4 M27.8,-2.4L27.8,-3.6L28.5,-4.5 M31.0,4.9L30.0,5.5L29.1,6.3L28.9,7.5L29.0,8.7 M47.3,30.9L46.8,32.0L47.0,33.2L47.6,34.2L47.9,35.4L48.7,36.3 M29.5,-1.0L29.2,0.2L28.9,1.4L27.9,2.0L26.7,2.2 M11.3,27.6L12.5,28.0L13.5,27.5L14.4,26.6L15.0,25.6 M12.3,8.6L12.4,9.8L12.3,11.0L11.6,11.9L11.1,13.0L11.0,14.2 M7.2,29.9L7.8,31.0L8.8,31.6L10.0,31.8 M40.4,6.8L41.2,7.7L42.2,8.3L42.8,9.3 M3.9,37.6L4.5,38.6L5.2,39.6L5.9,40.6L7.0,41.2L8.2,41.1 M40.1,-2.8L38.9,-2.5L37.7,-2.5L36.6,-2.9 M43.1,26.9L41.9,26.9L40.9,26.3L39.7,26.4L38.9,27.3 M47.7,7.9L46.6,7.8L45.6,8.5L45.4,9.7 M44.0,15.6L43.6,14.5L42.8,13.6L41.7,13.2L41.3,12.1 M52.3,29.5L52.7,30.7L53.8,31.2L54.7,32.0 M9.8,35.0L8.7,35.5L7.6,35.9L6.6,36.6L5.4,36.8 M21.8,-1.9L21.9,-3.1L22.9,-3.8L23.0,-5.0 M33.6,-3.2L32.4,-3.3L31.5,-4.0L31.0,-5.1 M12.3,32.1L12.5,30.9L13.3,30.0L13.3,28.8 M12.2,36.2L11.1,36.0L10.0,36.6 M46.2,27.6L45.0,27.7L43.8,27.4L42.6,27.4 M48.3,15.7L49.4,16.1L49.9,17.2L50.5,18.3L51.3,19.2L51.6,20.4 M4.1,27.1L3.8,25.9L4.3,24.8L4.4,23.6 M36.9,11.2L36.4,12.2L36.6,13.4L37.6,14.1L37.8,15.3L38.5,16.2 M14.6,21.4L14.6,20.2L14.0,19.1L14.4,18.0L15.3,17.2 M50.9,7.4L51.7,6.5L52.7,5.9L53.9,6.0L55.1,6.4L55.8,7.3 M18.8,21.0L18.5,19.8L19.3,18.8L19.2,17.7 M50.4,16.8L51.5,17.1L52.0,18.2 M28.3,42.5L29.2,43.3L29.7,44.4L29.2,45.5L29.0,46.7L28.7,47.9 M34.0,2.7L33.6,1.6L33.5,0.4L33.0,-0.7L32.9,-1.9L32.0,-2.6 M26.4,22.0L25.2,21.9L24.0,22.2L23.0,22.8 M3.7,20.8L2.6,20.3L1.7,19.5L0.6,19.0L-0.6,19.1L-1.8,19.1 M-1.0,4.0L0.2,4.0L1.2,3.3L2.4,3.3 M-2.4,21.6L-3.6,21.2L-4.8,21.3L-5.9,20.9L-7.0,20.4 M47.0,33.4L48.0,32.6L48.2,31.4L47.8,30.3L46.8,29.7L46.6,28.5 M36.2,18.0L35.2,18.6L34.7,19.7L34.3,20.9L34.5,22.0L33.7,23.0 M41.9,39.6L41.9,40.8L40.9,41.6L39.7,41.8 M-2.9,34.0L-4.0,33.5L-5.2,33.7L-6.2,33.1L-7.3,32.6 M8.6,14.9L7.5,15.3L6.3,15.5L5.1,15.5L4.1,16.2L3.0,16.4 M26.4,37.9L26.2,39.1L25.3,39.9L24.1,39.8L22.9,39.7L21.7,40.0 M52.1,37.4L52.2,36.2L52.5,35.1L53.5,34.4L54.3,33.5 M28.9,37.0L29.4,35.9L30.4,35.1L31.5,34.6 M4.6,2.8L4.3,1.6L3.3,1.0L2.1,0.7L1.1,1.3L0.6,2.4 M21.4,32.6L22.6,32.8L23.8,32.5L24.7,31.8 M20.2,2.9L19.1,2.3L18.7,1.2L17.7,0.5 M50.0,33.2L48.8,33.3L48.1,34.2L47.7,35.4L48.3,36.4 M17.5,42.5L17.2,43.6L16.2,44.3L15.0,44.4L14.3,45.3 M4.7,39.4L5.4,40.4L6.4,41.0L7.5,41.4 M5.5,8.5L6.6,8.0L7.7,7.8 M26.5,15.6L26.1,14.5L25.1,13.8L23.9,14.0L22.8,14.3L21.8,15.1 M-0.4,23.8L-1.0,24.8L-1.9,25.6L-2.8,26.4L-3.9,26.8 M2.1,7.3L2.9,8.2L2.9,9.4 M14.5,-3.2L15.2,-2.2L16.4,-1.8L17.6,-1.8 M51.0,21.0L51.7,20.0L52.9,19.7 M-1.7,-3.5L-1.9,-4.6L-3.0,-5.2L-4.1,-5.6L-5.3,-6.0L-5.9,-7.1 M16.0,19.5L16.5,18.5L17.5,17.9L18.7,17.7L19.9,17.6L21.0,18.1 M18.5,36.5L17.6,35.7L17.3,34.6L16.3,34.0L16.0,32.8L15.2,31.9 M25.9,34.0L24.7,34.1L23.5,33.9L22.6,34.8 M-1.8,10.5L-0.9,11.3L0.3,11.7L1.5,11.4L2.7,11.5L3.4,12.4 M23.6,25.0L24.5,25.8L25.6,26.0L26.8,25.8 M14.6,2.3L14.0,1.3L14.2,0.1L15.1,-0.7L15.0,-1.9L15.0,-3.1 M35.3,32.8L36.2,32.0L37.3,31.5L38.5,31.5L39.3,30.7L39.3,29.5 M7.1,4.9L8.3,4.9L9.2,5.6L10.3,6.2 M26.8,29.4L27.9,29.9L29.0,30.3L30.0,30.9L31.2,31.1L32.1,30.3 M9.1,11.4L10.3,11.2L11.0,10.2L11.6,9.2L11.2,8.1L10.7,6.9 M29.6,16.1L28.5,16.6L27.4,17.0L26.5,17.8L25.3,17.8 M-3.4,25.5L-4.6,25.7L-5.8,25.5L-6.8,24.8L-7.5,23.9 M11.1,16.1L12.2,16.0L13.4,16.2L14.1,17.2 M36.6,25.5L36.7,26.6L37.1,27.8 M2.9,28.8L2.4,27.7L2.5,26.5 M51.3,42.8L52.4,42.5L53.5,41.9L54.6,42.1 M9.0,37.9L7.8,37.9L6.6,37.9L5.8,37.0L5.3,36.0L5.1,34.8 M47.9,41.5L47.8,42.7L47.5,43.9L46.8,44.8 M23.1,29.8L22.3,28.9L22.3,27.7 M20.4,12.9L21.3,12.2L22.0,11.3L23.1,10.7 M4.8,-1.9L4.3,-0.8L3.9,0.3L3.6,1.5 M1.6,25.0L1.8,23.8L1.1,22.8 M33.8,19.7L32.6,19.9L31.4,20.2L30.3,20.7L29.5,21.5L28.7,22.5 M27.6,5.2L26.7,4.5L26.5,3.3 M12.4,0.8L12.9,-0.3L13.7,-1.2L14.9,-1.1 M11.6,21.9L11.0,20.9L10.7,19.7L11.3,18.7L10.9,17.5L10.1,16.6 M7.1,23.7L8.1,23.0L8.9,22.1L9.2,20.9L9.1,19.7 M4.7,6.5L4.9,5.3L5.2,4.1L5.6,3.0L5.5,1.8 M18.6,5.5L17.4,5.3L16.6,6.1L15.6,6.9L14.7,7.7 M20.4,21.7L19.2,21.8L18.3,22.7L17.1,22.9L16.2,22.3L15.2,21.5 M51.9,3.6L51.3,2.6L50.3,1.8 M31.1,12.4L30.6,11.3L29.5,10.9L29.0,9.8L28.8,8.6 M6.9,42.9L6.0,43.7L5.4,44.7L4.6,45.6 M13.7,-0.6L12.9,0.3L12.7,1.5L13.1,2.6L12.6,3.7L12.8,4.9 M42.1,34.8L42.3,36.0L42.9,37.1L43.6,38.0 M15.9,4.6L15.2,3.6L14.0,3.3 M42.8,41.9L42.9,40.7L43.3,39.6L44.1,38.7L45.0,37.9 M-3.4,7.8L-3.3,6.6L-2.4,5.8L-1.7,4.9L-1.3,3.7 M-0.3,-2.2L0.8,-2.5L1.3,-3.6L1.2,-4.8L0.9,-5.9 M23.3,24.4L23.0,23.2L23.1,22.0L24.0,21.2L24.9,20.5 M49.4,4.3L50.3,3.5L51.5,3.4L52.7,3.5L53.8,3.0L55.0,2.7 M30.2,32.9L30.2,31.7L30.2,30.5L30.7,29.4L31.4,28.4L32.6,28.3 M39.9,23.8L38.9,23.2L37.8,22.6L37.0,21.7L35.9,21.2 M11.8,41.9L11.1,40.9L10.6,39.8 M26.8,12.1L27.9,11.5L29.1,11.4 M34.7,29.3L35.0,28.1L35.6,27.0L36.2,26.0L36.2,24.8 M27.9,28.4L29.1,28.6L30.3,28.3L31.2,27.6L32.2,27.0 M46.2,11.1L45.4,12.0L44.9,13.0L45.0,14.2L44.7,15.4 M21.7,42.2L22.9,42.0L24.1,41.7L25.3,41.8 M-0.9,42.5L-1.9,41.9L-3.0,41.4L-4.1,40.9L-5.2,40.4 M20.1,31.7L20.7,32.8L21.2,33.8L21.3,35.0L21.0,36.2 M13.7,33.8L13.6,32.6L14.1,31.5L13.8,30.3L13.6,29.2L13.9,28.0 M40.4,9.5L39.4,8.9L39.2,7.7 M15.0,38.7L14.9,39.9L15.8,40.7L16.9,40.7 M14.7,15.5L15.4,14.5L16.0,13.4L16.0,12.2L16.8,11.3L18.0,11.3 M48.2,18.1L48.4,17.0L48.6,15.8L49.5,14.9L50.1,13.9 M43.5,-0.9L44.7,-1.0L45.5,-1.9L46.6,-2.2 M41.5,30.3L40.6,29.4L39.6,28.8L39.3,27.7L38.4,26.9 M-1.6,14.4L-0.5,14.1L0.6,13.6 M35.6,37.1L36.5,37.9L37.3,38.8 M34.1,10.6L34.5,11.7L35.2,12.7L35.6,13.8L36.3,14.7L36.8,15.9 M8.5,26.0L9.7,26.2L10.6,25.5 M11.5,4.3L10.8,3.3L10.7,2.1L10.0,1.1 M30.7,23.7L31.4,24.7L32.3,25.5L33.5,25.4 M47.2,21.4L46.0,21.3L44.8,21.3L43.8,20.7L42.9,19.9 M22.9,6.1L23.8,5.3L25.0,5.4L26.2,5.5L27.4,5.6 M36.0,-2.0L36.8,-2.9L38.0,-2.9L39.0,-3.5L40.2,-3.5L41.2,-2.9 M18.4,7.1L18.3,8.3L18.0,9.4L16.9,9.9L15.9,10.7 M17.1,33.7L17.9,32.7L19.0,32.3L20.2,32.3 M43.9,3.6L44.0,2.4L44.3,1.2L45.0,0.2L45.7,-0.7L46.9,-0.9 M29.6,27.7L29.6,26.5L28.8,25.7 M29.6,31.6L29.7,32.8L29.3,34.0L28.3,34.6 M2.2,35.5L1.5,34.6L1.1,33.5L0.4,32.5 M3.1,15.6L2.6,14.5L3.1,13.3L4.2,12.9L4.5,11.7 M18.5,15.8L17.4,16.1L16.3,16.6L15.1,16.2 M18.0,-3.7L17.0,-4.4L16.5,-5.5L15.5,-6.0 M3.9,31.0L4.8,31.9L5.2,33.0L5.5,34.2 M24.1,16.2L24.3,17.4L25.3,18.1 M20.1,33.5L21.2,34.0L22.2,34.7L23.4,34.8L24.5,35.3 M-0.4,-0.3L-1.3,-1.2L-2.1,-2.0L-2.9,-2.9L-4.1,-3.2 M32.4,15.8L32.2,14.6L31.9,13.4L32.5,12.4 M50.0,1.1L50.9,1.9L52.1,2.3L52.5,3.4 M0.4,41.4L1.6,41.2L2.8,41.1L3.9,40.7 M40.4,12.0L40.7,13.1L40.9,14.3L41.4,15.4L41.9,16.5 M16.8,31.2L17.3,32.3L17.7,33.5 M15.7,25.2L16.1,26.3L16.4,27.5L16.4,28.7L15.6,29.6L14.7,30.5 M21.9,20.3L21.2,19.3L20.4,18.4L19.2,18.4 M-1.1,1.2L0.1,1.0L1.1,1.6L1.9,2.5L2.9,3.1 M44.5,18.3L43.4,18.8L42.3,19.4L41.1,19.6L40.3,20.5 M5.0,33.0L6.1,32.6L7.2,31.9L7.6,30.8 M43.9,34.5L43.3,33.4L43.6,32.2L43.4,31.0L42.6,30.1 M13.7,18.7L14.9,19.0L16.0,19.3L17.0,20.0L17.1,21.2 M48.5,3.0L48.8,4.2L49.7,5.0L50.7,5.7L51.9,5.7L53.0,5.5 M37.8,28.9L36.7,29.5L35.6,29.0L34.4,29.1 M10.8,12.5L11.9,12.2L13.1,12.0L14.3,11.9L15.5,11.5L16.6,11.1 M7.3,19.2L8.0,18.2L8.9,17.4L10.1,17.3L11.1,16.7L12.3,16.6 M43.3,13.4L42.1,13.5L41.3,14.4L40.2,14.8L39.1,14.3 M14.9,11.1L14.6,12.3L14.5,13.5L13.5,14.2L12.7,15.1L11.5,15.2 M-0.7,31.2L0.4,31.6L1.5,32.1L2.7,31.8L3.8,32.1L5.0,31.8 M45.0,21.9L45.8,21.0L46.7,20.2L47.3,19.1L48.4,18.9L49.5,19.4 M23.0,2.8L22.5,3.9L22.1,5.1L21.5,6.1 M25.5,19.8L26.4,20.7L27.3,21.4L28.3,22.1L28.7,23.2 M1.4,11.4L1.3,12.6L1.0,13.7L1.1,14.9L1.4,16.1L2.3,16.9 M28.6,0.5L27.7,1.4L27.7,2.6L27.5,3.8 M8.8,-3.9L10.0,-3.8L11.0,-3.0L11.6,-2.0L12.4,-1.1 M4.8,11.5L4.2,12.6L4.2,13.8L4.7,14.9 M47.8,-2.7L48.9,-2.3L50.1,-2.4 M51.0,12.0L52.0,11.3L53.2,11.5L54.4,11.5L55.3,12.3 M29.0,19.9L27.9,19.4L26.8,18.8L26.2,17.8 M26.9,0.3L26.7,1.4L26.4,2.6L26.2,3.8L25.4,4.7L24.3,5.1 M45.2,38.2L45.1,37.0L44.2,36.3L43.2,35.6L42.3,34.9 M38.8,2.6L38.0,3.5L36.8,3.8 M38.1,39.4L37.0,40.0L36.2,40.9L35.4,41.8 M45.9,37.1L44.7,37.0L43.5,37.1L42.3,37.2 M36.7,17.2L35.8,17.9L34.6,18.0L33.9,19.0 M8.4,7.9L9.6,8.2L10.7,7.8L11.9,7.6L13.1,7.4L14.2,6.8 M41.0,20.0L40.9,21.2L41.7,22.1L41.7,23.3L41.4,24.4L41.1,25.6 M38.9,28.5L38.9,27.3L38.9,26.1L39.0,24.9 M-3.6,17.9L-2.7,18.8L-1.5,18.9L-0.4,19.4L0.3,20.3L1.5,20.5 M-3.4,37.7L-2.9,36.6L-2.0,35.9L-1.8,34.7 M2.2,4.6L3.4,4.7L4.5,4.1L5.6,4.5 M19.8,28.2L20.9,28.7L22.1,28.8L22.9,29.7L23.5,30.7 M40.0,14.3L40.2,13.1L39.7,12.1L39.7,10.9L39.0,9.9 M45.6,1.6L46.8,1.5L47.9,1.1L48.9,1.7 M38.6,10.3L38.6,11.5L38.3,12.7L37.3,13.4L36.8,14.4L37.3,15.6 M0.3,20.1L1.5,20.2L2.6,19.6L2.9,18.5L3.5,17.5L3.8,16.3 M7.0,2.3L7.7,1.4L8.9,1.3L9.8,2.2 M30.3,8.6L31.0,7.7L31.5,6.6L32.6,6.2" fill="none" stroke="#6e0606" stroke-width="1.0" stroke-linecap="round" filter="url(#b03)"/><path d="M4.7,31.1L5.8,30.7L6.6,29.8L7.6,29.2L8.8,29.0 M48.6,9.1L48.7,7.9L49.2,6.8 M28.8,8.6L29.4,7.6L29.8,6.5 M-2.1,36.6L-1.2,35.8L-0.1,35.3L0.7,34.4L0.9,33.2 M2.6,3.1L3.3,2.2L3.4,1.0L4.1,0.0 M20.4,20.6L19.9,21.7L18.8,22.1L17.8,22.7 M42.9,2.9L43.5,4.0L43.6,5.2L44.1,6.2L44.7,7.3 M31.6,36.8L31.5,38.0L32.0,39.1L33.1,39.6 M47.4,0.7L48.4,0.0L49.0,-1.0L48.8,-2.2L49.4,-3.3 M8.0,41.1L8.8,40.2L10.0,40.3 M40.8,2.2L40.4,1.0L40.4,-0.2L39.6,-1.1 M49.8,20.4L51.0,20.2L52.1,19.8L53.3,19.9 M-1.6,-2.9L-0.8,-2.1L0.4,-1.8 M10.6,18.8L9.7,19.6L9.5,20.8L8.7,21.7 M8.7,-0.5L7.6,-0.1L7.2,1.0L7.1,2.2L7.6,3.4 M26.1,33.5L25.4,34.5L24.6,35.4L24.7,36.6L25.1,37.7 M41.8,22.7L41.8,23.9L41.3,25.0L41.0,26.2L41.6,27.2 M5.8,0.5L4.6,0.2L3.6,-0.5 M1.6,22.9L0.5,23.5L0.1,24.6 M-3.6,17.2L-4.8,16.8L-5.7,16.1 M42.1,40.2L41.8,39.0L41.3,38.0 M38.3,15.2L37.7,16.2L38.1,17.4L37.8,18.5L38.4,19.5 M24.9,42.2L24.6,41.0L23.5,40.6 M-1.1,5.7L-1.1,6.9L-0.3,7.9L0.0,9.0L0.7,10.0 M29.6,39.8L30.6,39.1L31.7,38.7 M50.0,28.0L50.5,29.1L51.6,29.5 M14.9,21.8L16.1,22.1L17.0,21.4L17.8,20.4 M-1.1,24.5L-0.3,23.6L-0.1,22.4L0.2,21.2 M4.6,39.9L4.5,41.1L4.5,42.3 M35.9,37.7L34.7,38.0L33.6,37.7 M28.6,5.5L29.7,4.9L30.8,5.2 M4.1,17.3L5.3,17.4L6.3,18.1 M46.3,20.6L46.0,21.8L46.3,22.9 M35.8,29.9L35.9,31.1L36.4,32.2L36.0,33.3L36.5,34.4 M39.5,9.8L39.2,8.6L38.5,7.7 M39.2,-1.9L40.3,-1.5L41.4,-2.0L42.6,-1.9 M51.1,23.7L52.2,23.1L53.3,23.2L54.5,23.6 M38.8,21.2L39.6,22.1L40.1,23.2L40.2,24.4 M23.0,19.0L23.2,17.8L23.9,16.8 M15.0,-1.9L14.5,-0.9L14.8,0.3 M48.4,3.4L48.6,4.6L49.5,5.3 M-2.1,10.3L-2.9,11.3L-3.9,11.8L-5.1,12.2L-6.2,12.5 M23.6,14.6L22.4,14.8L21.4,15.4L20.7,16.4L20.2,17.5 M19.8,4.9L19.1,4.0L18.8,2.8L19.3,1.8 M47.9,-3.4L49.0,-2.9L50.0,-2.1L50.8,-1.2 M47.2,7.2L46.0,7.0L45.4,6.0 M36.4,3.9L36.7,2.8L37.5,1.8 M9.7,2.3L8.7,1.6L7.7,1.1L6.9,0.2L7.0,-1.0 M16.7,23.1L17.0,21.9L17.9,21.2L18.7,20.2 M1.1,39.2L0.6,40.3L-0.5,40.7L-1.7,40.7L-2.9,40.5 M29.5,28.2L29.1,29.4L28.9,30.5 M37.0,17.8L37.1,16.6L37.3,15.4L38.3,14.8L39.5,14.8 M32.1,15.2L30.9,15.3L30.0,14.5L28.9,14.1 M51.1,35.7L50.2,35.0L49.0,34.7L47.9,34.2 M3.7,12.2L4.3,11.2L5.3,10.5L6.4,10.8 M-0.1,15.4L-1.1,14.8L-2.0,14.0L-3.0,13.4 M7.2,31.5L7.3,30.3L6.4,29.5 M20.2,39.4L19.8,38.3L19.0,37.5 M-0.3,31.4L-1.5,31.1L-2.3,30.3L-3.2,29.5L-4.3,28.9 M46.6,40.0L45.7,39.2L44.5,39.4L43.4,39.9L42.2,39.9 M42.5,32.4L42.0,31.3L41.0,30.6L40.5,29.6 M26.5,0.2L25.8,-0.8L26.1,-1.9L26.7,-2.9L27.9,-3.2 M37.5,13.5L36.9,14.6L36.0,15.3L34.8,15.2L33.9,14.4 M23.4,31.8L24.6,32.0L25.8,31.7L26.9,31.3L28.1,31.5 M35.8,22.9L36.5,22.0L37.5,21.2L38.1,20.2 M24.5,3.2L25.1,2.3L26.0,1.4L26.7,0.5L27.7,-0.2 M9.4,9.8L9.5,8.6L9.0,7.5L8.3,6.6 M32.5,38.8L33.6,38.6L34.7,38.0L35.9,37.9 M16.6,5.6L16.6,4.4L16.5,3.2L17.2,2.2L18.0,1.3 M42.4,33.1L43.4,33.8L44.4,34.4 M34.5,9.6L33.4,9.9L32.8,11.0L31.8,11.6 M15.6,26.5L14.9,27.5L13.7,27.7L12.5,27.8L11.4,28.0 M47.1,34.6L48.3,34.6L49.5,34.6L50.5,35.2L51.7,35.6 M12.0,14.2L11.8,13.0L11.4,11.9L10.7,10.9L10.1,9.8 M47.3,12.4L48.5,12.4L49.6,12.8L50.1,13.9 M33.4,-3.7L32.3,-3.1L31.2,-2.6 M20.2,0.4L20.9,-0.6L21.9,-1.3 M19.0,32.9L20.0,33.5L20.5,34.6L21.1,35.6 M12.0,28.3L10.8,28.3L9.6,28.7 M7.2,35.4L8.0,34.5L8.6,33.5L9.7,33.0L10.4,32.0 M28.0,21.0L27.6,19.9L27.1,18.8 M12.5,36.0L12.4,37.2L11.4,37.8 M9.6,16.5L8.4,16.1L7.3,16.4L6.1,16.6 M46.1,23.4L45.7,22.2L45.1,21.2L44.5,20.2 M22.0,22.4L21.8,23.6L20.8,24.2L20.3,25.3L19.1,25.6 M5.0,37.7L6.0,37.1L6.4,36.0L5.9,34.9 M6.4,22.8L6.2,24.0L5.7,25.1L4.5,25.3L3.5,26.0 M47.8,38.7L47.2,37.7L46.1,37.2L45.3,36.3L44.1,36.2 M16.6,10.1L16.0,9.1L15.1,8.3L13.9,8.2" fill="none" stroke="#f07a7a" stroke-width="0.7" stroke-linecap="round" filter="url(#b03)"/></g></g><g transform="translate(27.2,59.5) scale(0.5190)"><use href="#brain"/></g><rect x="39.1" y="64.6" width="20.7" height="19.3" fill="none" stroke="#d84848" stroke-width="0.9" stroke-dasharray="2.2,1.4"/><ellipse cx="39.0" cy="51.7" rx="1.3" ry="0.8" fill="#2c2c7a" transform="rotate(-26 39.0 51.7)"/><ellipse cx="48.7" cy="49.5" rx="1.3" ry="0.8" fill="#2c2c7a" transform="rotate(-8 48.7 49.5)"/><ellipse cx="59.6" cy="48.6" rx="1.3" ry="0.8" fill="#2c2c7a" transform="rotate(12 59.6 48.6)"/><ellipse cx="69.6" cy="53.5" rx="1.3" ry="0.8" fill="#2c2c7a" transform="rotate(32 69.6 53.5)"/><ellipse cx="29.9" cy="55.9" rx="1.3" ry="0.8" fill="#2c2c7a" transform="rotate(-44 29.9 55.9)"/><ellipse cx="39.6" cy="56.4" rx="1.3" ry="0.8" fill="#2c2c7a" transform="rotate(-30 39.6 56.4)"/><ellipse cx="48.1" cy="54.9" rx="1.3" ry="0.8" fill="#2c2c7a" transform="rotate(-11 48.1 54.9)"/><ellipse cx="50.3" cy="56.0" rx="1.3" ry="0.8" fill="#2c2c7a" transform="rotate(-7 50.3 56.0)"/><ellipse cx="59.6" cy="52.8" rx="1.3" ry="0.8" fill="#2c2c7a" transform="rotate(13 59.6 52.8)"/><ellipse cx="68.7" cy="57.1" rx="1.3" ry="0.8" fill="#2c2c7a" transform="rotate(34 68.7 57.1)"/><ellipse cx="30.8" cy="59.5" rx="1.3" ry="0.8" fill="#2c2c7a" transform="rotate(-47 30.8 59.5)"/><ellipse cx="22.6" cy="64.4" rx="1.3" ry="0.8" fill="#2c2c7a" transform="rotate(-63 22.6 64.4)"/><ellipse cx="31.8" cy="65.5" rx="1.3" ry="0.8" fill="#2c2c7a" transform="rotate(-55 31.8 65.5)"/><ellipse cx="41.8" cy="62.6" rx="1.3" ry="0.8" fill="#2c2c7a" transform="rotate(-33 41.8 62.6)"/><ellipse cx="50.0" cy="63.1" rx="1.3" ry="0.8" fill="#2c2c7a" transform="rotate(-11 50.0 63.1)"/><ellipse cx="59.1" cy="62.2" rx="1.3" ry="0.8" fill="#2c2c7a" transform="rotate(18 59.1 62.2)"/><ellipse cx="68.7" cy="64.1" rx="1.3" ry="0.8" fill="#2c2c7a" transform="rotate(44 68.7 64.1)"/><ellipse cx="75.8" cy="62.8" rx="1.3" ry="0.8" fill="#2c2c7a" transform="rotate(52 75.8 62.8)"/><ellipse cx="24.5" cy="70.4" rx="1.3" ry="0.8" fill="#2c2c7a" transform="rotate(-71 24.5 70.4)"/><ellipse cx="20.8" cy="74.1" rx="1.3" ry="0.8" fill="#2c2c7a" transform="rotate(-79 20.8 74.1)"/><ellipse cx="25.9" cy="73.2" rx="1.3" ry="0.8" fill="#2c2c7a" transform="rotate(-75 25.9 73.2)"/><ellipse cx="33.6" cy="73.2" rx="1.3" ry="0.8" fill="#2c2c7a" transform="rotate(-70 33.6 73.2)"/><ellipse cx="41.8" cy="72.2" rx="1.3" ry="0.8" fill="#2c2c7a" transform="rotate(-55 41.8 72.2)"/><ellipse cx="50.5" cy="73.2" rx="1.3" ry="0.8" fill="#2c2c7a" transform="rotate(-20 50.5 73.2)"/><ellipse cx="58.7" cy="72.2" rx="1.3" ry="0.8" fill="#2c2c7a" transform="rotate(35 58.7 72.2)"/><ellipse cx="67.3" cy="71.3" rx="1.3" ry="0.8" fill="#2c2c7a" transform="rotate(58 67.3 71.3)"/><ellipse cx="75.1" cy="68.6" rx="1.3" ry="0.8" fill="#2c2c7a" transform="rotate(62 75.1 68.6)"/><ellipse cx="78.7" cy="72.8" rx="1.3" ry="0.8" fill="#2c2c7a" transform="rotate(74 78.7 72.8)"/><ellipse cx="22.6" cy="77.7" rx="1.3" ry="0.8" fill="#2c2c7a" transform="rotate(-85 22.6 77.7)"/><ellipse cx="28.1" cy="80.4" rx="1.3" ry="0.8" fill="#2c2c7a" transform="rotate(270 28.1 80.4)"/><ellipse cx="34.5" cy="81.9" rx="1.3" ry="0.8" fill="#2c2c7a" transform="rotate(265 34.5 81.9)"/><ellipse cx="42.7" cy="82.3" rx="1.3" ry="0.8" fill="#2c2c7a" transform="rotate(259 42.7 82.3)"/><ellipse cx="50.9" cy="81.9" rx="1.3" ry="0.8" fill="#2c2c7a" transform="rotate(234 50.9 81.9)"/><ellipse cx="59.1" cy="81.4" rx="1.3" ry="0.8" fill="#2c2c7a" transform="rotate(100 59.1 81.4)"/><ellipse cx="66.4" cy="80.4" rx="1.3" ry="0.8" fill="#2c2c7a" transform="rotate(91 66.4 80.4)"/><ellipse cx="72.7" cy="79.5" rx="1.3" ry="0.8" fill="#2c2c7a" transform="rotate(88 72.7 79.5)"/><ellipse cx="77.3" cy="77.7" rx="1.3" ry="0.8" fill="#2c2c7a" transform="rotate(84 77.3 77.7)"/><ellipse cx="34.5" cy="92.3" rx="1.3" ry="0.8" fill="#2c2c7a" transform="rotate(237 34.5 92.3)"/><ellipse cx="43.6" cy="92.8" rx="1.3" ry="0.8" fill="#2c2c7a" transform="rotate(217 43.6 92.8)"/><ellipse cx="50.9" cy="92.3" rx="1.3" ry="0.8" fill="#2c2c7a" transform="rotate(191 50.9 92.3)"/><ellipse cx="58.7" cy="91.7" rx="1.3" ry="0.8" fill="#2c2c7a" transform="rotate(154 58.7 91.7)"/><ellipse cx="65.4" cy="90.5" rx="1.3" ry="0.8" fill="#2c2c7a" transform="rotate(130 65.4 90.5)"/><ellipse cx="72.7" cy="87.7" rx="1.3" ry="0.8" fill="#2c2c7a" transform="rotate(111 72.7 87.7)"/><ellipse cx="78.2" cy="83.2" rx="1.3" ry="0.8" fill="#2c2c7a" transform="rotate(97 78.2 83.2)"/><g transform="translate(109.9,81.9) scale(0.4970)"><use href="#brain"/></g><rect x="119.6" y="86.7" width="20.0" height="18.2" fill="none" stroke="#d84848" stroke-width="0.9" stroke-dasharray="2.2,1.4"/><ellipse cx="121.2" cy="74.4" rx="1.3" ry="0.8" fill="#2c2c7a" transform="rotate(-26 121.2 74.4)"/><ellipse cx="130.5" cy="72.3" rx="1.3" ry="0.8" fill="#2c2c7a" transform="rotate(-8 130.5 72.3)"/><ellipse cx="140.9" cy="71.4" rx="1.3" ry="0.8" fill="#2c2c7a" transform="rotate(12 140.9 71.4)"/><ellipse cx="150.5" cy="76.1" rx="1.3" ry="0.8" fill="#2c2c7a" transform="rotate(32 150.5 76.1)"/><ellipse cx="112.5" cy="78.4" rx="1.3" ry="0.8" fill="#2c2c7a" transform="rotate(-44 112.5 78.4)"/><ellipse cx="121.8" cy="78.9" rx="1.3" ry="0.8" fill="#2c2c7a" transform="rotate(-30 121.8 78.9)"/><ellipse cx="130.0" cy="77.5" rx="1.3" ry="0.8" fill="#2c2c7a" transform="rotate(-11 130.0 77.5)"/><ellipse cx="132.0" cy="78.6" rx="1.3" ry="0.8" fill="#2c2c7a" transform="rotate(-7 132.0 78.6)"/><ellipse cx="140.9" cy="75.4" rx="1.3" ry="0.8" fill="#2c2c7a" transform="rotate(13 140.9 75.4)"/><ellipse cx="149.7" cy="79.6" rx="1.3" ry="0.8" fill="#2c2c7a" transform="rotate(34 149.7 79.6)"/><ellipse cx="113.4" cy="81.9" rx="1.3" ry="0.8" fill="#2c2c7a" transform="rotate(-47 113.4 81.9)"/><ellipse cx="105.5" cy="86.6" rx="1.3" ry="0.8" fill="#2c2c7a" transform="rotate(-63 105.5 86.6)"/><ellipse cx="114.3" cy="87.7" rx="1.3" ry="0.8" fill="#2c2c7a" transform="rotate(-55 114.3 87.7)"/><ellipse cx="123.9" cy="84.9" rx="1.3" ry="0.8" fill="#2c2c7a" transform="rotate(-33 123.9 84.9)"/><ellipse cx="131.7" cy="85.4" rx="1.3" ry="0.8" fill="#2c2c7a" transform="rotate(-11 131.7 85.4)"/><ellipse cx="140.4" cy="84.5" rx="1.3" ry="0.8" fill="#2c2c7a" transform="rotate(18 140.4 84.5)"/><ellipse cx="149.7" cy="86.3" rx="1.3" ry="0.8" fill="#2c2c7a" transform="rotate(44 149.7 86.3)"/><ellipse cx="156.5" cy="85.0" rx="1.3" ry="0.8" fill="#2c2c7a" transform="rotate(52 156.5 85.0)"/><ellipse cx="107.3" cy="92.4" rx="1.3" ry="0.8" fill="#2c2c7a" transform="rotate(-71 107.3 92.4)"/><ellipse cx="103.8" cy="95.9" rx="1.3" ry="0.8" fill="#2c2c7a" transform="rotate(-79 103.8 95.9)"/><ellipse cx="108.7" cy="95.0" rx="1.3" ry="0.8" fill="#2c2c7a" transform="rotate(-75 108.7 95.0)"/><ellipse cx="116.0" cy="95.0" rx="1.3" ry="0.8" fill="#2c2c7a" transform="rotate(-70 116.0 95.0)"/><ellipse cx="123.9" cy="94.1" rx="1.3" ry="0.8" fill="#2c2c7a" transform="rotate(-55 123.9 94.1)"/><ellipse cx="132.2" cy="95.0" rx="1.3" ry="0.8" fill="#2c2c7a" transform="rotate(-20 132.2 95.0)"/><ellipse cx="140.1" cy="94.1" rx="1.3" ry="0.8" fill="#2c2c7a" transform="rotate(35 140.1 94.1)"/><ellipse cx="148.3" cy="93.2" rx="1.3" ry="0.8" fill="#2c2c7a" transform="rotate(58 148.3 93.2)"/><ellipse cx="155.8" cy="90.6" rx="1.3" ry="0.8" fill="#2c2c7a" transform="rotate(62 155.8 90.6)"/><ellipse cx="159.3" cy="94.6" rx="1.3" ry="0.8" fill="#2c2c7a" transform="rotate(74 159.3 94.6)"/><ellipse cx="105.5" cy="99.3" rx="1.3" ry="0.8" fill="#2c2c7a" transform="rotate(-85 105.5 99.3)"/><ellipse cx="110.8" cy="102.0" rx="1.3" ry="0.8" fill="#2c2c7a" transform="rotate(270 110.8 102.0)"/><ellipse cx="116.9" cy="103.3" rx="1.3" ry="0.8" fill="#2c2c7a" transform="rotate(265 116.9 103.3)"/><ellipse cx="124.7" cy="103.7" rx="1.3" ry="0.8" fill="#2c2c7a" transform="rotate(259 124.7 103.7)"/><ellipse cx="132.6" cy="103.3" rx="1.3" ry="0.8" fill="#2c2c7a" transform="rotate(234 132.6 103.3)"/><ellipse cx="140.4" cy="102.8" rx="1.3" ry="0.8" fill="#2c2c7a" transform="rotate(100 140.4 102.8)"/><ellipse cx="147.4" cy="102.0" rx="1.3" ry="0.8" fill="#2c2c7a" transform="rotate(91 147.4 102.0)"/><ellipse cx="153.5" cy="101.1" rx="1.3" ry="0.8" fill="#2c2c7a" transform="rotate(88 153.5 101.1)"/><ellipse cx="157.9" cy="99.3" rx="1.3" ry="0.8" fill="#2c2c7a" transform="rotate(84 157.9 99.3)"/><ellipse cx="116.9" cy="113.3" rx="1.3" ry="0.8" fill="#2c2c7a" transform="rotate(237 116.9 113.3)"/><ellipse cx="125.6" cy="113.8" rx="1.3" ry="0.8" fill="#2c2c7a" transform="rotate(217 125.6 113.8)"/><ellipse cx="132.6" cy="113.3" rx="1.3" ry="0.8" fill="#2c2c7a" transform="rotate(191 132.6 113.3)"/><ellipse cx="140.1" cy="112.8" rx="1.3" ry="0.8" fill="#2c2c7a" transform="rotate(154 140.1 112.8)"/><ellipse cx="146.5" cy="111.5" rx="1.3" ry="0.8" fill="#2c2c7a" transform="rotate(130 146.5 111.5)"/><ellipse cx="153.5" cy="108.9" rx="1.3" ry="0.8" fill="#2c2c7a" transform="rotate(111 153.5 108.9)"/><ellipse cx="158.7" cy="104.6" rx="1.3" ry="0.8" fill="#2c2c7a" transform="rotate(97 158.7 104.6)"/><g transform="translate(209.2,151.5) scale(0.5670)"><use href="#brain"/></g><rect x="221.0" y="158.4" width="21.2" height="21.2" fill="none" stroke="#d84848" stroke-width="0.9" stroke-dasharray="2.2,1.4"/><ellipse cx="222.1" cy="142.9" rx="1.3" ry="0.8" fill="#2c2c7a" transform="rotate(-26 222.1 142.9)"/><ellipse cx="232.7" cy="140.6" rx="1.3" ry="0.8" fill="#2c2c7a" transform="rotate(-8 232.7 140.6)"/><ellipse cx="244.6" cy="139.6" rx="1.3" ry="0.8" fill="#2c2c7a" transform="rotate(12 244.6 139.6)"/><ellipse cx="255.6" cy="144.9" rx="1.3" ry="0.8" fill="#2c2c7a" transform="rotate(32 255.6 144.9)"/><ellipse cx="212.2" cy="147.5" rx="1.3" ry="0.8" fill="#2c2c7a" transform="rotate(-44 212.2 147.5)"/><ellipse cx="222.7" cy="148.1" rx="1.3" ry="0.8" fill="#2c2c7a" transform="rotate(-30 222.7 148.1)"/><ellipse cx="232.1" cy="146.5" rx="1.3" ry="0.8" fill="#2c2c7a" transform="rotate(-11 232.1 146.5)"/><ellipse cx="234.5" cy="147.7" rx="1.3" ry="0.8" fill="#2c2c7a" transform="rotate(-7 234.5 147.7)"/><ellipse cx="244.6" cy="144.1" rx="1.3" ry="0.8" fill="#2c2c7a" transform="rotate(13 244.6 144.1)"/><ellipse cx="254.6" cy="148.9" rx="1.3" ry="0.8" fill="#2c2c7a" transform="rotate(34 254.6 148.9)"/><ellipse cx="213.2" cy="151.5" rx="1.3" ry="0.8" fill="#2c2c7a" transform="rotate(-47 213.2 151.5)"/><ellipse cx="204.2" cy="156.9" rx="1.3" ry="0.8" fill="#2c2c7a" transform="rotate(-63 204.2 156.9)"/><ellipse cx="214.2" cy="158.1" rx="1.3" ry="0.8" fill="#2c2c7a" transform="rotate(-55 214.2 158.1)"/><ellipse cx="225.1" cy="154.9" rx="1.3" ry="0.8" fill="#2c2c7a" transform="rotate(-33 225.1 154.9)"/><ellipse cx="234.1" cy="155.5" rx="1.3" ry="0.8" fill="#2c2c7a" transform="rotate(-11 234.1 155.5)"/><ellipse cx="244.0" cy="154.5" rx="1.3" ry="0.8" fill="#2c2c7a" transform="rotate(18 244.0 154.5)"/><ellipse cx="254.6" cy="156.5" rx="1.3" ry="0.8" fill="#2c2c7a" transform="rotate(44 254.6 156.5)"/><ellipse cx="262.3" cy="155.1" rx="1.3" ry="0.8" fill="#2c2c7a" transform="rotate(52 262.3 155.1)"/><ellipse cx="206.2" cy="163.4" rx="1.3" ry="0.8" fill="#2c2c7a" transform="rotate(-71 206.2 163.4)"/><ellipse cx="202.2" cy="167.4" rx="1.3" ry="0.8" fill="#2c2c7a" transform="rotate(-79 202.2 167.4)"/><ellipse cx="207.8" cy="166.4" rx="1.3" ry="0.8" fill="#2c2c7a" transform="rotate(-75 207.8 166.4)"/><ellipse cx="216.2" cy="166.4" rx="1.3" ry="0.8" fill="#2c2c7a" transform="rotate(-70 216.2 166.4)"/><ellipse cx="225.1" cy="165.4" rx="1.3" ry="0.8" fill="#2c2c7a" transform="rotate(-55 225.1 165.4)"/><ellipse cx="234.7" cy="166.4" rx="1.3" ry="0.8" fill="#2c2c7a" transform="rotate(-20 234.7 166.4)"/><ellipse cx="243.6" cy="165.4" rx="1.3" ry="0.8" fill="#2c2c7a" transform="rotate(35 243.6 165.4)"/><ellipse cx="253.0" cy="164.4" rx="1.3" ry="0.8" fill="#2c2c7a" transform="rotate(58 253.0 164.4)"/><ellipse cx="261.5" cy="161.4" rx="1.3" ry="0.8" fill="#2c2c7a" transform="rotate(62 261.5 161.4)"/><ellipse cx="265.5" cy="166.0" rx="1.3" ry="0.8" fill="#2c2c7a" transform="rotate(74 265.5 166.0)"/><ellipse cx="204.2" cy="171.4" rx="1.3" ry="0.8" fill="#2c2c7a" transform="rotate(-85 204.2 171.4)"/><ellipse cx="210.2" cy="174.4" rx="1.3" ry="0.8" fill="#2c2c7a" transform="rotate(270 210.2 174.4)"/><ellipse cx="217.2" cy="176.0" rx="1.3" ry="0.8" fill="#2c2c7a" transform="rotate(265 217.2 176.0)"/><ellipse cx="226.1" cy="176.4" rx="1.3" ry="0.8" fill="#2c2c7a" transform="rotate(259 226.1 176.4)"/><ellipse cx="235.1" cy="176.0" rx="1.3" ry="0.8" fill="#2c2c7a" transform="rotate(234 235.1 176.0)"/><ellipse cx="244.0" cy="175.4" rx="1.3" ry="0.8" fill="#2c2c7a" transform="rotate(100 244.0 175.4)"/><ellipse cx="252.0" cy="174.4" rx="1.3" ry="0.8" fill="#2c2c7a" transform="rotate(91 252.0 174.4)"/><ellipse cx="258.9" cy="173.4" rx="1.3" ry="0.8" fill="#2c2c7a" transform="rotate(88 258.9 173.4)"/><ellipse cx="263.9" cy="171.4" rx="1.3" ry="0.8" fill="#2c2c7a" transform="rotate(84 263.9 171.4)"/><ellipse cx="217.2" cy="187.3" rx="1.3" ry="0.8" fill="#2c2c7a" transform="rotate(237 217.2 187.3)"/><ellipse cx="227.1" cy="187.9" rx="1.3" ry="0.8" fill="#2c2c7a" transform="rotate(217 227.1 187.9)"/><ellipse cx="235.1" cy="187.3" rx="1.3" ry="0.8" fill="#2c2c7a" transform="rotate(191 235.1 187.3)"/><ellipse cx="243.6" cy="186.7" rx="1.3" ry="0.8" fill="#2c2c7a" transform="rotate(154 243.6 186.7)"/><ellipse cx="251.0" cy="185.3" rx="1.3" ry="0.8" fill="#2c2c7a" transform="rotate(130 251.0 185.3)"/><ellipse cx="258.9" cy="182.3" rx="1.3" ry="0.8" fill="#2c2c7a" transform="rotate(111 258.9 182.3)"/><ellipse cx="264.9" cy="177.4" rx="1.3" ry="0.8" fill="#2c2c7a" transform="rotate(97 264.9 177.4)"/><g transform="translate(341.1,149.0) scale(0.4990)"><use href="#brain"/></g><path d="M363.59,162.00 C363.79,162.28 363.63,162.89 363.43,163.21 C363.23,163.54 362.69,163.95 362.25,164.18 C361.82,164.42 361.02,164.79 360.50,164.78 C359.98,164.76 359.31,164.31 358.81,164.10 C358.32,163.89 357.19,163.69 357.20,163.37 C357.20,163.06 358.69,162.35 358.83,162.00 C358.97,161.65 358.19,161.38 358.15,161.02 C358.11,160.66 358.21,159.79 358.57,159.59 C358.92,159.40 359.93,159.72 360.50,159.73 C361.07,159.74 362.14,159.42 362.38,159.66 C362.62,159.90 361.94,160.98 362.12,161.33 C362.30,161.68 363.40,161.72 363.59,162.00Z" fill="#d42020"/><rect x="350.1" y="154.0" width="20.7" height="19.9" fill="none" stroke="#d84848" stroke-width="0.9" stroke-dasharray="2.2,1.4"/><ellipse cx="352.5" cy="141.5" rx="1.3" ry="0.8" fill="#2c2c7a" transform="rotate(-26 352.5 141.5)"/><ellipse cx="361.8" cy="139.4" rx="1.3" ry="0.8" fill="#2c2c7a" transform="rotate(-8 361.8 139.4)"/><ellipse cx="372.3" cy="138.5" rx="1.3" ry="0.8" fill="#2c2c7a" transform="rotate(12 372.3 138.5)"/><ellipse cx="381.9" cy="143.2" rx="1.3" ry="0.8" fill="#2c2c7a" transform="rotate(32 381.9 143.2)"/><ellipse cx="343.7" cy="145.5" rx="1.3" ry="0.8" fill="#2c2c7a" transform="rotate(-44 343.7 145.5)"/><ellipse cx="353.0" cy="146.0" rx="1.3" ry="0.8" fill="#2c2c7a" transform="rotate(-30 353.0 146.0)"/><ellipse cx="361.2" cy="144.6" rx="1.3" ry="0.8" fill="#2c2c7a" transform="rotate(-11 361.2 144.6)"/><ellipse cx="363.3" cy="145.7" rx="1.3" ry="0.8" fill="#2c2c7a" transform="rotate(-7 363.3 145.7)"/><ellipse cx="372.3" cy="142.5" rx="1.3" ry="0.8" fill="#2c2c7a" transform="rotate(13 372.3 142.5)"/><ellipse cx="381.0" cy="146.7" rx="1.3" ry="0.8" fill="#2c2c7a" transform="rotate(34 381.0 146.7)"/><ellipse cx="344.6" cy="149.0" rx="1.3" ry="0.8" fill="#2c2c7a" transform="rotate(-47 344.6 149.0)"/><ellipse cx="336.7" cy="153.7" rx="1.3" ry="0.8" fill="#2c2c7a" transform="rotate(-63 336.7 153.7)"/><ellipse cx="345.5" cy="154.8" rx="1.3" ry="0.8" fill="#2c2c7a" transform="rotate(-55 345.5 154.8)"/><ellipse cx="355.1" cy="152.0" rx="1.3" ry="0.8" fill="#2c2c7a" transform="rotate(-33 355.1 152.0)"/><ellipse cx="363.0" cy="152.5" rx="1.3" ry="0.8" fill="#2c2c7a" transform="rotate(-11 363.0 152.5)"/><ellipse cx="371.7" cy="151.6" rx="1.3" ry="0.8" fill="#2c2c7a" transform="rotate(18 371.7 151.6)"/><ellipse cx="381.0" cy="153.4" rx="1.3" ry="0.8" fill="#2c2c7a" transform="rotate(44 381.0 153.4)"/><ellipse cx="387.8" cy="152.2" rx="1.3" ry="0.8" fill="#2c2c7a" transform="rotate(52 387.8 152.2)"/><ellipse cx="338.5" cy="159.5" rx="1.3" ry="0.8" fill="#2c2c7a" transform="rotate(-71 338.5 159.5)"/><ellipse cx="335.0" cy="163.0" rx="1.3" ry="0.8" fill="#2c2c7a" transform="rotate(-79 335.0 163.0)"/><ellipse cx="339.9" cy="162.1" rx="1.3" ry="0.8" fill="#2c2c7a" transform="rotate(-75 339.9 162.1)"/><ellipse cx="347.2" cy="162.1" rx="1.3" ry="0.8" fill="#2c2c7a" transform="rotate(-70 347.2 162.1)"/><ellipse cx="355.1" cy="161.3" rx="1.3" ry="0.8" fill="#2c2c7a" transform="rotate(-55 355.1 161.3)"/><ellipse cx="363.5" cy="162.1" rx="1.3" ry="0.8" fill="#2c2c7a" transform="rotate(-20 363.5 162.1)"/><ellipse cx="371.4" cy="161.3" rx="1.3" ry="0.8" fill="#2c2c7a" transform="rotate(35 371.4 161.3)"/><ellipse cx="379.6" cy="160.4" rx="1.3" ry="0.8" fill="#2c2c7a" transform="rotate(58 379.6 160.4)"/><ellipse cx="387.1" cy="157.8" rx="1.3" ry="0.8" fill="#2c2c7a" transform="rotate(62 387.1 157.8)"/><ellipse cx="390.6" cy="161.8" rx="1.3" ry="0.8" fill="#2c2c7a" transform="rotate(74 390.6 161.8)"/><ellipse cx="336.7" cy="166.5" rx="1.3" ry="0.8" fill="#2c2c7a" transform="rotate(-85 336.7 166.5)"/><ellipse cx="342.0" cy="169.1" rx="1.3" ry="0.8" fill="#2c2c7a" transform="rotate(270 342.0 169.1)"/><ellipse cx="348.1" cy="170.5" rx="1.3" ry="0.8" fill="#2c2c7a" transform="rotate(265 348.1 170.5)"/><ellipse cx="356.0" cy="170.9" rx="1.3" ry="0.8" fill="#2c2c7a" transform="rotate(259 356.0 170.9)"/><ellipse cx="363.9" cy="170.5" rx="1.3" ry="0.8" fill="#2c2c7a" transform="rotate(234 363.9 170.5)"/><ellipse cx="371.7" cy="170.0" rx="1.3" ry="0.8" fill="#2c2c7a" transform="rotate(100 371.7 170.0)"/><ellipse cx="378.7" cy="169.1" rx="1.3" ry="0.8" fill="#2c2c7a" transform="rotate(91 378.7 169.1)"/><ellipse cx="384.9" cy="168.3" rx="1.3" ry="0.8" fill="#2c2c7a" transform="rotate(88 384.9 168.3)"/><ellipse cx="389.2" cy="166.5" rx="1.3" ry="0.8" fill="#2c2c7a" transform="rotate(84 389.2 166.5)"/><ellipse cx="348.1" cy="180.5" rx="1.3" ry="0.8" fill="#2c2c7a" transform="rotate(237 348.1 180.5)"/><ellipse cx="356.9" cy="181.0" rx="1.3" ry="0.8" fill="#2c2c7a" transform="rotate(217 356.9 181.0)"/><ellipse cx="363.9" cy="180.5" rx="1.3" ry="0.8" fill="#2c2c7a" transform="rotate(191 363.9 180.5)"/><ellipse cx="371.4" cy="180.0" rx="1.3" ry="0.8" fill="#2c2c7a" transform="rotate(154 371.4 180.0)"/><ellipse cx="377.9" cy="178.8" rx="1.3" ry="0.8" fill="#2c2c7a" transform="rotate(130 377.9 178.8)"/><ellipse cx="384.9" cy="176.1" rx="1.3" ry="0.8" fill="#2c2c7a" transform="rotate(111 384.9 176.1)"/><ellipse cx="390.1" cy="171.8" rx="1.3" ry="0.8" fill="#2c2c7a" transform="rotate(97 390.1 171.8)"/><g transform="translate(413.2,203.2) scale(0.4740)"><use href="#brain"/></g><path d="M436.04,215.80 C436.05,216.27 435.91,217.05 435.45,217.36 C434.99,217.68 433.65,217.84 432.99,217.89 C432.32,217.95 431.47,217.88 431.00,217.75 C430.53,217.62 430.45,217.10 429.85,217.01 C429.25,216.93 427.44,217.38 427.03,217.20 C426.61,217.01 427.12,216.23 427.08,215.80 C427.03,215.37 426.42,214.59 426.74,214.30 C427.06,214.02 428.57,214.14 429.21,213.91 C429.85,213.68 430.49,212.76 431.00,212.78 C431.51,212.81 431.96,213.87 432.62,214.09 C433.28,214.31 434.88,214.00 435.39,214.26 C435.90,214.51 436.03,215.33 436.04,215.80Z" fill="#d42020"/><rect x="423.5" y="208.4" width="18.6" height="18.5" fill="none" stroke="#d84848" stroke-width="0.9" stroke-dasharray="2.2,1.4"/><ellipse cx="424.0" cy="196.0" rx="1.3" ry="0.8" fill="#2c2c7a" transform="rotate(-26 424.0 196.0)"/><ellipse cx="432.8" cy="194.1" rx="1.3" ry="0.8" fill="#2c2c7a" transform="rotate(-8 432.8 194.1)"/><ellipse cx="442.8" cy="193.2" rx="1.3" ry="0.8" fill="#2c2c7a" transform="rotate(12 442.8 193.2)"/><ellipse cx="452.0" cy="197.7" rx="1.3" ry="0.8" fill="#2c2c7a" transform="rotate(32 452.0 197.7)"/><ellipse cx="415.7" cy="199.9" rx="1.3" ry="0.8" fill="#2c2c7a" transform="rotate(-44 415.7 199.9)"/><ellipse cx="424.5" cy="200.4" rx="1.3" ry="0.8" fill="#2c2c7a" transform="rotate(-30 424.5 200.4)"/><ellipse cx="432.3" cy="199.0" rx="1.3" ry="0.8" fill="#2c2c7a" transform="rotate(-11 432.3 199.0)"/><ellipse cx="434.3" cy="200.0" rx="1.3" ry="0.8" fill="#2c2c7a" transform="rotate(-7 434.3 200.0)"/><ellipse cx="442.8" cy="197.0" rx="1.3" ry="0.8" fill="#2c2c7a" transform="rotate(13 442.8 197.0)"/><ellipse cx="451.1" cy="201.0" rx="1.3" ry="0.8" fill="#2c2c7a" transform="rotate(34 451.1 201.0)"/><ellipse cx="416.5" cy="203.2" rx="1.3" ry="0.8" fill="#2c2c7a" transform="rotate(-47 416.5 203.2)"/><ellipse cx="409.0" cy="207.7" rx="1.3" ry="0.8" fill="#2c2c7a" transform="rotate(-63 409.0 207.7)"/><ellipse cx="417.4" cy="208.7" rx="1.3" ry="0.8" fill="#2c2c7a" transform="rotate(-55 417.4 208.7)"/><ellipse cx="426.5" cy="206.0" rx="1.3" ry="0.8" fill="#2c2c7a" transform="rotate(-33 426.5 206.0)"/><ellipse cx="434.0" cy="206.5" rx="1.3" ry="0.8" fill="#2c2c7a" transform="rotate(-11 434.0 206.5)"/><ellipse cx="442.3" cy="205.7" rx="1.3" ry="0.8" fill="#2c2c7a" transform="rotate(18 442.3 205.7)"/><ellipse cx="451.1" cy="207.4" rx="1.3" ry="0.8" fill="#2c2c7a" transform="rotate(44 451.1 207.4)"/><ellipse cx="457.6" cy="206.2" rx="1.3" ry="0.8" fill="#2c2c7a" transform="rotate(52 457.6 206.2)"/><ellipse cx="410.7" cy="213.2" rx="1.3" ry="0.8" fill="#2c2c7a" transform="rotate(-71 410.7 213.2)"/><ellipse cx="407.4" cy="216.5" rx="1.3" ry="0.8" fill="#2c2c7a" transform="rotate(-79 407.4 216.5)"/><ellipse cx="412.0" cy="215.7" rx="1.3" ry="0.8" fill="#2c2c7a" transform="rotate(-75 412.0 215.7)"/><ellipse cx="419.0" cy="215.7" rx="1.3" ry="0.8" fill="#2c2c7a" transform="rotate(-70 419.0 215.7)"/><ellipse cx="426.5" cy="214.8" rx="1.3" ry="0.8" fill="#2c2c7a" transform="rotate(-55 426.5 214.8)"/><ellipse cx="434.5" cy="215.7" rx="1.3" ry="0.8" fill="#2c2c7a" transform="rotate(-20 434.5 215.7)"/><ellipse cx="442.0" cy="214.8" rx="1.3" ry="0.8" fill="#2c2c7a" transform="rotate(35 442.0 214.8)"/><ellipse cx="449.8" cy="214.0" rx="1.3" ry="0.8" fill="#2c2c7a" transform="rotate(58 449.8 214.0)"/><ellipse cx="456.9" cy="211.5" rx="1.3" ry="0.8" fill="#2c2c7a" transform="rotate(62 456.9 211.5)"/><ellipse cx="460.3" cy="215.3" rx="1.3" ry="0.8" fill="#2c2c7a" transform="rotate(74 460.3 215.3)"/><ellipse cx="409.0" cy="219.8" rx="1.3" ry="0.8" fill="#2c2c7a" transform="rotate(-85 409.0 219.8)"/><ellipse cx="414.0" cy="222.3" rx="1.3" ry="0.8" fill="#2c2c7a" transform="rotate(270 414.0 222.3)"/><ellipse cx="419.9" cy="223.7" rx="1.3" ry="0.8" fill="#2c2c7a" transform="rotate(265 419.9 223.7)"/><ellipse cx="427.3" cy="224.0" rx="1.3" ry="0.8" fill="#2c2c7a" transform="rotate(259 427.3 224.0)"/><ellipse cx="434.8" cy="223.7" rx="1.3" ry="0.8" fill="#2c2c7a" transform="rotate(234 434.8 223.7)"/><ellipse cx="442.3" cy="223.2" rx="1.3" ry="0.8" fill="#2c2c7a" transform="rotate(100 442.3 223.2)"/><ellipse cx="449.0" cy="222.3" rx="1.3" ry="0.8" fill="#2c2c7a" transform="rotate(91 449.0 222.3)"/><ellipse cx="454.8" cy="221.5" rx="1.3" ry="0.8" fill="#2c2c7a" transform="rotate(88 454.8 221.5)"/><ellipse cx="458.9" cy="219.8" rx="1.3" ry="0.8" fill="#2c2c7a" transform="rotate(84 458.9 219.8)"/><ellipse cx="419.9" cy="233.1" rx="1.3" ry="0.8" fill="#2c2c7a" transform="rotate(237 419.9 233.1)"/><ellipse cx="428.2" cy="233.6" rx="1.3" ry="0.8" fill="#2c2c7a" transform="rotate(217 428.2 233.6)"/><ellipse cx="434.8" cy="233.1" rx="1.3" ry="0.8" fill="#2c2c7a" transform="rotate(191 434.8 233.1)"/><ellipse cx="442.0" cy="232.6" rx="1.3" ry="0.8" fill="#2c2c7a" transform="rotate(154 442.0 232.6)"/><ellipse cx="448.1" cy="231.5" rx="1.3" ry="0.8" fill="#2c2c7a" transform="rotate(130 448.1 231.5)"/><ellipse cx="454.8" cy="229.0" rx="1.3" ry="0.8" fill="#2c2c7a" transform="rotate(111 454.8 229.0)"/><ellipse cx="459.8" cy="224.8" rx="1.3" ry="0.8" fill="#2c2c7a" transform="rotate(97 459.8 224.8)"/><g transform="translate(509.7,211.7) scale(0.5040)"><use href="#brain"/></g><clipPath id="c8"><path d="M517.1,229.5 C516.8,223 521,219.5 527.5,219.1 C534,219 539.5,223 539.3,229.5 Z"/></clipPath><path d="M517.1,229.5 C516.8,223 521,219.5 527.5,219.1 C534,219 539.5,223 539.3,229.5 Z" fill="#d02222"/><g clip-path="url(#c8)"><g transform="translate(516.0,218.0)"><path d="M25.2,-2.5L26.1,-1.7L26.8,-0.8L26.9,0.4 M2.5,11.9L2.0,10.8L1.0,10.2L-0.2,10.5 M25.5,1.1L24.3,0.9L23.1,0.8L22.1,1.6L21.4,2.5L21.6,3.7 M0.9,-0.9L-0.0,-1.7L-1.0,-2.3 M21.6,11.7L20.5,12.1L19.3,12.1 M-1.5,13.0L-0.7,12.2L-0.0,11.1L1.1,10.8 M12.6,14.8L13.7,14.3L14.7,13.7L15.9,13.8L17.0,14.4L17.6,15.5 M8.7,4.0L8.0,3.1L8.1,1.9L8.2,0.7 M13.6,-1.6L14.4,-0.6L15.3,0.2L16.5,0.3 M-0.4,5.8L-1.3,5.0L-2.5,4.8 M5.5,-3.4L4.4,-2.9L3.6,-1.9 M17.9,15.7L17.1,14.7L16.4,13.7L15.2,13.5L14.3,14.2L13.9,15.4 M18.1,2.7L18.6,1.6L19.4,0.7L20.4,0.0 M24.2,7.7L23.0,7.5L22.2,6.7L21.5,5.7L21.6,4.5L21.6,3.3 M13.2,6.7L14.0,5.8L15.2,5.8L16.3,6.1L17.5,6.0 M22.8,0.6L23.5,1.6L24.6,1.9L25.8,2.3L26.6,3.1L27.5,4.0 M9.1,9.8L10.2,10.3L11.2,11.0L12.2,11.7L13.3,11.9 M8.8,0.1L7.6,0.2L6.5,-0.2L5.4,0.2 M-2.2,6.8L-1.4,5.9L-0.5,5.0 M18.1,-1.3L18.5,-0.2L19.3,0.7L19.9,1.8L20.2,2.9 M5.3,14.1L4.5,13.1L3.8,12.2L2.7,11.8L1.9,10.9L1.3,9.9 M9.8,14.0L8.9,13.2L7.7,13.2L6.9,14.0 M-2.8,-3.3L-3.5,-2.3L-4.7,-2.1L-5.7,-1.6L-6.9,-2.0 M19.9,8.7L21.0,8.2L22.0,7.6 M21.4,10.6L21.2,11.8L20.5,12.8 M4.7,4.2L4.9,5.4L5.4,6.5L5.3,7.6L4.4,8.5L4.0,9.6 M5.9,11.0L7.1,10.7L7.6,9.7L8.7,9.1L9.8,9.5 M22.3,2.2L22.8,3.3L23.1,4.4L22.6,5.5L23.2,6.6 M0.0,6.5L0.1,7.7L0.8,8.7 M15.3,3.6L16.2,4.3L16.3,5.5L17.1,6.4L18.3,6.7 M2.3,5.5L1.8,4.4L1.9,3.2 M27.7,14.2L27.3,15.3L26.3,15.9L25.7,16.9L24.6,17.4L23.5,18.0" fill="none" stroke="#6e0606" stroke-width="1.0" stroke-linecap="round" filter="url(#b03)"/><path d="M-0.8,7.4L0.2,8.0L1.4,8.2 M2.8,8.7L2.0,7.8L1.7,6.7L2.3,5.6L2.8,4.5 M-2.6,10.4L-1.4,10.1L-0.4,9.5L0.6,8.9 M24.8,9.5L23.8,8.9L22.6,8.5L22.2,7.4 M6.8,15.1L7.6,16.0L8.5,16.8L9.4,17.6L9.5,18.8 M23.8,-1.4L23.3,-0.2L22.9,0.9 M20.3,13.8L20.1,15.0L20.7,16.0L21.0,17.1L22.1,17.7 M18.4,4.4L17.2,4.0L16.0,4.2L14.9,4.4 M18.6,-4.0L19.8,-3.8L20.6,-2.9L21.8,-2.9 M16.0,13.3L15.8,14.5L16.3,15.6L17.4,16.0L18.4,15.3 M-0.3,-1.2L0.2,-0.1L0.2,1.0L-0.1,2.2 M9.0,5.3L8.0,5.9L7.1,6.8L5.9,6.9L4.8,6.6 M13.4,1.8L12.5,0.9L12.2,-0.2 M17.0,8.7L15.8,8.5L14.6,8.4 M6.1,2.6L5.8,1.4L5.1,0.4L5.5,-0.7L5.0,-1.8 M2.2,14.9L3.4,15.1L4.4,14.6L5.5,13.9L6.1,12.9" fill="none" stroke="#f07a7a" stroke-width="0.7" stroke-linecap="round" filter="url(#b03)"/></g></g><rect x="514.1" y="215.4" width="29.0" height="23.0" fill="none" stroke="#d84848" stroke-width="0.9" stroke-dasharray="2.2,1.4"/><ellipse cx="521.2" cy="204.1" rx="1.3" ry="0.8" fill="#2c2c7a" transform="rotate(-26 521.2 204.1)"/><ellipse cx="530.6" cy="202.0" rx="1.3" ry="0.8" fill="#2c2c7a" transform="rotate(-8 530.6 202.0)"/><ellipse cx="541.2" cy="201.1" rx="1.3" ry="0.8" fill="#2c2c7a" transform="rotate(12 541.2 201.1)"/><ellipse cx="550.9" cy="205.9" rx="1.3" ry="0.8" fill="#2c2c7a" transform="rotate(32 550.9 205.9)"/><ellipse cx="512.4" cy="208.2" rx="1.3" ry="0.8" fill="#2c2c7a" transform="rotate(-44 512.4 208.2)"/><ellipse cx="521.7" cy="208.7" rx="1.3" ry="0.8" fill="#2c2c7a" transform="rotate(-30 521.7 208.7)"/><ellipse cx="530.0" cy="207.3" rx="1.3" ry="0.8" fill="#2c2c7a" transform="rotate(-11 530.0 207.3)"/><ellipse cx="532.2" cy="208.3" rx="1.3" ry="0.8" fill="#2c2c7a" transform="rotate(-7 532.2 208.3)"/><ellipse cx="541.2" cy="205.2" rx="1.3" ry="0.8" fill="#2c2c7a" transform="rotate(13 541.2 205.2)"/><ellipse cx="550.0" cy="209.4" rx="1.3" ry="0.8" fill="#2c2c7a" transform="rotate(34 550.0 209.4)"/><ellipse cx="513.2" cy="211.7" rx="1.3" ry="0.8" fill="#2c2c7a" transform="rotate(-47 513.2 211.7)"/><ellipse cx="505.3" cy="216.5" rx="1.3" ry="0.8" fill="#2c2c7a" transform="rotate(-63 505.3 216.5)"/><ellipse cx="514.1" cy="217.5" rx="1.3" ry="0.8" fill="#2c2c7a" transform="rotate(-55 514.1 217.5)"/><ellipse cx="523.8" cy="214.7" rx="1.3" ry="0.8" fill="#2c2c7a" transform="rotate(-33 523.8 214.7)"/><ellipse cx="531.8" cy="215.2" rx="1.3" ry="0.8" fill="#2c2c7a" transform="rotate(-11 531.8 215.2)"/><ellipse cx="540.6" cy="214.4" rx="1.3" ry="0.8" fill="#2c2c7a" transform="rotate(18 540.6 214.4)"/><ellipse cx="550.0" cy="216.1" rx="1.3" ry="0.8" fill="#2c2c7a" transform="rotate(44 550.0 216.1)"/><ellipse cx="556.9" cy="214.9" rx="1.3" ry="0.8" fill="#2c2c7a" transform="rotate(52 556.9 214.9)"/><ellipse cx="507.0" cy="222.3" rx="1.3" ry="0.8" fill="#2c2c7a" transform="rotate(-71 507.0 222.3)"/><ellipse cx="503.5" cy="225.8" rx="1.3" ry="0.8" fill="#2c2c7a" transform="rotate(-79 503.5 225.8)"/><ellipse cx="508.5" cy="225.0" rx="1.3" ry="0.8" fill="#2c2c7a" transform="rotate(-75 508.5 225.0)"/><ellipse cx="515.9" cy="225.0" rx="1.3" ry="0.8" fill="#2c2c7a" transform="rotate(-70 515.9 225.0)"/><ellipse cx="523.8" cy="224.1" rx="1.3" ry="0.8" fill="#2c2c7a" transform="rotate(-55 523.8 224.1)"/><ellipse cx="532.3" cy="225.0" rx="1.3" ry="0.8" fill="#2c2c7a" transform="rotate(-20 532.3 225.0)"/><ellipse cx="540.3" cy="224.1" rx="1.3" ry="0.8" fill="#2c2c7a" transform="rotate(35 540.3 224.1)"/><ellipse cx="548.6" cy="223.2" rx="1.3" ry="0.8" fill="#2c2c7a" transform="rotate(58 548.6 223.2)"/><ellipse cx="556.2" cy="220.5" rx="1.3" ry="0.8" fill="#2c2c7a" transform="rotate(62 556.2 220.5)"/><ellipse cx="559.7" cy="224.6" rx="1.3" ry="0.8" fill="#2c2c7a" transform="rotate(74 559.7 224.6)"/><ellipse cx="505.3" cy="229.4" rx="1.3" ry="0.8" fill="#2c2c7a" transform="rotate(-85 505.3 229.4)"/><ellipse cx="510.6" cy="232.0" rx="1.3" ry="0.8" fill="#2c2c7a" transform="rotate(270 510.6 232.0)"/><ellipse cx="516.8" cy="233.5" rx="1.3" ry="0.8" fill="#2c2c7a" transform="rotate(265 516.8 233.5)"/><ellipse cx="524.7" cy="233.8" rx="1.3" ry="0.8" fill="#2c2c7a" transform="rotate(259 524.7 233.8)"/><ellipse cx="532.7" cy="233.5" rx="1.3" ry="0.8" fill="#2c2c7a" transform="rotate(234 532.7 233.5)"/><ellipse cx="540.6" cy="232.9" rx="1.3" ry="0.8" fill="#2c2c7a" transform="rotate(100 540.6 232.9)"/><ellipse cx="547.7" cy="232.0" rx="1.3" ry="0.8" fill="#2c2c7a" transform="rotate(91 547.7 232.0)"/><ellipse cx="553.9" cy="231.2" rx="1.3" ry="0.8" fill="#2c2c7a" transform="rotate(88 553.9 231.2)"/><ellipse cx="558.3" cy="229.4" rx="1.3" ry="0.8" fill="#2c2c7a" transform="rotate(84 558.3 229.4)"/><ellipse cx="516.8" cy="243.5" rx="1.3" ry="0.8" fill="#2c2c7a" transform="rotate(237 516.8 243.5)"/><ellipse cx="525.6" cy="244.1" rx="1.3" ry="0.8" fill="#2c2c7a" transform="rotate(217 525.6 244.1)"/><ellipse cx="532.7" cy="243.5" rx="1.3" ry="0.8" fill="#2c2c7a" transform="rotate(191 532.7 243.5)"/><ellipse cx="540.3" cy="243.0" rx="1.3" ry="0.8" fill="#2c2c7a" transform="rotate(154 540.3 243.0)"/><ellipse cx="546.8" cy="241.8" rx="1.3" ry="0.8" fill="#2c2c7a" transform="rotate(130 546.8 241.8)"/><ellipse cx="553.9" cy="239.1" rx="1.3" ry="0.8" fill="#2c2c7a" transform="rotate(111 553.9 239.1)"/><ellipse cx="559.2" cy="234.7" rx="1.3" ry="0.8" fill="#2c2c7a" transform="rotate(97 559.2 234.7)"/><g transform="translate(581.8,237.8) scale(0.4380)"><use href="#brain"/></g><clipPath id="c9"><path d="M584.70,251.40 C585.20,249.35 587.09,246.67 589.20,245.00 C591.31,243.33 593.83,242.62 596.40,242.10 C598.97,241.58 600.94,241.72 603.50,242.10 C606.06,242.48 608.67,242.78 610.60,244.20 C612.53,245.62 613.82,248.07 614.20,250.00 C614.58,251.93 613.85,253.37 612.70,254.90 C611.55,256.43 609.98,257.47 607.80,258.50 C605.62,259.53 603.43,260.35 600.60,260.60 C597.77,260.85 594.66,260.66 592.10,259.90 C589.54,259.14 587.73,257.93 586.40,256.40 C585.07,254.87 584.20,253.45 584.70,251.40Z"/></clipPath><path d="M584.70,251.40 C585.20,249.35 587.09,246.67 589.20,245.00 C591.31,243.33 593.83,242.62 596.40,242.10 C598.97,241.58 600.94,241.72 603.50,242.10 C606.06,242.48 608.67,242.78 610.60,244.20 C612.53,245.62 613.82,248.07 614.20,250.00 C614.58,251.93 613.85,253.37 612.70,254.90 C611.55,256.43 609.98,257.47 607.80,258.50 C605.62,259.53 603.43,260.35 600.60,260.60 C597.77,260.85 594.66,260.66 592.10,259.90 C589.54,259.14 587.73,257.93 586.40,256.40 C585.07,254.87 584.20,253.45 584.70,251.40Z" fill="#c81e1e"/><g clip-path="url(#c9)"><g transform="translate(583.0,241.0)"><path d="M19.6,14.5L18.8,15.4L18.8,16.6L19.7,17.4L20.4,18.4L21.6,18.7 M17.1,17.6L16.1,17.1L14.9,17.3L13.8,17.7 M24.5,1.2L25.4,2.1L25.4,3.3L24.5,4.1L23.6,4.8L22.4,4.9 M27.3,21.1L28.1,20.2L28.6,19.1L28.5,17.9L29.0,16.8L28.7,15.6 M-1.0,4.4L-1.9,5.1L-2.3,6.3L-1.6,7.3L-1.4,8.5L-0.3,9.1 M4.5,-1.5L3.6,-0.8L2.4,-0.4 M2.0,4.7L0.8,4.8L-0.2,5.4L-1.4,5.1L-2.6,5.1L-3.8,5.0 M0.3,20.3L-0.2,19.2L-1.0,18.3L-1.8,17.5L-2.6,16.6 M-3.9,11.4L-4.6,10.4L-4.9,9.2 M12.2,9.0L11.5,8.0L11.0,6.9L10.6,5.8L10.4,4.6L10.3,3.4 M3.1,16.1L4.3,15.9L5.5,16.1L6.4,16.9L7.1,17.9 M6.3,4.5L7.0,5.5L8.1,6.0L9.0,6.8L10.2,7.0 M10.0,18.0L11.1,18.4L12.3,18.4L13.4,19.0 M22.6,6.4L21.6,7.0L20.4,7.4L19.9,8.5L19.3,9.5L19.2,10.7 M18.7,-1.1L18.0,-2.0L16.8,-2.1L16.0,-3.1L15.3,-4.0L15.6,-5.2 M4.6,10.4L4.0,9.3L3.1,8.5L2.1,8.0 M27.8,18.8L28.3,17.7L28.3,16.5L27.3,15.7 M-2.8,14.0L-1.6,13.8L-0.5,14.3L-0.0,15.4L0.2,16.6 M7.9,9.1L8.6,10.1L8.7,11.3L8.0,12.3 M12.3,14.9L12.3,13.7L11.5,12.8L11.6,11.6L11.8,10.5 M15.7,9.8L14.9,8.9L13.7,8.6L12.7,9.1L11.5,9.4L10.3,9.5 M28.1,5.1L27.3,6.0L27.1,7.1L27.5,8.3L27.2,9.5L27.5,10.6 M28.5,2.7L28.6,1.5L29.5,0.7 M16.5,-3.6L17.1,-2.6L18.1,-1.9L19.3,-2.0 M23.1,15.9L22.4,14.9L21.2,14.6L20.1,15.2L19.0,14.9 M20.6,0.2L20.7,-1.0L21.4,-1.9L21.9,-3.0L22.1,-4.2L22.0,-5.4 M20.3,18.3L20.8,19.4L21.2,20.5 M-0.8,23.8L-1.8,24.4L-3.0,24.6L-4.1,24.2 M34.6,15.7L34.2,14.5L34.6,13.4L34.9,12.2 M18.6,23.4L18.1,22.3L17.6,21.2L16.5,20.8L15.9,19.8 M35.7,20.3L34.5,20.2L33.5,19.6L32.3,19.9L31.3,20.5 M6.3,1.6L5.4,0.9L4.2,0.9L3.1,1.4 M7.4,21.1L7.0,22.3L6.4,23.3L5.5,24.0L4.3,24.3L3.7,25.3 M3.6,15.6L3.4,16.8L2.4,17.5L1.6,18.3L0.4,18.6L-0.3,19.6 M23.1,10.0L22.7,11.1L23.1,12.3L23.5,13.4L23.9,14.5 M32.6,19.1L31.4,18.9L30.6,18.0L29.4,17.9 M12.0,3.2L12.5,4.3L12.1,5.4 M30.1,13.0L30.3,11.8L30.0,10.7L29.6,9.5 M24.0,20.4L24.8,19.6L24.8,18.4L24.2,17.4 M6.6,17.7L5.5,18.0L4.8,19.0L5.1,20.1L6.0,21.0 M10.4,13.5L9.4,14.2L9.2,15.4L8.5,16.3L7.9,17.4L7.4,18.5 M36.3,0.2L35.7,-0.9L35.7,-2.1L35.7,-3.3L35.2,-4.4L35.7,-5.4 M25.8,-3.5L25.8,-2.3L25.0,-1.4L25.1,-0.2L25.6,0.8L26.4,1.6 M14.7,3.4L14.6,2.2L14.8,1.0L15.5,0.0L15.8,-1.2 M12.6,-4.0L13.1,-5.1L14.2,-5.5 M11.1,21.6L9.9,21.3L8.8,21.6L7.6,21.6L6.5,22.1L5.5,22.8 M32.8,9.3L33.3,10.4L34.4,10.8L35.5,11.3L36.7,11.4L37.9,11.2 M-3.1,19.6L-2.3,18.7L-2.3,17.5L-2.2,16.3 M33.5,-3.3L33.9,-4.5L35.0,-5.0L35.7,-6.0L36.6,-6.7L37.8,-7.0 M2.0,22.3L2.0,23.5L1.6,24.6L1.1,25.7 M21.2,4.5L22.1,3.7L22.5,2.5L23.5,2.0L24.3,1.1 M1.0,12.6L0.2,11.7L0.0,10.5L-0.1,9.3L-0.9,8.4 M16.7,21.7L16.0,20.7L15.1,19.9 M17.3,6.9L17.2,8.1L16.5,9.0L16.5,10.2 M30.3,-1.9L29.6,-0.9L28.9,0.0L27.7,0.1L26.7,0.8L25.6,1.2 M25.8,-3.7L26.0,-4.9L26.6,-6.0L27.6,-6.5L28.4,-7.4 M28.0,12.7L29.1,12.4L30.3,12.7L31.4,12.1L32.6,11.8L33.5,12.6 M33.0,2.8L34.1,3.4L35.1,4.1L35.7,5.1L36.5,5.9 M36.2,7.3L35.7,6.3L35.1,5.2L34.1,4.6 M34.1,23.7L35.0,24.5L36.2,24.5L37.3,24.1L37.8,23.0L37.5,21.9 M-2.9,4.1L-2.9,5.3L-2.6,6.4L-3.2,7.5L-4.3,8.0 M1.5,-0.8L1.8,-2.0L2.8,-2.6L3.4,-3.7 M25.0,22.0L26.2,21.6L26.8,20.6L27.9,20.4L29.1,20.4L30.1,21.2 M30.9,23.5L30.9,24.7L31.5,25.7L32.5,26.4 M13.5,17.7L14.7,17.3L15.8,17.6L16.6,18.5L17.8,18.8L19.0,18.8 M-2.2,-0.5L-1.2,0.1L-0.7,1.2L0.2,2.0L1.4,2.2L2.5,1.7 M4.1,24.2L4.6,25.3L5.7,25.7L6.9,26.0 M9.5,7.0L8.6,6.2L7.6,5.5 M30.9,7.9L32.0,8.4L33.0,9.1L34.0,9.7L34.9,10.5 M8.3,-0.5L7.1,-0.8L6.1,-1.4L4.9,-1.8L3.8,-1.3L2.7,-0.9 M18.7,11.0L17.8,11.8L16.6,12.1L15.4,12.1L14.3,12.5L13.3,13.2 M18.2,15.0L18.6,13.9L19.6,13.1L20.2,12.1L20.1,10.9 M27.1,10.4L26.0,10.9L25.2,11.8L24.2,12.4L23.6,13.5" fill="none" stroke="#6e0606" stroke-width="1.0" stroke-linecap="round" filter="url(#b03)"/><path d="M22.4,7.3L21.2,6.9L20.2,6.4L19.8,5.3 M10.1,6.1L10.7,7.1L10.7,8.3 M29.3,3.8L30.3,3.1L30.3,1.9L30.9,0.9L32.1,0.6 M13.8,3.1L13.8,1.9L14.0,0.7L14.2,-0.5L15.1,-1.2 M22.3,11.7L22.1,12.9L22.2,14.1L22.4,15.3L22.0,16.4 M30.3,22.6L29.1,22.3L27.9,22.2 M7.7,19.0L8.1,20.1L7.7,21.3L6.6,21.9 M3.2,11.7L3.0,12.9L3.3,14.1L3.7,15.2 M4.3,6.2L5.5,6.4L6.5,6.9 M14.5,16.4L15.0,15.3L15.3,14.1L14.7,13.0L14.7,11.8 M-1.1,7.4L-1.4,8.6L-2.5,9.1L-3.1,10.2L-4.2,10.5 M-0.4,23.6L-0.5,24.8L-1.4,25.6L-1.2,26.8 M34.0,4.4L33.4,3.3L33.9,2.2 M23.2,-3.0L23.0,-1.8L23.0,-0.6L22.4,0.4 M27.3,11.1L28.4,10.7L29.6,10.4L30.6,11.0 M24.7,15.9L23.5,16.3L22.5,16.8L21.4,17.4L20.4,18.0 M29.7,17.0L30.7,16.3L31.5,15.4L32.4,14.6L33.1,13.6 M1.7,8.6L2.9,8.5L3.8,7.7L4.1,6.5L4.3,5.4 M13.6,13.2L12.8,12.4L12.1,11.4L11.4,10.4 M13.4,-0.4L12.9,0.7L12.2,1.7 M33.4,-2.1L32.3,-2.6L31.2,-2.8 M33.0,24.0L32.5,25.1L31.5,25.8L31.2,26.9 M7.1,-3.2L7.6,-2.1L8.0,-1.0L9.0,-0.3L10.1,0.2 M-2.6,-0.1L-3.3,-1.1L-4.5,-1.2L-5.4,-2.0 M27.3,-1.4L26.8,-2.5L26.0,-3.4L25.2,-4.3L24.0,-4.6 M8.8,22.6L8.0,21.7L6.8,21.6L5.9,22.4L4.7,22.5 M4.9,23.4L6.1,23.8L7.2,24.3 M15.0,23.8L14.8,22.6L13.8,22.0L13.6,20.8 M24.0,24.9L22.8,24.6L21.7,25.0L21.2,26.1 M14.6,-0.7L14.0,-1.7L13.0,-2.4L11.9,-2.7 M33.5,16.9L33.9,18.1L34.6,19.0L35.1,20.1L34.8,21.3 M12.1,9.3L11.4,8.3L10.7,7.3L9.5,7.0L8.3,6.9 M31.2,7.6L31.1,8.8L31.0,10.0 M12.7,16.1L11.6,15.6L11.2,14.5L10.3,13.7L9.1,13.8" fill="none" stroke="#f07a7a" stroke-width="0.7" stroke-linecap="round" filter="url(#b03)"/></g></g><rect x="582.8" y="238.8" width="33.5" height="22.5" fill="none" stroke="#d84848" stroke-width="0.9" stroke-dasharray="2.2,1.4"/><ellipse cx="591.8" cy="231.2" rx="1.3" ry="0.8" fill="#2c2c7a" transform="rotate(-26 591.8 231.2)"/><ellipse cx="599.9" cy="229.3" rx="1.3" ry="0.8" fill="#2c2c7a" transform="rotate(-8 599.9 229.3)"/><ellipse cx="609.2" cy="228.6" rx="1.3" ry="0.8" fill="#2c2c7a" transform="rotate(12 609.2 228.6)"/><ellipse cx="617.6" cy="232.7" rx="1.3" ry="0.8" fill="#2c2c7a" transform="rotate(32 617.6 232.7)"/><ellipse cx="584.1" cy="234.7" rx="1.3" ry="0.8" fill="#2c2c7a" transform="rotate(-44 584.1 234.7)"/><ellipse cx="592.3" cy="235.2" rx="1.3" ry="0.8" fill="#2c2c7a" transform="rotate(-30 592.3 235.2)"/><ellipse cx="599.5" cy="234.0" rx="1.3" ry="0.8" fill="#2c2c7a" transform="rotate(-11 599.5 234.0)"/><ellipse cx="601.3" cy="234.9" rx="1.3" ry="0.8" fill="#2c2c7a" transform="rotate(-7 601.3 234.9)"/><ellipse cx="609.2" cy="232.1" rx="1.3" ry="0.8" fill="#2c2c7a" transform="rotate(13 609.2 232.1)"/><ellipse cx="616.8" cy="235.8" rx="1.3" ry="0.8" fill="#2c2c7a" transform="rotate(34 616.8 235.8)"/><ellipse cx="584.9" cy="237.8" rx="1.3" ry="0.8" fill="#2c2c7a" transform="rotate(-47 584.9 237.8)"/><ellipse cx="578.0" cy="241.9" rx="1.3" ry="0.8" fill="#2c2c7a" transform="rotate(-63 578.0 241.9)"/><ellipse cx="585.6" cy="242.9" rx="1.3" ry="0.8" fill="#2c2c7a" transform="rotate(-55 585.6 242.9)"/><ellipse cx="594.1" cy="240.4" rx="1.3" ry="0.8" fill="#2c2c7a" transform="rotate(-33 594.1 240.4)"/><ellipse cx="601.0" cy="240.9" rx="1.3" ry="0.8" fill="#2c2c7a" transform="rotate(-11 601.0 240.9)"/><ellipse cx="608.7" cy="240.1" rx="1.3" ry="0.8" fill="#2c2c7a" transform="rotate(18 608.7 240.1)"/><ellipse cx="616.8" cy="241.6" rx="1.3" ry="0.8" fill="#2c2c7a" transform="rotate(44 616.8 241.6)"/><ellipse cx="622.8" cy="240.6" rx="1.3" ry="0.8" fill="#2c2c7a" transform="rotate(52 622.8 240.6)"/><ellipse cx="579.5" cy="247.0" rx="1.3" ry="0.8" fill="#2c2c7a" transform="rotate(-71 579.5 247.0)"/><ellipse cx="576.4" cy="250.1" rx="1.3" ry="0.8" fill="#2c2c7a" transform="rotate(-79 576.4 250.1)"/><ellipse cx="580.7" cy="249.3" rx="1.3" ry="0.8" fill="#2c2c7a" transform="rotate(-75 580.7 249.3)"/><ellipse cx="587.2" cy="249.3" rx="1.3" ry="0.8" fill="#2c2c7a" transform="rotate(-70 587.2 249.3)"/><ellipse cx="594.1" cy="248.6" rx="1.3" ry="0.8" fill="#2c2c7a" transform="rotate(-55 594.1 248.6)"/><ellipse cx="601.5" cy="249.3" rx="1.3" ry="0.8" fill="#2c2c7a" transform="rotate(-20 601.5 249.3)"/><ellipse cx="608.4" cy="248.6" rx="1.3" ry="0.8" fill="#2c2c7a" transform="rotate(35 608.4 248.6)"/><ellipse cx="615.6" cy="247.8" rx="1.3" ry="0.8" fill="#2c2c7a" transform="rotate(58 615.6 247.8)"/><ellipse cx="622.2" cy="245.5" rx="1.3" ry="0.8" fill="#2c2c7a" transform="rotate(62 622.2 245.5)"/><ellipse cx="625.3" cy="249.0" rx="1.3" ry="0.8" fill="#2c2c7a" transform="rotate(74 625.3 249.0)"/><ellipse cx="578.0" cy="253.2" rx="1.3" ry="0.8" fill="#2c2c7a" transform="rotate(-85 578.0 253.2)"/><ellipse cx="582.6" cy="255.5" rx="1.3" ry="0.8" fill="#2c2c7a" transform="rotate(270 582.6 255.5)"/><ellipse cx="587.9" cy="256.7" rx="1.3" ry="0.8" fill="#2c2c7a" transform="rotate(265 587.9 256.7)"/><ellipse cx="594.9" cy="257.0" rx="1.3" ry="0.8" fill="#2c2c7a" transform="rotate(259 594.9 257.0)"/><ellipse cx="601.8" cy="256.7" rx="1.3" ry="0.8" fill="#2c2c7a" transform="rotate(234 601.8 256.7)"/><ellipse cx="608.7" cy="256.2" rx="1.3" ry="0.8" fill="#2c2c7a" transform="rotate(100 608.7 256.2)"/><ellipse cx="614.8" cy="255.5" rx="1.3" ry="0.8" fill="#2c2c7a" transform="rotate(91 614.8 255.5)"/><ellipse cx="620.2" cy="254.7" rx="1.3" ry="0.8" fill="#2c2c7a" transform="rotate(88 620.2 254.7)"/><ellipse cx="624.1" cy="253.2" rx="1.3" ry="0.8" fill="#2c2c7a" transform="rotate(84 624.1 253.2)"/><ellipse cx="587.9" cy="265.5" rx="1.3" ry="0.8" fill="#2c2c7a" transform="rotate(237 587.9 265.5)"/><ellipse cx="595.6" cy="265.9" rx="1.3" ry="0.8" fill="#2c2c7a" transform="rotate(217 595.6 265.9)"/><ellipse cx="601.8" cy="265.5" rx="1.3" ry="0.8" fill="#2c2c7a" transform="rotate(191 601.8 265.5)"/><ellipse cx="608.4" cy="265.0" rx="1.3" ry="0.8" fill="#2c2c7a" transform="rotate(154 608.4 265.0)"/><ellipse cx="614.1" cy="263.9" rx="1.3" ry="0.8" fill="#2c2c7a" transform="rotate(130 614.1 263.9)"/><ellipse cx="620.2" cy="261.6" rx="1.3" ry="0.8" fill="#2c2c7a" transform="rotate(111 620.2 261.6)"/><ellipse cx="624.8" cy="257.8" rx="1.3" ry="0.8" fill="#2c2c7a" transform="rotate(97 624.8 257.8)"/><g transform="translate(635.7,268.7) scale(0.4270)"><use href="#brain"/></g><clipPath id="c10"><path d="M636.40,283.60 C636.58,281.44 637.22,278.05 638.50,276.00 C639.78,273.95 641.16,273.26 643.50,272.20 C645.84,271.14 648.55,270.32 651.50,270.10 C654.45,269.88 657.36,270.23 659.90,271.00 C662.44,271.77 664.20,272.76 665.60,274.40 C667.00,276.04 667.81,278.01 667.70,280.10 C667.59,282.19 666.66,284.07 665.00,286.00 C663.34,287.93 661.20,289.56 658.50,290.80 C655.80,292.04 652.97,292.79 650.00,292.90 C647.03,293.01 644.25,292.28 642.00,291.40 C639.75,290.52 638.51,289.40 637.50,288.00 C636.49,286.60 636.22,285.76 636.40,283.60Z"/></clipPath><path d="M636.40,283.60 C636.58,281.44 637.22,278.05 638.50,276.00 C639.78,273.95 641.16,273.26 643.50,272.20 C645.84,271.14 648.55,270.32 651.50,270.10 C654.45,269.88 657.36,270.23 659.90,271.00 C662.44,271.77 664.20,272.76 665.60,274.40 C667.00,276.04 667.81,278.01 667.70,280.10 C667.59,282.19 666.66,284.07 665.00,286.00 C663.34,287.93 661.20,289.56 658.50,290.80 C655.80,292.04 652.97,292.79 650.00,292.90 C647.03,293.01 644.25,292.28 642.00,291.40 C639.75,290.52 638.51,289.40 637.50,288.00 C636.49,286.60 636.22,285.76 636.40,283.60Z" fill="#c81e1e"/><g clip-path="url(#c10)"><g transform="translate(635.0,269.0)"><path d="M11.4,11.9L12.5,12.4L13.5,13.1L14.5,13.7L15.7,13.4 M13.9,27.6L15.1,27.8L16.3,27.5L17.3,28.1 M4.6,-2.7L3.4,-2.7L2.3,-2.9L1.1,-2.8L0.2,-2.0 M28.3,1.7L27.5,2.6L26.4,2.9 M-2.6,15.7L-1.4,15.5L-0.7,14.6L0.1,13.6L0.7,12.6L1.0,11.4 M31.1,0.8L30.5,-0.3L30.4,-1.5L31.2,-2.3L32.4,-2.7L32.9,-3.7 M-2.6,26.5L-3.6,27.2L-3.9,28.3L-5.0,28.9L-5.5,30.0 M16.4,-2.8L16.4,-1.6L17.3,-0.9L18.3,-0.2L18.7,1.0L18.7,2.2 M34.0,15.7L33.3,14.7L32.4,13.9L31.7,12.9L31.7,11.7 M29.0,16.0L28.1,16.7L26.9,16.8L25.7,16.6L24.8,17.3L23.6,17.5 M20.6,7.1L21.2,8.1L21.9,9.1L22.5,10.1L22.8,11.3 M35.8,23.9L34.6,23.7L33.5,23.3L32.3,23.5 M30.1,12.9L30.9,12.0L32.1,11.7 M19.6,12.2L19.3,11.1L19.6,9.9 M17.0,26.2L18.1,26.6L18.5,27.7L18.1,28.8L18.6,29.9L19.2,31.0 M8.6,11.9L7.9,12.9L6.8,13.4L5.9,14.2L5.1,15.0 M15.4,22.9L15.9,24.0L16.9,24.7 M4.9,3.0L3.7,3.4L2.7,4.1L1.6,3.8L0.4,4.0 M34.2,5.2L33.3,4.4L33.3,3.2L33.3,2.0L32.5,1.1 M17.0,21.2L18.2,21.1L19.2,20.5L19.9,19.5L21.1,19.4L22.3,19.1 M24.2,4.3L23.0,4.4L22.1,3.6L20.9,3.4L20.1,2.5 M23.8,17.8L24.7,18.6L24.7,19.8L25.5,20.7L25.7,21.9 M3.5,18.2L4.7,18.2L5.5,17.3L6.5,16.7L6.9,15.5 M34.2,13.2L33.0,13.7L32.5,14.7L31.5,15.4L30.5,16.0L29.3,15.6 M24.7,21.9L25.5,21.0L26.7,20.9 M0.6,27.4L1.7,27.1L2.9,27.5L4.1,27.5 M19.8,20.7L20.6,19.8L21.2,18.8 M7.9,18.9L7.0,19.7L6.1,20.5L4.9,20.7L4.0,19.9 M4.9,20.4L3.7,20.8L2.5,21.0L1.4,20.6L0.4,20.0L-0.4,19.1 M13.3,6.5L12.2,6.2L11.5,5.2L11.7,4.0L11.2,2.9 M-0.8,18.6L0.2,19.1L1.4,18.9L2.6,18.6L3.6,19.1 M18.7,5.9L17.5,5.9L16.6,6.7L15.4,6.9L14.4,7.5 M-1.5,6.2L-0.7,7.2L0.5,7.3L1.5,7.9 M23.3,19.1L23.2,20.3L23.9,21.3L24.4,22.4L24.3,23.6 M28.4,-1.8L29.5,-1.2L30.7,-1.5L31.8,-1.7L33.0,-1.4 M24.6,7.6L24.3,8.7L24.9,9.8L25.3,10.9L26.2,11.7 M0.4,16.2L0.4,17.4L1.1,18.3L0.8,19.5L1.4,20.5L2.2,21.4 M37.5,15.3L37.6,16.4L37.5,17.6 M2.7,9.6L3.7,10.3L4.4,11.3L5.0,12.3 M14.5,22.2L15.6,21.7L16.8,21.6L17.8,20.9L19.0,20.8L20.1,21.2 M14.0,16.1L13.0,16.8L11.8,16.8 M10.6,24.4L10.3,25.5L9.5,26.4L8.3,26.5L7.2,26.1L6.1,25.7 M29.5,21.7L29.7,20.5L30.6,19.8 M25.6,-0.9L26.7,-0.4L27.9,-0.6L29.1,-0.7L30.2,-0.9L31.0,-1.8 M8.7,-0.4L9.3,-1.5L9.2,-2.7L8.5,-3.6L8.7,-4.8L9.5,-5.7 M6.5,11.5L5.7,10.6L4.6,10.1L3.8,9.3 M20.3,17.7L19.2,17.1L18.0,17.0L16.8,17.0 M36.0,0.7L35.1,1.6L34.2,2.3L33.0,2.5L32.0,1.8 M18.9,16.9L19.8,17.8L20.9,18.0L22.1,17.8 M6.8,16.7L8.0,16.5L9.2,16.6L10.4,16.7L11.5,16.3 M29.9,9.4L29.2,10.3L28.3,11.1L27.1,11.4L26.0,11.6 M32.2,22.3L33.3,22.8L34.2,23.6L35.4,23.9L36.3,24.7 M33.6,18.6L32.5,19.0L32.1,20.2L31.3,21.1L30.5,21.9 M-1.6,-0.7L-1.9,-1.9L-1.9,-3.1L-1.7,-4.2L-0.8,-5.1L-0.3,-6.2 M36.2,13.8L35.9,15.0L35.6,16.1L36.3,17.1L37.5,17.2L38.7,17.2 M37.2,-1.8L36.8,-0.7L35.9,0.1L35.1,1.0L33.9,1.3L33.3,2.4 M14.8,-2.5L16.0,-2.7L17.0,-3.4L18.2,-3.7L18.7,-4.8L18.7,-6.0 M-0.6,1.2L0.5,0.9L1.7,0.9L2.7,0.1L3.7,-0.4L4.2,-1.5 M33.6,-3.5L33.5,-4.7L34.3,-5.6L35.5,-5.6 M16.8,8.9L16.6,7.7L16.1,6.6L15.6,5.6L15.8,4.4 M25.3,11.3L26.1,10.3L26.4,9.2L27.4,8.4L28.1,7.5 M30.7,6.2L30.0,7.2L28.8,7.4L27.7,7.7L26.6,8.2 M4.0,9.4L2.9,8.9L1.7,8.7L0.8,8.0L-0.2,7.4L-1.4,7.5 M24.1,0.5L23.5,1.6L23.4,2.8L24.1,3.8 M27.6,4.5L26.9,3.6L26.4,2.5L26.0,1.3L25.3,0.4L25.2,-0.8 M1.8,14.3L0.7,14.8L0.2,15.9L0.5,17.0L0.3,18.2 M3.9,25.9L3.6,27.0L3.9,28.2L3.8,29.4L3.7,30.6L3.1,31.7 M21.1,25.9L20.2,25.2L19.0,24.9 M16.8,1.8L17.2,2.9L18.0,3.8L19.2,4.1 M22.2,1.7L21.1,1.9L20.0,2.6 M19.8,-2.7L19.0,-1.8L18.6,-0.7 M26.5,27.6L26.7,26.4L26.3,25.3L26.9,24.2L27.6,23.3 M9.4,3.8L10.6,4.1L11.6,3.5L12.8,3.4L13.9,2.9 M5.1,4.2L4.4,5.2L4.4,6.4L4.6,7.5L4.5,8.7 M-2.8,11.1L-2.2,10.1L-1.6,9.1L-0.5,8.6 M-1.4,9.2L-2.5,9.7L-3.3,10.6L-4.0,11.6L-4.1,12.8 M10.4,26.9L10.1,25.7L9.5,24.7L9.5,23.5L9.4,22.3L9.3,21.1 M9.6,7.1L10.8,7.0L11.6,6.1L12.6,5.3L13.7,5.6 M11.3,18.3L11.2,19.5L10.9,20.6L9.9,21.3L9.1,22.2L8.0,22.8 M2.3,25.1L3.4,24.6L4.6,24.8L5.3,25.8L5.6,26.9L5.2,28.0 M11.0,2.3L10.1,1.4L8.9,1.6L8.2,2.6L8.6,3.7 M-1.5,23.7L-2.5,23.0L-3.7,22.6L-4.8,22.9 M28.6,21.5L29.1,20.4L29.2,19.2L29.0,18.0L28.6,16.9 M14.4,8.5L13.8,9.5L14.3,10.7L14.8,11.7L15.2,12.9L16.1,13.7 M27.4,28.9L26.2,29.1L25.0,29.2 M30.6,27.4L30.1,28.5L30.6,29.6L31.4,30.4L31.8,31.6 M37.3,21.0L36.9,22.1L35.8,22.5L34.6,22.6 M3.8,22.0L3.9,20.8L3.2,19.8L2.1,19.4 M34.3,9.8L33.3,9.3L32.8,8.2L33.2,7.1L33.9,6.1" fill="none" stroke="#6e0606" stroke-width="1.0" stroke-linecap="round" filter="url(#b03)"/><path d="M3.1,-0.6L2.0,-1.0L0.9,-1.5L-0.1,-2.2 M0.1,-2.6L0.6,-1.6L0.2,-0.4 M32.1,9.7L33.2,9.2L33.8,8.2 M15.5,13.3L14.4,13.8L13.5,14.6L12.9,15.6 M-2.4,17.1L-1.8,18.2L-2.2,19.3L-3.1,20.1 M8.1,14.7L8.6,13.7L8.9,12.5L8.2,11.5L7.6,10.5 M26.0,24.8L26.3,23.6L26.5,22.4 M11.1,-0.3L12.0,-1.1L13.0,-1.7L13.6,-2.7L14.4,-3.6 M15.9,10.2L17.1,10.1L18.2,10.4L19.3,10.9L20.4,11.4 M26.5,10.7L25.3,10.4L24.1,10.5L22.9,10.6L21.8,10.9 M24.9,-3.3L24.2,-2.3L23.7,-1.2L23.5,-0.0 M4.2,10.1L3.2,9.5L2.0,9.7L1.2,10.6L1.0,11.8 M22.7,17.5L23.7,18.2L24.9,18.4 M9.6,18.9L8.4,19.1L7.5,18.4L6.3,18.3 M6.3,3.9L5.2,4.3L4.1,3.8L3.3,2.9 M7.7,13.7L8.8,14.1L9.5,15.1L9.7,16.3L10.0,17.4 M30.9,-0.4L32.0,0.2L33.2,0.4L34.3,0.6 M9.7,23.6L10.7,22.9L11.5,22.0L11.9,20.9L11.4,19.8 M9.9,11.9L9.1,12.8L8.1,13.6L7.3,14.5L6.1,14.5 M32.7,-1.4L33.8,-1.0L34.2,0.2L34.7,1.3 M25.1,3.6L26.3,3.8L27.5,3.6L28.6,3.2L29.6,2.5 M24.8,18.1L25.8,18.7L26.1,19.8L25.3,20.8 M6.6,20.6L6.8,21.8L7.4,22.8L7.5,24.0 M-2.9,7.6L-3.2,8.7L-2.7,9.8L-1.5,10.1 M28.5,12.6L28.5,13.8L29.1,14.8L30.2,15.1L31.4,14.7 M1.0,5.9L-0.2,5.8L-1.4,5.8L-2.5,5.3 M18.8,2.6L19.9,3.2L21.0,2.8L22.2,2.8 M-2.3,24.2L-1.7,23.1L-2.2,22.0 M35.7,19.1L34.8,18.4L33.6,18.3 M-1.0,18.9L-1.9,19.7L-3.1,19.5L-4.3,19.2 M22.0,7.0L22.7,8.0L22.8,9.2 M18.9,25.4L18.1,26.3L17.8,27.4 M33.3,25.9L32.9,24.8L33.3,23.7L34.2,23.0L34.4,21.8 M17.5,20.4L16.4,20.0L15.3,19.4L14.1,19.6L12.9,19.8 M11.6,4.6L12.6,4.0L13.8,4.1L15.0,4.0L15.8,3.1 M16.9,0.6L16.4,-0.5L16.2,-1.7L16.0,-2.9L15.0,-3.6 M29.2,5.9L29.9,6.9L31.0,7.3L32.2,7.2L33.3,6.6 M2.5,27.8L3.6,28.4L4.2,29.4L5.0,30.3 M35.8,5.7L37.0,5.6L38.2,5.7L39.3,5.2L39.8,4.1 M20.3,24.7L19.3,25.3L18.9,26.5L19.3,27.6L19.6,28.8 M35.7,13.4L34.5,13.7L33.3,13.6L32.4,14.4L31.8,15.4" fill="none" stroke="#f07a7a" stroke-width="0.7" stroke-linecap="round" filter="url(#b03)"/></g></g><rect x="635.3" y="270.1" width="33.1" height="22.1" fill="none" stroke="#d84848" stroke-width="0.9" stroke-dasharray="2.2,1.4"/><ellipse cx="645.4" cy="262.3" rx="1.3" ry="0.8" fill="#2c2c7a" transform="rotate(-26 645.4 262.3)"/><ellipse cx="653.4" cy="260.5" rx="1.3" ry="0.8" fill="#2c2c7a" transform="rotate(-8 653.4 260.5)"/><ellipse cx="662.4" cy="259.7" rx="1.3" ry="0.8" fill="#2c2c7a" transform="rotate(12 662.4 259.7)"/><ellipse cx="670.6" cy="263.8" rx="1.3" ry="0.8" fill="#2c2c7a" transform="rotate(32 670.6 263.8)"/><ellipse cx="637.9" cy="265.7" rx="1.3" ry="0.8" fill="#2c2c7a" transform="rotate(-44 637.9 265.7)"/><ellipse cx="645.9" cy="266.2" rx="1.3" ry="0.8" fill="#2c2c7a" transform="rotate(-30 645.9 266.2)"/><ellipse cx="652.9" cy="265.0" rx="1.3" ry="0.8" fill="#2c2c7a" transform="rotate(-11 652.9 265.0)"/><ellipse cx="654.7" cy="265.9" rx="1.3" ry="0.8" fill="#2c2c7a" transform="rotate(-7 654.7 265.9)"/><ellipse cx="662.4" cy="263.2" rx="1.3" ry="0.8" fill="#2c2c7a" transform="rotate(13 662.4 263.2)"/><ellipse cx="669.9" cy="266.8" rx="1.3" ry="0.8" fill="#2c2c7a" transform="rotate(34 669.9 266.8)"/><ellipse cx="638.7" cy="268.7" rx="1.3" ry="0.8" fill="#2c2c7a" transform="rotate(-47 638.7 268.7)"/><ellipse cx="632.0" cy="272.7" rx="1.3" ry="0.8" fill="#2c2c7a" transform="rotate(-63 632.0 272.7)"/><ellipse cx="639.4" cy="273.6" rx="1.3" ry="0.8" fill="#2c2c7a" transform="rotate(-55 639.4 273.6)"/><ellipse cx="647.7" cy="271.2" rx="1.3" ry="0.8" fill="#2c2c7a" transform="rotate(-33 647.7 271.2)"/><ellipse cx="654.4" cy="271.7" rx="1.3" ry="0.8" fill="#2c2c7a" transform="rotate(-11 654.4 271.7)"/><ellipse cx="661.9" cy="270.9" rx="1.3" ry="0.8" fill="#2c2c7a" transform="rotate(18 661.9 270.9)"/><ellipse cx="669.9" cy="272.4" rx="1.3" ry="0.8" fill="#2c2c7a" transform="rotate(44 669.9 272.4)"/><ellipse cx="675.7" cy="271.4" rx="1.3" ry="0.8" fill="#2c2c7a" transform="rotate(52 675.7 271.4)"/><ellipse cx="633.5" cy="277.7" rx="1.3" ry="0.8" fill="#2c2c7a" transform="rotate(-71 633.5 277.7)"/><ellipse cx="630.5" cy="280.7" rx="1.3" ry="0.8" fill="#2c2c7a" transform="rotate(-79 630.5 280.7)"/><ellipse cx="634.7" cy="279.9" rx="1.3" ry="0.8" fill="#2c2c7a" transform="rotate(-75 634.7 279.9)"/><ellipse cx="640.9" cy="279.9" rx="1.3" ry="0.8" fill="#2c2c7a" transform="rotate(-70 640.9 279.9)"/><ellipse cx="647.7" cy="279.2" rx="1.3" ry="0.8" fill="#2c2c7a" transform="rotate(-55 647.7 279.2)"/><ellipse cx="654.9" cy="279.9" rx="1.3" ry="0.8" fill="#2c2c7a" transform="rotate(-20 654.9 279.9)"/><ellipse cx="661.6" cy="279.2" rx="1.3" ry="0.8" fill="#2c2c7a" transform="rotate(35 661.6 279.2)"/><ellipse cx="668.7" cy="278.4" rx="1.3" ry="0.8" fill="#2c2c7a" transform="rotate(58 668.7 278.4)"/><ellipse cx="675.1" cy="276.2" rx="1.3" ry="0.8" fill="#2c2c7a" transform="rotate(62 675.1 276.2)"/><ellipse cx="678.1" cy="279.6" rx="1.3" ry="0.8" fill="#2c2c7a" transform="rotate(74 678.1 279.6)"/><ellipse cx="632.0" cy="283.7" rx="1.3" ry="0.8" fill="#2c2c7a" transform="rotate(-85 632.0 283.7)"/><ellipse cx="636.4" cy="285.9" rx="1.3" ry="0.8" fill="#2c2c7a" transform="rotate(270 636.4 285.9)"/><ellipse cx="641.7" cy="287.1" rx="1.3" ry="0.8" fill="#2c2c7a" transform="rotate(265 641.7 287.1)"/><ellipse cx="648.4" cy="287.4" rx="1.3" ry="0.8" fill="#2c2c7a" transform="rotate(259 648.4 287.4)"/><ellipse cx="655.2" cy="287.1" rx="1.3" ry="0.8" fill="#2c2c7a" transform="rotate(234 655.2 287.1)"/><ellipse cx="661.9" cy="286.7" rx="1.3" ry="0.8" fill="#2c2c7a" transform="rotate(100 661.9 286.7)"/><ellipse cx="667.9" cy="285.9" rx="1.3" ry="0.8" fill="#2c2c7a" transform="rotate(91 667.9 285.9)"/><ellipse cx="673.2" cy="285.2" rx="1.3" ry="0.8" fill="#2c2c7a" transform="rotate(88 673.2 285.2)"/><ellipse cx="676.9" cy="283.7" rx="1.3" ry="0.8" fill="#2c2c7a" transform="rotate(84 676.9 283.7)"/><ellipse cx="641.7" cy="295.7" rx="1.3" ry="0.8" fill="#2c2c7a" transform="rotate(237 641.7 295.7)"/><ellipse cx="649.2" cy="296.1" rx="1.3" ry="0.8" fill="#2c2c7a" transform="rotate(217 649.2 296.1)"/><ellipse cx="655.2" cy="295.7" rx="1.3" ry="0.8" fill="#2c2c7a" transform="rotate(191 655.2 295.7)"/><ellipse cx="661.6" cy="295.2" rx="1.3" ry="0.8" fill="#2c2c7a" transform="rotate(154 661.6 295.2)"/><ellipse cx="667.2" cy="294.2" rx="1.3" ry="0.8" fill="#2c2c7a" transform="rotate(130 667.2 294.2)"/><ellipse cx="673.2" cy="291.9" rx="1.3" ry="0.8" fill="#2c2c7a" transform="rotate(111 673.2 291.9)"/><ellipse cx="677.7" cy="288.2" rx="1.3" ry="0.8" fill="#2c2c7a" transform="rotate(97 677.7 288.2)"/>
<polyline points="48.9,221.8 129.4,229.4 231.7,267.7 273.2,268.5 327.1,265.5 361.8,260.0 402.5,273.5 430.6,289.8 475.5,291.8 508.4,291.8 531.2,291.8" fill="none" stroke="#d4d4d4" stroke-width="1.15" stroke-dasharray="4.4,3.4"/><path d="M46.7,223.6L48.9,219.6L51.1,223.6ZM127.2,231.2L129.4,227.2L131.6,231.2ZM229.5,269.5L231.7,265.5L233.9,269.5ZM271.0,270.3L273.2,266.3L275.4,270.3ZM324.9,267.3L327.1,263.3L329.3,267.3ZM359.6,261.8L361.8,257.8L364.0,261.8ZM400.3,275.3L402.5,271.3L404.7,275.3ZM428.4,291.6L430.6,287.6L432.8,291.6ZM473.3,293.6L475.5,289.6L477.7,293.6ZM506.2,293.6L508.4,289.6L510.6,293.6ZM529.0,293.6L531.2,289.6L533.4,293.6Z" fill="#9dc3e6"/><polyline points="48.9,219.7 129.4,226.8 231.7,266.2 273.2,267.0 327.1,264.5 361.8,259.0 402.5,273.0 430.6,289.6 475.5,291.6 508.4,291.6 531.2,291.6" fill="none" stroke="#6f6f6f" stroke-width="1.15" stroke-dasharray="4.4,3.4" stroke-dashoffset="2"/><path d="M46.7,221.5L48.9,217.5L51.1,221.5ZM127.2,228.6L129.4,224.6L131.6,228.6ZM229.5,268.0L231.7,264.0L233.9,268.0ZM271.0,268.8L273.2,264.8L275.4,268.8ZM324.9,266.3L327.1,262.3L329.3,266.3ZM359.6,260.8L361.8,256.8L364.0,260.8ZM400.3,274.8L402.5,270.8L404.7,274.8ZM428.4,291.4L430.6,287.4L432.8,291.4ZM473.3,293.4L475.5,289.4L477.7,293.4ZM506.2,293.4L508.4,289.4L510.6,293.4ZM529.0,293.4L531.2,289.4L533.4,293.4Z" fill="#5a5a5a"/><polyline points="48.9,219.3 129.4,226.5 231.7,265.6 273.2,268.2 327.1,263.8 361.8,258.6 402.5,272.8 430.6,289.4 475.5,291.4 508.4,291.4 531.2,291.4 571.1,300.1 602.7,306.5 632.3,309.7" fill="none" stroke="#4a1212" stroke-width="1.15" stroke-dasharray="4.4,3.4"/><path d="M46.7,221.1L48.9,217.1L51.1,221.1ZM127.2,228.3L129.4,224.3L131.6,228.3ZM229.5,267.4L231.7,263.4L233.9,267.4ZM271.0,270.0L273.2,266.0L275.4,270.0ZM324.9,265.6L327.1,261.6L329.3,265.6ZM359.6,260.4L361.8,256.4L364.0,260.4ZM400.3,274.6L402.5,270.6L404.7,274.6ZM428.4,291.2L430.6,287.2L432.8,291.2ZM473.3,293.2L475.5,289.2L477.7,293.2ZM506.2,293.2L508.4,289.2L510.6,293.2ZM529.0,293.2L531.2,289.2L533.4,293.2ZM568.9,301.9L571.1,297.9L573.3,301.9ZM600.5,308.3L602.7,304.3L604.9,308.3ZM630.1,311.5L632.3,307.5L634.5,311.5Z" fill="#3a0a0a"/><polyline points="48.9,218.9 129.4,224.7 231.7,264.4 273.2,264.7 327.1,260.4 361.8,256.6 402.5,271.5 430.6,289.0 475.5,291.0 508.4,291.0 531.2,291.0 571.1,299.7 602.7,306.1 632.3,309.3" fill="none" stroke="#93ab2e" stroke-width="1.15" stroke-dasharray="4.4,3.4"/><path d="M46.7,220.7L48.9,216.7L51.1,220.7ZM127.2,226.5L129.4,222.5L131.6,226.5ZM229.5,266.2L231.7,262.2L233.9,266.2ZM271.0,266.5L273.2,262.5L275.4,266.5ZM324.9,262.2L327.1,258.2L329.3,262.2ZM359.6,258.4L361.8,254.4L364.0,258.4ZM400.3,273.3L402.5,269.3L404.7,273.3ZM428.4,290.8L430.6,286.8L432.8,290.8ZM473.3,292.8L475.5,288.8L477.7,292.8ZM506.2,292.8L508.4,288.8L510.6,292.8ZM529.0,292.8L531.2,288.8L533.4,292.8ZM568.9,301.5L571.1,297.5L573.3,301.5ZM600.5,307.9L602.7,303.9L604.9,307.9ZM630.1,311.1L632.3,307.1L634.5,311.1Z" fill="#5fae3e"/><polyline points="48.9,220.6 129.4,228.2 231.7,271.5 273.2,272.2 327.1,266.9 361.8,262.0 402.5,274.7 430.6,290.5 475.5,294.7 508.4,296.1 531.2,296.3 571.1,303.4 602.7,309.5 632.3,312.2" fill="none" stroke="#e0401c" stroke-width="1.15" stroke-dasharray="4.4,3.4"/><path d="M46.7,222.4L48.9,218.4L51.1,222.4ZM127.2,230.0L129.4,226.0L131.6,230.0ZM229.5,273.3L231.7,269.3L233.9,273.3ZM271.0,274.0L273.2,270.0L275.4,274.0ZM324.9,268.7L327.1,264.7L329.3,268.7ZM359.6,263.8L361.8,259.8L364.0,263.8ZM400.3,276.5L402.5,272.5L404.7,276.5ZM428.4,292.3L430.6,288.3L432.8,292.3ZM473.3,296.5L475.5,292.5L477.7,296.5ZM506.2,297.9L508.4,293.9L510.6,297.9ZM529.0,298.1L531.2,294.1L533.4,298.1ZM568.9,305.2L571.1,301.2L573.3,305.2ZM600.5,311.3L602.7,307.3L604.9,311.3ZM630.1,314.0L632.3,310.0L634.5,314.0Z" fill="#d42a1a"/><polyline points="48.9,223.3 129.4,233.0 231.7,273.0 273.2,273.5 327.1,270.0 361.8,264.2 402.5,276.0 430.6,291.0 475.5,295.2 508.4,296.6 531.2,296.8 571.1,303.9 602.7,310.0 632.3,312.7" fill="none" stroke="#f04a3a" stroke-width="1.15" stroke-dasharray="4.4,3.4"/><path d="M46.7,225.1L48.9,221.1L51.1,225.1ZM127.2,234.8L129.4,230.8L131.6,234.8ZM229.5,274.8L231.7,270.8L233.9,274.8ZM271.0,275.3L273.2,271.3L275.4,275.3ZM324.9,271.8L327.1,267.8L329.3,271.8ZM359.6,266.0L361.8,262.0L364.0,266.0ZM400.3,277.8L402.5,273.8L404.7,277.8ZM428.4,292.8L430.6,288.8L432.8,292.8ZM473.3,297.0L475.5,293.0L477.7,297.0ZM506.2,298.4L508.4,294.4L510.6,298.4ZM529.0,298.6L531.2,294.6L533.4,298.6ZM568.9,305.7L571.1,301.7L573.3,305.7ZM600.5,311.8L602.7,307.8L604.9,311.8ZM630.1,314.5L632.3,310.5L634.5,314.5Z" fill="#e83030"/><polyline points="48.9,231.9 129.4,246.6 231.7,290.4 273.2,285.0 327.1,280.5 361.8,275.1 402.5,283.7 430.6,296.6 475.5,301.1 508.4,303.6 531.2,304.0 571.1,310.3 602.7,313.6 632.3,316.3" fill="none" stroke="#f5b80f" stroke-width="1.15" stroke-dasharray="4.4,3.4"/><path d="M46.7,233.7L48.9,229.7L51.1,233.7ZM127.2,248.4L129.4,244.4L131.6,248.4ZM229.5,292.2L231.7,288.2L233.9,292.2ZM271.0,286.8L273.2,282.8L275.4,286.8ZM324.9,282.3L327.1,278.3L329.3,282.3ZM359.6,276.9L361.8,272.9L364.0,276.9ZM400.3,285.5L402.5,281.5L404.7,285.5ZM428.4,298.4L430.6,294.4L432.8,298.4ZM473.3,302.9L475.5,298.9L477.7,302.9ZM506.2,305.4L508.4,301.4L510.6,305.4ZM529.0,305.8L531.2,301.8L533.4,305.8ZM568.9,312.1L571.1,308.1L573.3,312.1ZM600.5,315.4L602.7,311.4L604.9,315.4ZM630.1,318.1L632.3,314.1L634.5,318.1Z" fill="#f5b80f"/><polyline points="48.9,126.4 129.4,155.7 231.7,232.7 273.2,234.7 327.1,230.8 361.8,218.8 402.5,236.0 430.6,261.4 475.5,265.9 508.4,268.5 531.2,268.3" fill="none" stroke="#c9c9c9" stroke-width="1.3"/><path d="M47.3,124.8h3.2v3.2h-3.2ZM127.8,154.1h3.2v3.2h-3.2ZM230.1,231.1h3.2v3.2h-3.2ZM271.6,233.1h3.2v3.2h-3.2ZM325.5,229.2h3.2v3.2h-3.2ZM360.2,217.2h3.2v3.2h-3.2ZM400.9,234.4h3.2v3.2h-3.2ZM429.0,259.8h3.2v3.2h-3.2ZM473.9,264.3h3.2v3.2h-3.2ZM506.8,266.9h3.2v3.2h-3.2ZM529.6,266.7h3.2v3.2h-3.2Z" fill="#c9c9c9"/><polyline points="48.9,118.4 129.4,140.4 231.7,220.8 273.2,220.2 327.1,215.2 361.8,202.8 402.5,225.5 430.6,257.0 475.5,264.5 508.4,268.0 531.2,268.0" fill="none" stroke="#7f7f7f" stroke-width="1.3"/><path d="M47.3,116.8h3.2v3.2h-3.2ZM127.8,138.8h3.2v3.2h-3.2ZM230.1,219.2h3.2v3.2h-3.2ZM271.6,218.6h3.2v3.2h-3.2ZM325.5,213.6h3.2v3.2h-3.2ZM360.2,201.2h3.2v3.2h-3.2ZM400.9,223.9h3.2v3.2h-3.2ZM429.0,255.4h3.2v3.2h-3.2ZM473.9,262.9h3.2v3.2h-3.2ZM506.8,266.4h3.2v3.2h-3.2ZM529.6,266.4h3.2v3.2h-3.2Z" fill="#7f7f7f"/><polyline points="48.9,113.7 129.4,130.3 231.7,216.7 273.2,218.6 327.1,208.3 361.8,197.8 402.5,224.2 430.6,256.0 475.5,263.5 508.4,267.6 531.2,267.3 571.1,283.0 602.7,294.5 632.3,299.7" fill="none" stroke="#4a1212" stroke-width="1.3"/><path d="M47.3,112.1h3.2v3.2h-3.2ZM127.8,128.7h3.2v3.2h-3.2ZM230.1,215.1h3.2v3.2h-3.2ZM271.6,217.0h3.2v3.2h-3.2ZM325.5,206.7h3.2v3.2h-3.2ZM360.2,196.2h3.2v3.2h-3.2ZM400.9,222.6h3.2v3.2h-3.2ZM429.0,254.4h3.2v3.2h-3.2ZM473.9,261.9h3.2v3.2h-3.2ZM506.8,266.0h3.2v3.2h-3.2ZM529.6,265.7h3.2v3.2h-3.2ZM569.5,281.4h3.2v3.2h-3.2ZM601.1,292.9h3.2v3.2h-3.2ZM630.7,298.1h3.2v3.2h-3.2Z" fill="#4a1212"/><polyline points="48.9,112.5 129.4,125.2 231.7,204.0 273.2,208.9 327.1,200.0 361.8,190.7 402.5,219.5 430.6,254.1 475.5,259.1 508.4,260.4 531.2,258.1 571.1,276.8 602.7,288.9 632.3,295.7" fill="none" stroke="#9ba21f" stroke-width="1.3"/><path d="M47.3,110.9h3.2v3.2h-3.2ZM127.8,123.6h3.2v3.2h-3.2ZM230.1,202.4h3.2v3.2h-3.2ZM271.6,207.3h3.2v3.2h-3.2ZM325.5,198.4h3.2v3.2h-3.2ZM360.2,189.1h3.2v3.2h-3.2ZM400.9,217.9h3.2v3.2h-3.2ZM429.0,252.5h3.2v3.2h-3.2ZM473.9,257.5h3.2v3.2h-3.2ZM506.8,258.8h3.2v3.2h-3.2ZM529.6,256.5h3.2v3.2h-3.2ZM569.5,275.2h3.2v3.2h-3.2ZM601.1,287.3h3.2v3.2h-3.2ZM630.7,294.1h3.2v3.2h-3.2Z" fill="#9ba21f"/><polyline points="48.9,138.7 129.4,167.5 231.7,257.1 273.2,245.0 327.1,234.7 361.8,224.4 402.5,240.4 430.6,267.8 475.5,277.5 508.4,282.6 531.2,282.6" fill="none" stroke="#c8361c" stroke-width="1.3"/><path d="M47.3,137.1h3.2v3.2h-3.2ZM127.8,165.9h3.2v3.2h-3.2ZM230.1,255.5h3.2v3.2h-3.2ZM271.6,243.4h3.2v3.2h-3.2ZM325.5,233.1h3.2v3.2h-3.2ZM360.2,222.8h3.2v3.2h-3.2ZM400.9,238.8h3.2v3.2h-3.2ZM429.0,266.2h3.2v3.2h-3.2ZM473.9,275.9h3.2v3.2h-3.2ZM506.8,281.0h3.2v3.2h-3.2ZM529.6,281.0h3.2v3.2h-3.2Z" fill="#c8361c"/><polyline points="48.9,157.9 129.4,184.3 231.7,259.9 273.2,255.1 327.1,256.2 361.8,246.4 402.5,259.2 430.6,275.2 475.5,281.0 508.4,282.8 531.2,282.8 571.1,294.9 602.7,301.5 632.3,306.1" fill="none" stroke="#f25c5c" stroke-width="1.3"/><path d="M47.3,156.3h3.2v3.2h-3.2ZM127.8,182.7h3.2v3.2h-3.2ZM230.1,258.3h3.2v3.2h-3.2ZM271.6,253.5h3.2v3.2h-3.2ZM325.5,254.6h3.2v3.2h-3.2ZM360.2,244.8h3.2v3.2h-3.2ZM400.9,257.6h3.2v3.2h-3.2ZM429.0,273.6h3.2v3.2h-3.2ZM473.9,279.4h3.2v3.2h-3.2ZM506.8,281.2h3.2v3.2h-3.2ZM529.6,281.2h3.2v3.2h-3.2ZM569.5,293.3h3.2v3.2h-3.2ZM601.1,299.9h3.2v3.2h-3.2ZM630.7,304.5h3.2v3.2h-3.2Z" fill="#f25c5c"/><polyline points="48.9,231.0 129.4,240.8 231.7,290.4 273.2,282.4 327.1,277.6 361.8,271.8 402.5,280.6 430.6,292.0 475.5,296.6 508.4,299.4 531.2,299.4 571.1,307.0 602.7,311.0 632.3,314.0" fill="none" stroke="#f5b80f" stroke-width="1.3"/><path d="M47.3,229.4h3.2v3.2h-3.2ZM127.8,239.2h3.2v3.2h-3.2ZM230.1,288.8h3.2v3.2h-3.2ZM271.6,280.8h3.2v3.2h-3.2ZM325.5,276.0h3.2v3.2h-3.2ZM360.2,270.2h3.2v3.2h-3.2ZM400.9,279.0h3.2v3.2h-3.2ZM429.0,290.4h3.2v3.2h-3.2ZM473.9,295.0h3.2v3.2h-3.2ZM506.8,297.8h3.2v3.2h-3.2ZM529.6,297.8h3.2v3.2h-3.2ZM569.5,305.4h3.2v3.2h-3.2ZM601.1,309.4h3.2v3.2h-3.2ZM630.7,312.4h3.2v3.2h-3.2Z" fill="#f5b80f"/>

<text x="28.5" y="112.1" font-size="7" fill="#595959" textLength="8.7" lengthAdjust="spacingAndGlyphs">0.5</text><text x="25.2" y="219.6" font-size="7" fill="#595959" textLength="11.9" lengthAdjust="spacingAndGlyphs">0.25</text><text x="37.2" y="327" font-size="7" fill="#595959" text-anchor="end">0</text><text x="47.1" y="247.6" font-size="7" fill="#262626" text-anchor="middle">9</text><text x="129" y="264.0" font-size="7" fill="#262626" text-anchor="middle">26</text><text x="233.3" y="307.5" font-size="7" fill="#262626" text-anchor="middle">108</text><text x="272.6" y="298.3" font-size="7" fill="#262626" text-anchor="middle">192</text><text x="327" y="292.2" font-size="7" fill="#262626" text-anchor="middle">404</text><text x="362.3" y="287.9" font-size="7" fill="#262626" text-anchor="middle">656</text><text x="401.7" y="297.6" font-size="7" fill="#262626" text-anchor="middle">1146</text><text x="433.6" y="310.5" font-size="7" fill="#262626" text-anchor="middle">1697</text><text x="475.7" y="314.0" font-size="7" fill="#262626" text-anchor="middle">3162</text><text x="504.5" y="316.1" font-size="7" fill="#262626" text-anchor="middle">4986</text><text x="531.2" y="316.6" font-size="7" fill="#262626" text-anchor="middle">6813</text><text x="574" y="323.0" font-size="7" fill="#262626" text-anchor="middle">11840</text><text x="602" y="324.1" font-size="7" fill="#262626" text-anchor="middle">18270</text><text x="634.7" y="326.7" font-size="7" fill="#262626" text-anchor="middle">27540</text><text x="291" y="332.5" font-size="7.2" fill="#595959" textLength="49.5" lengthAdjust="spacingAndGlyphs">target area (mm</text><text x="340.8" y="329.6" font-size="4.6" fill="#595959">2</text><text x="346.8" y="332.5" font-size="7.2" fill="#595959" textLength="25.9" lengthAdjust="spacingAndGlyphs">log scale)</text><text transform="translate(9.8,182.8) rotate(-90)" font-size="9" fill="#595959" text-anchor="middle">&lt;E<tspan font-size="5.5" dy="1.8">n</tspan><tspan dy="-1.8">&gt; (V/m)</tspan></text>
<path d="M387.5,20.5 L387.5,15.5 L684.5,15.5 L684.5,20.5" fill="none" stroke="#595959" stroke-width="0.9"/><text x="497.3" y="11.9" font-size="7" fill="#1a1a1a" textLength="4.4" lengthAdjust="spacingAndGlyphs" font-style="italic">(I</text><text x="501.7" y="12.6" font-size="4.8" fill="#1a1a1a" textLength="24.8" lengthAdjust="spacingAndGlyphs" font-style="italic">max channel</text><text x="527.0" y="11.9" font-size="7" fill="#1a1a1a" textLength="1.8" lengthAdjust="spacingAndGlyphs" font-style="italic">;</text><text x="532.6" y="11.9" font-size="7" fill="#1a1a1a" textLength="1.6" lengthAdjust="spacingAndGlyphs" font-style="italic">I</text><text x="536.4" y="12.6" font-size="4.8" fill="#1a1a1a" textLength="21.1" lengthAdjust="spacingAndGlyphs" font-style="italic">max total</text><text x="558.6" y="11.9" font-size="7" fill="#1a1a1a" textLength="2.0" lengthAdjust="spacingAndGlyphs" font-style="italic">)</text><text x="563.1" y="11.9" font-size="6.5" fill="#1a1a1a" textLength="10.3" lengthAdjust="spacingAndGlyphs" font-style="italic" font-weight="bold">mA</text><text x="336.7" y="24.8" font-size="4.8" fill="#404040" textLength="3.0" lengthAdjust="spacingAndGlyphs" font-style="italic">E</text><text x="339.8" y="25.8" font-size="3.2" fill="#404040" textLength="1.8" lengthAdjust="spacingAndGlyphs" font-style="italic">n</text><text x="341.0" y="23.2" font-size="3.2" fill="#404040" textLength="10.5" lengthAdjust="spacingAndGlyphs" font-style="italic">target</text><text x="352.6" y="24.8" font-size="4.8" fill="#404040" textLength="2.6" lengthAdjust="spacingAndGlyphs" font-style="italic">=</text><text x="356.4" y="24.8" font-size="4.8" fill="#404040" textLength="21.5" lengthAdjust="spacingAndGlyphs" font-style="italic">0.50 V/m</text><text x="336.7" y="37.0" font-size="4.8" fill="#404040" textLength="3.0" lengthAdjust="spacingAndGlyphs" font-style="italic">E</text><text x="339.8" y="38.0" font-size="3.2" fill="#404040" textLength="1.8" lengthAdjust="spacingAndGlyphs" font-style="italic">n</text><text x="341.0" y="35.4" font-size="3.2" fill="#404040" textLength="10.5" lengthAdjust="spacingAndGlyphs" font-style="italic">target</text><text x="352.6" y="37.0" font-size="4.8" fill="#404040" textLength="2.6" lengthAdjust="spacingAndGlyphs" font-style="italic">=</text><text x="356.4" y="37.0" font-size="4.8" fill="#404040" textLength="21.5" lengthAdjust="spacingAndGlyphs" font-style="italic">0.25 V/m</text><line x1="392.4" y1="24.4" x2="412.0" y2="24.4" stroke="#c9c9c9" stroke-width="1.3"/><rect x="400.59999999999997" y="22.799999999999997" width="3.2" height="3.2" fill="#c9c9c9"/><line x1="392.4" y1="36.0" x2="412.0" y2="36.0" stroke="#c9c9c9" stroke-width="1.3" stroke-dasharray="4.4,3.2,4.4,3.2,4.4"/><path d="M400.0,37.8 L402.2,33.8 L404.4,37.8Z" fill="#9dc3e6"/><text x="414.0" y="26.799999999999997" font-size="7" fill="#262626">(1; 4)</text><text x="414.0" y="38.4" font-size="7" fill="#262626">(1; 4)</text><line x1="434.4" y1="24.4" x2="454.0" y2="24.4" stroke="#7f7f7f" stroke-width="1.3"/><rect x="442.59999999999997" y="22.799999999999997" width="3.2" height="3.2" fill="#7f7f7f"/><line x1="434.4" y1="36.0" x2="454.0" y2="36.0" stroke="#6f6f6f" stroke-width="1.3" stroke-dasharray="4.4,3.2,4.4,3.2,4.4"/><path d="M442.0,37.8 L444.2,33.8 L446.4,37.8Z" fill="#5a5a5a"/><text x="456.0" y="26.799999999999997" font-size="7" fill="#262626">(2; 4)</text><text x="456.0" y="38.4" font-size="7" fill="#262626">(2; 4)</text><line x1="476.4" y1="24.4" x2="496.0" y2="24.4" stroke="#4a1212" stroke-width="1.3"/><rect x="484.59999999999997" y="22.799999999999997" width="3.2" height="3.2" fill="#4a1212"/><line x1="476.4" y1="36.0" x2="496.0" y2="36.0" stroke="#4a1212" stroke-width="1.3" stroke-dasharray="4.4,3.2,4.4,3.2,4.4"/><path d="M484.0,37.8 L486.2,33.8 L488.4,37.8Z" fill="#3a0a0a"/><text x="498.0" y="26.799999999999997" font-size="7" fill="#262626">(4; 4)</text><text x="498.0" y="38.4" font-size="7" fill="#262626">(4; 4)</text><line x1="518.4" y1="24.4" x2="538.0" y2="24.4" stroke="#9ba21f" stroke-width="1.3"/><rect x="526.6" y="22.799999999999997" width="3.2" height="3.2" fill="#9ba21f"/><line x1="518.4" y1="36.0" x2="538.0" y2="36.0" stroke="#8aa832" stroke-width="1.3" stroke-dasharray="4.4,3.2,4.4,3.2,4.4"/><path d="M526.0,37.8 L528.2,33.8 L530.4,37.8Z" fill="#5fae3e"/><text x="540.0" y="26.799999999999997" font-size="7" fill="#262626">(8; 8)</text><text x="540.0" y="38.4" font-size="7" fill="#262626">(8; 8)</text><line x1="560.4" y1="24.4" x2="580.0" y2="24.4" stroke="#c8361c" stroke-width="1.3"/><rect x="568.6" y="22.799999999999997" width="3.2" height="3.2" fill="#c8361c"/><line x1="560.4" y1="36.0" x2="580.0" y2="36.0" stroke="#e0401c" stroke-width="1.3" stroke-dasharray="4.4,3.2,4.4,3.2,4.4"/><path d="M568.0,37.8 L570.2,33.8 L572.4,37.8Z" fill="#c81e1e"/><text x="582.0" y="26.799999999999997" font-size="7" fill="#262626">(2; 2)</text><text x="582.0" y="38.4" font-size="7" fill="#262626">(2; 2)</text><line x1="602.4" y1="24.4" x2="622.0" y2="24.4" stroke="#f25c5c" stroke-width="1.3"/><rect x="610.6" y="22.799999999999997" width="3.2" height="3.2" fill="#f25c5c"/><line x1="602.4" y1="36.0" x2="622.0" y2="36.0" stroke="#f04545" stroke-width="1.3" stroke-dasharray="4.4,3.2,4.4,3.2,4.4"/><path d="M610.0,37.8 L612.2,33.8 L614.4,37.8Z" fill="#e83030"/><text x="624.0" y="26.799999999999997" font-size="7" fill="#262626">(1; 2)</text><text x="624.0" y="38.4" font-size="7" fill="#262626">(1; 2)</text><line x1="644.4" y1="24.4" x2="664.0" y2="24.4" stroke="#f5b80f" stroke-width="1.3"/><rect x="652.6" y="22.799999999999997" width="3.2" height="3.2" fill="#f5b80f"/><line x1="644.4" y1="36.0" x2="664.0" y2="36.0" stroke="#f5b80f" stroke-width="1.3" stroke-dasharray="4.4,3.2,4.4,3.2,4.4"/><path d="M652.0,37.8 L654.2,33.8 L656.4,37.8Z" fill="#f5b80f"/><text x="666.0" y="26.799999999999997" font-size="7" fill="#262626">(1; 1)</text><text x="666.0" y="38.4" font-size="7" fill="#262626">(1; 1)</text>
</svg>
</body></html>
